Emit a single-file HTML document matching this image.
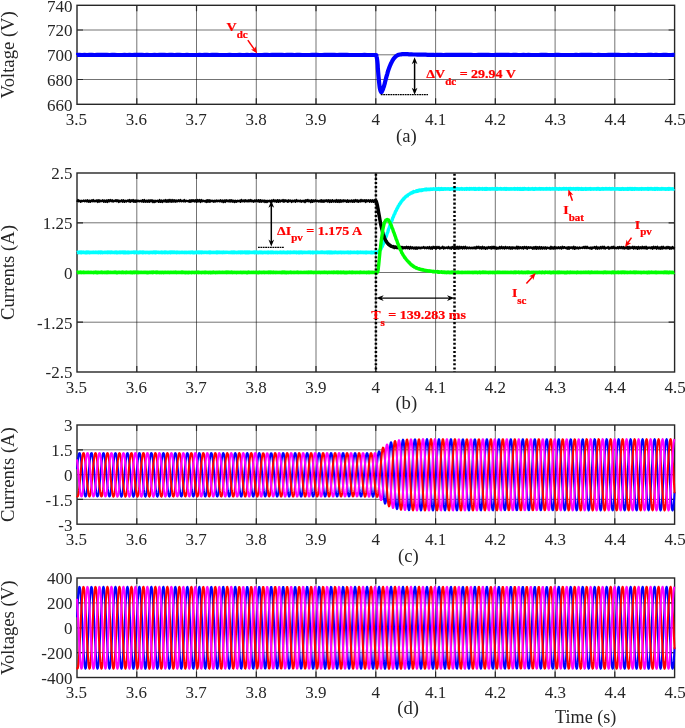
<!DOCTYPE html>
<html><head><meta charset="utf-8"><title>Simulation results</title>
<style>html,body{margin:0;padding:0;background:#fff}svg{display:block}text{font-family:'Liberation Serif', 'DejaVu Serif', serif;fill:#262626}text.r{fill:#ff0000;font-weight:bold;stroke:#ff0000;stroke-width:0.25px}</style>
</head><body>
<svg width="685" height="728" viewBox="0 0 685 728">
<rect width="685" height="728" fill="#fff"/>
<path d="M136.8,5.3 V104.3 M196.5,5.3 V104.3 M256.3,5.3 V104.3 M316,5.3 V104.3 M375.8,5.3 V104.3 M435.6,5.3 V104.3 M495.3,5.3 V104.3 M555.1,5.3 V104.3 M614.8,5.3 V104.3" stroke="#000" stroke-opacity="0.55" stroke-width="1" fill="none"/>
<path d="M77,79.5 H674.6 M77,54.8 H674.6 M77,30 H674.6" stroke="#000" stroke-opacity="0.55" stroke-width="1" fill="none"/>
<path d="M136.8,104.3 v-6 M136.8,5.3 v6 M196.5,104.3 v-6 M196.5,5.3 v6 M256.3,104.3 v-6 M256.3,5.3 v6 M316,104.3 v-6 M316,5.3 v6 M375.8,104.3 v-6 M375.8,5.3 v6 M435.6,104.3 v-6 M435.6,5.3 v6 M495.3,104.3 v-6 M495.3,5.3 v6 M555.1,104.3 v-6 M555.1,5.3 v6 M614.8,104.3 v-6 M614.8,5.3 v6 M77,79.5 h6 M674.6,79.5 h-6 M77,54.8 h6 M674.6,54.8 h-6 M77,30 h6 M674.6,30 h-6" stroke="#262626" stroke-width="1.2" fill="none"/>
<rect x="77" y="5.3" width="597.6" height="99" fill="none" stroke="#262626" stroke-width="1.4"/>
<text x="72.4" y="110.7" text-anchor="end" font-size="17">660</text>
<text x="72.4" y="86" text-anchor="end" font-size="17">680</text>
<text x="72.4" y="61.2" text-anchor="end" font-size="17">700</text>
<text x="72.4" y="36.4" text-anchor="end" font-size="17">720</text>
<text x="72.4" y="11.7" text-anchor="end" font-size="17">740</text>
<text x="76.4" y="124.8" text-anchor="middle" font-size="17">3.5</text>
<text x="136.3" y="124.8" text-anchor="middle" font-size="17">3.6</text>
<text x="196.1" y="124.8" text-anchor="middle" font-size="17">3.7</text>
<text x="256" y="124.8" text-anchor="middle" font-size="17">3.8</text>
<text x="315.8" y="124.8" text-anchor="middle" font-size="17">3.9</text>
<text x="375.7" y="124.8" text-anchor="middle" font-size="17">4</text>
<text x="435.6" y="124.8" text-anchor="middle" font-size="17">4.1</text>
<text x="495.4" y="124.8" text-anchor="middle" font-size="17">4.2</text>
<text x="555.3" y="124.8" text-anchor="middle" font-size="17">4.3</text>
<text x="615.1" y="124.8" text-anchor="middle" font-size="17">4.4</text>
<text x="675" y="124.8" text-anchor="middle" font-size="17">4.5</text>
<text transform="translate(13.5,54.8) rotate(-90)" text-anchor="middle" font-size="18.67">Voltage (V)</text>
<text x="406.3" y="142.1" text-anchor="middle" font-size="18.67">(a)</text>
<svg x="76" y="5.3" width="599.8" height="99" viewBox="76 5.3 599.8 99" overflow="hidden">
<path d="M77,55 77,54.9 79.5,54.9 82,55 84.5,54.9 87,55 89.5,54.9 92,54.9 94.5,55 97,54.9 99.5,54.9 102,54.9 104.5,54.9 107,54.9 109.5,55 112,54.9 114.5,54.9 117,55 119.5,55 122,55 124.5,54.9 127,55 129.5,54.9 132,55 134.5,54.9 137,54.9 139.5,54.9 142,54.9 144.5,55 147,54.9 149.5,55 152,55 154.5,54.9 157,55 159.5,54.9 162,54.9 164.5,54.9 167,55 169.5,54.9 172,54.9 174.5,55 177,54.9 179.5,54.9 182,55 184.5,55 187,54.9 189.5,55 192,55 194.5,55 197,55 199.5,54.9 202,55 204.5,54.9 207,54.9 209.5,55 212,54.9 214.5,54.9 217,54.9 219.5,55 222,55 224.5,55 227,55 229.5,54.9 232,55 234.5,55 237,55 239.5,54.9 242,55 244.5,55 247,54.9 249.5,55 252,54.9 254.5,55 257,55 259.5,55 262,55 264.5,54.9 267,54.9 269.5,55 272,54.9 274.5,54.9 277,54.9 279.5,54.9 282,54.9 284.5,55 287,54.9 289.5,54.9 292,54.9 294.5,55 297,54.9 299.5,54.9 302,55 304.5,55 307,55 309.5,55 312,54.9 314.5,54.9 317,54.9 319.5,55 322,55 324.5,54.9 327,54.9 329.5,54.9 332,54.9 334.5,54.9 337,55 339.5,54.9 342,54.9 344.5,54.9 347,54.9 349.5,55 352,55 354.5,55 357,55 359.5,55 362,55 364.5,54.9 367,55 369.5,55 372,55 374.5,55 376.3,55 376.4,55.5 376.6,56.2 376.7,57.1 376.9,58.2 377.1,59.5 377.3,61 377.5,62.9 377.7,65.2 377.8,67.6 378,70.2 378.2,72.7 378.4,75 378.6,77.2 378.8,79.3 379,81.4 379.2,83.4 379.4,85.1 379.6,86.7 379.8,88 380.1,89.2 380.3,90.2 380.6,91 380.9,91.6 381.1,92 381.3,92.2 381.6,92.1 381.8,91.8 382,91.3 382.2,90.8 382.5,90.2 382.8,89.6 383.1,88.9 383.3,88 383.6,87.1 384,86.1 384.3,85 384.7,83.7 385,82.3 385.4,80.8 385.8,79.2 386.2,77.6 386.6,76.2 387,74.8 387.4,73.5 387.7,72.2 388.1,71 388.5,69.7 388.9,68.6 389.3,67.5 389.7,66.5 390.1,65.5 390.5,64.6 390.9,63.7 391.3,62.8 391.8,61.9 392.2,61.1 392.7,60.2 393.2,59.5 393.7,58.7 394.2,58.1 394.7,57.5 395.2,57 395.6,56.6 396.1,56.2 396.6,55.8 397.1,55.5 397.6,55.2 398,55 398.4,54.9 398.9,54.7 399.4,54.6 400,54.5 400.7,54.4 401.3,54.3 402.1,54.2 402.9,54.2 403.8,54.1 404.7,54.1 405.7,54.1 406.7,54.1 407.8,54.2 408.9,54.3 410.2,54.3 411.7,54.4 413.4,54.5 415.3,54.5 417.3,54.6 419.3,54.6 421.4,54.7 423.4,54.7 425.5,54.7 427.7,54.8 429.9,54.8 432,54.9 433.7,54.9 435,55 436,54.9 438.5,54.9 441,54.9 443.5,55 446,54.9 448.5,54.9 451,54.9 453.5,54.9 456,54.9 458.5,54.9 461,54.9 463.5,54.9 466,54.9 468.5,54.9 471,54.9 473.5,55 476,55 478.5,54.9 481,54.9 483.5,54.9 486,54.9 488.5,54.9 491,55 493.5,55 496,54.9 498.5,54.9 501,54.9 503.5,54.9 506,54.9 508.5,54.9 511,55 513.5,54.9 516,54.9 518.5,55 521,55 523.5,54.9 526,55 528.5,54.9 531,55 533.5,55 536,55 538.5,55 541,54.9 543.5,54.9 546,54.9 548.5,55 551,55 553.5,55 556,54.9 558.5,54.9 561,55 563.5,55 566,55 568.5,55 571,55 573.5,55 576,54.9 578.5,55 581,54.9 583.5,54.9 586,54.9 588.5,54.9 591,54.9 593.5,55 596,55 598.5,54.9 601,55 603.5,55 606,55 608.5,54.9 611,54.9 613.5,54.9 616,54.9 618.5,54.9 621,55 623.5,55 626,55 628.5,54.9 631,55 633.5,55 636,54.9 638.5,55 641,55 643.5,55 646,55 648.5,54.9 651,54.9 653.5,55 656,54.9 658.5,55 661,55 663.5,54.9 666,54.9 668.5,55 671,55 673.5,54.9 674.6,55" stroke="#0000ff" stroke-width="4.2" fill="none" stroke-linejoin="round"/>
</svg>
<path d="M380.8,94.7 H428" stroke="#000" stroke-width="1.3" stroke-dasharray="1.8 0.6" fill="none"/>
<path d="M414.60,61.40 L414.60,90.50" stroke="#000" stroke-width="1.5" fill="none"/>
<path d="M414.6,94.7 L411.75,87.70 L414.60,89.80 L417.45,87.70 Z" fill="#000"/>
<path d="M414.6,57.2 L417.45,64.20 L414.60,62.10 L411.75,64.20 Z" fill="#000"/>
<text transform="translate(226.6,30.9) scale(1,0.95)" font-size="14" class="r">V<tspan dy="6.95" font-size="11">dc</tspan></text>
<path d="M247.80,40.10 L254.85,50.07" stroke="#ff0000" stroke-width="1.5" fill="none"/>
<path d="M257.2,53.4 L251.03,49.43 L254.26,49.24 L255.52,46.26 Z" fill="#ff0000"/>
<text transform="translate(426.3,78.4) scale(1,0.95)" font-size="14" class="r">&#916;V<tspan dy="6.95" font-size="11">dc</tspan><tspan dy="-6.95" font-size="14"> = 29.94 V</tspan></text>
<path d="M136.8,173 V372 M196.5,173 V372 M256.3,173 V372 M316,173 V372 M375.8,173 V372 M435.6,173 V372 M495.3,173 V372 M555.1,173 V372 M614.8,173 V372" stroke="#000" stroke-opacity="0.55" stroke-width="1" fill="none"/>
<path d="M77,322.2 H674.6 M77,272.5 H674.6 M77,222.8 H674.6" stroke="#000" stroke-opacity="0.55" stroke-width="1" fill="none"/>
<path d="M136.8,372 v-6 M136.8,173 v6 M196.5,372 v-6 M196.5,173 v6 M256.3,372 v-6 M256.3,173 v6 M316,372 v-6 M316,173 v6 M375.8,372 v-6 M375.8,173 v6 M435.6,372 v-6 M435.6,173 v6 M495.3,372 v-6 M495.3,173 v6 M555.1,372 v-6 M555.1,173 v6 M614.8,372 v-6 M614.8,173 v6 M77,322.2 h6 M674.6,322.2 h-6 M77,272.5 h6 M674.6,272.5 h-6 M77,222.8 h6 M674.6,222.8 h-6" stroke="#262626" stroke-width="1.2" fill="none"/>
<rect x="77" y="173" width="597.6" height="199" fill="none" stroke="#262626" stroke-width="1.4"/>
<text x="72.4" y="378.4" text-anchor="end" font-size="17">-2.5</text>
<text x="72.4" y="328.6" text-anchor="end" font-size="17">-1.25</text>
<text x="72.4" y="278.9" text-anchor="end" font-size="17">0</text>
<text x="72.4" y="229.2" text-anchor="end" font-size="17">1.25</text>
<text x="72.4" y="179.4" text-anchor="end" font-size="17">2.5</text>
<text x="76.4" y="392.5" text-anchor="middle" font-size="17">3.5</text>
<text x="136.3" y="392.5" text-anchor="middle" font-size="17">3.6</text>
<text x="196.1" y="392.5" text-anchor="middle" font-size="17">3.7</text>
<text x="256" y="392.5" text-anchor="middle" font-size="17">3.8</text>
<text x="315.8" y="392.5" text-anchor="middle" font-size="17">3.9</text>
<text x="375.7" y="392.5" text-anchor="middle" font-size="17">4</text>
<text x="435.6" y="392.5" text-anchor="middle" font-size="17">4.1</text>
<text x="495.4" y="392.5" text-anchor="middle" font-size="17">4.2</text>
<text x="555.3" y="392.5" text-anchor="middle" font-size="17">4.3</text>
<text x="615.1" y="392.5" text-anchor="middle" font-size="17">4.4</text>
<text x="675" y="392.5" text-anchor="middle" font-size="17">4.5</text>
<text transform="translate(13.5,272.5) rotate(-90)" text-anchor="middle" font-size="18.67">Currents (A)</text>
<text x="406.3" y="408.8" text-anchor="middle" font-size="18.67">(b)</text>
<svg x="76" y="173" width="599.8" height="199" viewBox="76 173 599.8 199" overflow="hidden">
<path d="M77,252.6 77.7,252.2 78.4,252.8 79.1,252.1 79.8,252.6 80.5,252 81.2,252.8 81.9,252.1 82.6,252.6 83.3,252.1 84,252.6 84.7,252.3 85.4,252.8 86.1,252.1 86.8,252.7 87.5,252 88.2,252.6 88.9,252 89.6,252.8 90.3,252.2 91,252.6 91.7,252.2 92.4,252.6 93.1,252.1 93.8,252.6 94.5,252.2 95.2,252.6 95.9,252 96.6,252.6 97.3,252.2 98,252.7 98.7,252 99.4,252.6 100.1,252 100.8,252.7 101.5,252.1 102.2,252.7 102.9,252.3 103.6,252.6 104.3,252.2 105,252.5 105.7,252.1 106.4,252.6 107.1,252.1 107.8,252.7 108.5,252.1 109.2,252.6 109.9,252.1 110.6,252.7 111.3,252.1 112,252.5 112.7,252.1 113.4,252.6 114.1,252.2 114.8,252.7 115.5,252.1 116.2,252.7 116.9,252.1 117.6,252.8 118.3,252.2 119,252.7 119.7,252.1 120.4,252.7 121.1,252.1 121.8,252.6 122.5,252.1 123.2,252.7 123.9,252 124.6,252.7 125.3,252 126,252.8 126.7,252.2 127.4,252.7 128.1,252 128.8,252.8 129.5,252.2 130.2,252.6 130.9,252.2 131.6,252.5 132.3,252.2 133,252.5 133.7,252.1 134.4,252.7 135.1,252 135.8,252.6 136.5,252.1 137.2,252.7 137.9,252.2 138.6,252.8 139.3,252 140,252.6 140.7,252 141.4,252.6 142.1,252.1 142.8,252.8 143.5,252 144.2,252.6 144.9,252.2 145.6,252.7 146.3,252.2 147,252.6 147.7,252.2 148.4,252.7 149.1,252.3 149.8,252.7 150.5,252.2 151.2,252.5 151.9,252.2 152.6,252.7 153.3,252.1 154,252.5 154.7,252 155.4,252.7 156.1,252 156.8,252.5 157.5,252.2 158.2,252.5 158.9,252.1 159.6,252.6 160.3,252.2 161,252.6 161.7,252 162.4,252.7 163.1,252.2 163.8,252.6 164.5,252 165.2,252.7 165.9,252.1 166.6,252.5 167.3,252.3 168,252.7 168.7,252.2 169.4,252.5 170.1,252 170.8,252.7 171.5,252.1 172.2,252.5 172.9,252 173.6,252.5 174.3,252 175,252.6 175.7,252.2 176.4,252.7 177.1,252 177.8,252.6 178.5,252.2 179.2,252.7 179.9,252.2 180.6,252.6 181.3,252.2 182,252.5 182.7,252.2 183.4,252.6 184.1,252.2 184.8,252.7 185.5,252.2 186.2,252.7 186.9,252.2 187.6,252.6 188.3,252.3 189,252.6 189.7,252.3 190.4,252.7 191.1,252.1 191.8,252.6 192.5,252.1 193.2,252.8 193.9,252.3 194.6,252.7 195.3,252.2 196,252.7 196.7,252 197.4,252.6 198.1,252.1 198.8,252.7 199.5,252 200.2,252.6 200.9,252 201.6,252.7 202.3,252.1 203,252.6 203.7,252.2 204.4,252.5 205.1,252.2 205.8,252.5 206.5,252.1 207.2,252.6 207.9,252.2 208.6,252.5 209.3,252 210,252.8 210.7,252.1 211.4,252.6 212.1,252.2 212.8,252.6 213.5,252.2 214.2,252.6 214.9,252.2 215.6,252.6 216.3,252 217,252.8 217.7,252.1 218.4,252.6 219.1,252 219.8,252.6 220.5,252.2 221.2,252.5 221.9,252.2 222.6,252.7 223.3,252.1 224,252.6 224.7,252.1 225.4,252.5 226.1,252.2 226.8,252.5 227.5,252.2 228.2,252.5 228.9,252.3 229.6,252.6 230.3,252.2 231,252.7 231.7,252.1 232.4,252.7 233.1,252.1 233.8,252.7 234.5,252 235.2,252.6 235.9,252.2 236.6,252.8 237.3,252.2 238,252.7 238.7,252.1 239.4,252.5 240.1,252 240.8,252.8 241.5,252.1 242.2,252.7 242.9,252.1 243.6,252.6 244.3,252.1 245,252.7 245.7,252 246.4,252.7 247.1,252 247.8,252.7 248.5,252 249.2,252.7 249.9,252.1 250.6,252.6 251.3,252.3 252,252.6 252.7,252.2 253.4,252.5 254.1,252 254.8,252.7 255.5,252.1 256.2,252.7 256.9,252.1 257.6,252.7 258.3,252.3 259,252.7 259.7,252.1 260.4,252.7 261.1,252.1 261.8,252.7 262.5,252.3 263.2,252.7 263.9,252.2 264.6,252.5 265.3,252.2 266,252.7 266.7,252.2 267.4,252.7 268.1,252 268.8,252.7 269.5,252.2 270.2,252.7 270.9,252.1 271.6,252.7 272.3,252.1 273,252.7 273.7,252.3 274.4,252.6 275.1,252.2 275.8,252.7 276.5,252.2 277.2,252.7 277.9,252.3 278.6,252.5 279.3,252.2 280,252.7 280.7,252.1 281.4,252.7 282.1,252.2 282.8,252.7 283.5,252.1 284.2,252.7 284.9,252.2 285.6,252.8 286.3,252.2 287,252.8 287.7,252 288.4,252.5 289.1,252.2 289.8,252.7 290.5,252 291.2,252.6 291.9,252.2 292.6,252.6 293.3,252 294,252.6 294.7,252.1 295.4,252.6 296.1,252.1 296.8,252.8 297.5,252.2 298.2,252.7 298.9,252.1 299.6,252.8 300.3,252.1 301,252.6 301.7,252 302.4,252.7 303.1,252.3 303.8,252.5 304.5,252.1 305.2,252.6 305.9,252.2 306.6,252.6 307.3,252.2 308,252.6 308.7,252 309.4,252.5 310.1,252.1 310.8,252.8 311.5,252.2 312.2,252.8 312.9,252.1 313.6,252.8 314.3,252.2 315,252.6 315.7,252.2 316.4,252.8 317.1,252.1 317.8,252.6 318.5,252.2 319.2,252.6 319.9,252.3 320.6,252.5 321.3,252 322,252.6 322.7,252 323.4,252.6 324.1,252.2 324.8,252.7 325.5,252.2 326.2,252.6 326.9,252 327.6,252.8 328.3,252.1 329,252.7 329.7,252 330.4,252.8 331.1,252.1 331.8,252.7 332.5,252.3 333.2,252.7 333.9,252.2 334.6,252.7 335.3,252.1 336,252.6 336.7,252.3 337.4,252.8 338.1,252.2 338.8,252.7 339.5,252.2 340.2,252.6 340.9,252.1 341.6,252.8 342.3,252.2 343,252.7 343.7,252.2 344.4,252.7 345.1,252.2 345.8,252.6 346.5,252.2 347.2,252.6 347.9,252 348.6,252.7 349.3,252.2 350,252.8 350.7,252 351.4,252.6 352.1,252.2 352.8,252.6 353.5,252.3 354.2,252.6 354.9,252.3 355.6,252.6 356.3,252.2 357,252.7 357.7,252 358.4,252.7 359.1,252.2 359.8,252.6 360.5,252.1 361.2,252.6 361.9,252.2 362.6,252.5 363.3,252.2 364,252.8 364.7,252.2 365.4,252.7 366.1,252.1 366.8,252.8 367.5,252.2 368.2,252.6 368.9,252.2 369.6,252.6 370.3,252.2 371,252.8 371.7,252 372.4,252.8 373.1,252.3 373.8,252.5 374.5,252.1 375.2,252.8 375.9,252.1 376.6,252.7 377.3,252.1 378,252.2 378.7,251.2 379.4,251.3 380.1,249.7 380.8,249.4 381.5,247.6 382.2,246.6 382.9,244.7 383.6,243.5 384.3,241.2 385,240 385.7,237.4 386.4,236 387.1,233.4 387.8,232 388.5,229.4 389.2,227.9 389.9,225.4 390.6,224 391.3,221.5 392,220.4 392.7,218.1 393.4,216.7 394.1,214.7 394.8,213.6 395.5,211.5 396.2,210.5 396.9,208.8 397.6,207.9 398.3,206.1 399,205.4 399.7,203.8 400.4,203.3 401.1,201.8 401.8,201.2 402.5,199.9 403.2,199.7 403.9,198.3 404.6,198.2 405.3,196.9 406,196.7 406.7,195.8 407.4,195.8 408.1,194.6 408.8,194.6 409.5,193.9 410.2,193.8 410.9,192.9 411.6,193.1 412.3,192.3 413,192.6 413.7,191.6 414.4,191.9 415.1,191.4 415.8,191.5 416.5,190.8 417.2,191.2 417.9,190.5 418.6,190.9 419.3,190.1 420,190.6 420.7,190 421.4,190.5 422.1,189.8 422.8,190.2 423.5,189.6 424.2,189.9 424.9,189.3 425.6,189.8 426.3,189.1 427,189.7 427.7,189.2 428.4,189.5 429.1,189.1 429.8,189.6 430.5,188.9 431.2,189.4 431.9,189 432.6,189.3 433.3,188.7 434,189.3 434.7,189 435.4,189.2 436.1,188.8 436.8,189.4 437.5,188.7 438.2,189.3 438.9,188.6 439.6,189.4 440.3,188.8 441,189.2 441.7,188.6 442.4,189.3 443.1,188.8 443.8,189.3 444.5,188.7 445.2,189.2 445.9,188.7 446.6,189.1 447.3,188.8 448,189.1 448.7,188.7 449.4,189.3 450.1,188.8 450.8,189.3 451.5,188.7 452.2,189.1 452.9,188.6 453.6,189.3 454.3,188.7 455,189 455.7,188.7 456.4,189.1 457.1,188.5 457.8,189.1 458.5,188.7 459.2,189.3 459.9,188.8 460.6,189.1 461.3,188.6 462,189.2 462.7,188.8 463.4,189 464.1,188.8 464.8,189.3 465.5,188.7 466.2,189.2 466.9,188.5 467.6,189.1 468.3,188.7 469,189.3 469.7,188.6 470.4,189.1 471.1,188.6 471.8,189.1 472.5,188.7 473.2,189 473.9,188.6 474.6,189.3 475.3,188.6 476,189.3 476.7,188.8 477.4,189.1 478.1,188.6 478.8,189.3 479.5,188.5 480.2,189.1 480.9,188.7 481.6,189.1 482.3,188.6 483,189.3 483.7,188.7 484.4,189.2 485.1,188.6 485.8,189.3 486.5,188.6 487.2,189.2 487.9,188.7 488.6,189.1 489.3,188.7 490,189.2 490.7,188.8 491.4,189.1 492.1,188.6 492.8,189.1 493.5,188.8 494.2,189 494.9,188.6 495.6,189.1 496.3,188.5 497,189.3 497.7,188.5 498.4,189.1 499.1,188.8 499.8,189 500.5,188.6 501.2,189.2 501.9,188.7 502.6,189.1 503.3,188.7 504,189.2 504.7,188.6 505.4,189.2 506.1,188.5 506.8,189.2 507.5,188.7 508.2,189.3 508.9,188.7 509.6,189.2 510.3,188.7 511,189.2 511.7,188.7 512.4,189.1 513.1,188.7 513.8,189.1 514.5,188.5 515.2,189.2 515.9,188.7 516.6,189.1 517.3,188.5 518,189.2 518.7,188.7 519.4,189.2 520.1,188.6 520.8,189.3 521.5,188.8 522.2,189.2 522.9,188.6 523.6,189.3 524.3,188.5 525,189 525.7,188.7 526.4,189.1 527.1,188.7 527.8,189.3 528.5,188.6 529.2,189.3 529.9,188.7 530.6,189.3 531.3,188.7 532,189.1 532.7,188.6 533.4,189.3 534.1,188.8 534.8,189.2 535.5,188.6 536.2,189.1 536.9,188.7 537.6,189.1 538.3,188.7 539,189.1 539.7,188.6 540.4,189.2 541.1,188.7 541.8,189 542.5,188.7 543.2,189.2 543.9,188.7 544.6,189.1 545.3,188.7 546,189.2 546.7,188.6 547.4,189 548.1,188.8 548.8,189.1 549.5,188.6 550.2,189.2 550.9,188.8 551.6,189.1 552.3,188.6 553,189.1 553.7,188.7 554.4,189.1 555.1,188.5 555.8,189.1 556.5,188.6 557.2,189.1 557.9,188.7 558.6,189.3 559.3,188.5 560,189.1 560.7,188.7 561.4,189.2 562.1,188.7 562.8,189 563.5,188.5 564.2,189.1 564.9,188.6 565.6,189.1 566.3,188.5 567,189.1 567.7,188.7 568.4,189 569.1,188.6 569.8,189.2 570.5,188.5 571.2,189 571.9,188.6 572.6,189.1 573.3,188.6 574,189.1 574.7,188.7 575.4,189.2 576.1,188.5 576.8,189.1 577.5,188.6 578.2,189.2 578.9,188.5 579.6,189.1 580.3,188.7 581,189.3 581.7,188.5 582.4,189.2 583.1,188.8 583.8,189.3 584.5,188.7 585.2,189.3 585.9,188.6 586.6,189.3 587.3,188.7 588,189.2 588.7,188.7 589.4,189.1 590.1,188.5 590.8,189.3 591.5,188.7 592.2,189.1 592.9,188.7 593.6,189.2 594.3,188.7 595,189.1 595.7,188.7 596.4,189.2 597.1,188.5 597.8,189 598.5,188.6 599.2,189.2 599.9,188.8 600.6,189.3 601.3,188.7 602,189.2 602.7,188.6 603.4,189.2 604.1,188.7 604.8,189.1 605.5,188.6 606.2,189.1 606.9,188.6 607.6,189.1 608.3,188.7 609,189 609.7,188.6 610.4,189.2 611.1,188.7 611.8,189.2 612.5,188.6 613.2,189.1 613.9,188.7 614.6,189.2 615.3,188.8 616,189.1 616.7,188.7 617.4,189 618.1,188.7 618.8,189.2 619.5,188.8 620.2,189.2 620.9,188.8 621.6,189.2 622.3,188.6 623,189.2 623.7,188.8 624.4,189.2 625.1,188.7 625.8,189.3 626.5,188.7 627.2,189.3 627.9,188.5 628.6,189.2 629.3,188.6 630,189.1 630.7,188.5 631.4,189.2 632.1,188.5 632.8,189.3 633.5,188.7 634.2,189.2 634.9,188.5 635.6,189 636.3,188.7 637,189.2 637.7,188.7 638.4,189.3 639.1,188.7 639.8,189.2 640.5,188.7 641.2,189.2 641.9,188.5 642.6,189.1 643.3,188.7 644,189.2 644.7,188.7 645.4,189 646.1,188.7 646.8,189.1 647.5,188.5 648.2,189.2 648.9,188.5 649.6,189.1 650.3,188.6 651,189.1 651.7,188.6 652.4,189.2 653.1,188.7 653.8,189.3 654.5,188.6 655.2,189.2 655.9,188.5 656.6,189 657.3,188.5 658,189.2 658.7,188.7 659.4,189.2 660.1,188.7 660.8,189.3 661.5,188.6 662.2,189.1 662.9,188.6 663.6,189.1 664.3,188.7 665,189.2 665.7,188.8 666.4,189.2 667.1,188.7 667.8,189.2 668.5,188.5 669.2,189.2 669.9,188.6 670.6,189.1 671.3,188.8 672,189 672.7,188.7 673.4,189.2 674.1,188.7" stroke="#00ffff" stroke-width="3.4" fill="none" stroke-linejoin="round"/>
<path d="M77,201.9 78,199.8 78.9,201.5 79.9,200.4 80.8,202 81.8,200.6 82.7,201.4 83.7,200.3 84.6,201.5 85.6,200.3 86.5,201.6 87.5,200.1 88.4,201.9 89.4,200.4 90.3,202 91.3,200.2 92.2,201.5 93.2,199.8 94.1,201.6 95.1,200.5 96,201.5 97,200 97.9,202.2 98.9,199.9 99.8,201.8 100.8,200.4 101.7,201.4 102.7,200 103.6,201.9 104.6,200.3 105.5,202 106.5,200.2 107.4,202.2 108.4,199.9 109.3,201.6 110.3,199.8 111.2,201.4 112.2,200.1 113.1,201.8 114.1,200.4 115,201.4 116,199.9 116.9,201.4 117.9,200.1 118.8,202.2 119.8,200.5 120.7,201.6 121.7,200.1 122.6,201.9 123.6,200 124.5,202.1 125.5,200.5 126.4,201.7 127.4,200.3 128.3,201.4 129.3,199.8 130.2,202.1 131.2,200 132.1,201.4 133.1,199.8 134,202.1 135,200.2 135.9,202.1 136.9,200.2 137.8,201.6 138.8,200.5 139.7,201.6 140.7,200.6 141.6,201.7 142.5,199.9 143.5,202 144.4,199.8 145.4,202 146.3,200.4 147.3,201.9 148.2,200.2 149.2,202.1 150.1,200.1 151.1,201.6 152,200 153,202.3 153.9,200.4 154.9,202.2 155.8,200.6 156.8,201.6 157.7,200.4 158.7,202.1 159.6,199.8 160.6,202.1 161.5,200.3 162.5,202.2 163.4,200.3 164.4,201.6 165.3,199.8 166.3,202 167.2,200 168.2,202 169.1,199.7 170.1,201.8 171,199.8 172,202 172.9,199.8 173.9,201.8 174.8,200 175.8,201.9 176.7,200.3 177.7,201.6 178.6,200 179.6,201.5 180.5,199.8 181.5,201.5 182.4,200.6 183.4,201.5 184.3,199.8 185.3,201.7 186.2,200.5 187.2,201.4 188.1,200.6 189.1,202 190,200 191,202 191.9,199.9 192.9,201.4 193.8,200.1 194.8,201.7 195.7,199.9 196.7,202.1 197.6,199.8 198.6,201.5 199.5,199.8 200.5,202.2 201.4,199.8 202.4,201.5 203.3,200.4 204.3,201.5 205.2,200.6 206.2,202.2 207.1,199.9 208.1,202 209,199.9 210,202 210.9,200.3 211.9,201.5 212.8,200.5 213.8,202.1 214.7,200.4 215.7,201.7 216.6,200.2 217.6,201.4 218.5,200.4 219.5,201.6 220.4,200 221.4,201.7 222.3,200.3 223.3,202.3 224.2,200.2 225.2,202.2 226.1,200 227.1,201.4 228,200.2 229,201.8 229.9,199.9 230.9,201.7 231.8,200 232.8,201.9 233.7,200.4 234.7,202.2 235.6,200.5 236.6,202.1 237.5,200.5 238.5,201.4 239.4,200.4 240.4,202.1 241.3,199.7 242.3,201.4 243.2,200.2 244.2,201.8 245.1,199.9 246.1,201.6 247,200.2 248,201.7 248.9,199.9 249.9,201.6 250.8,199.8 251.8,201.6 252.7,200.4 253.7,202 254.6,200.2 255.6,201.5 256.5,200 257.5,201.5 258.4,199.9 259.4,202 260.3,199.9 261.3,202 262.2,200.3 263.2,201.8 264.1,200.3 265.1,202.2 266,200.5 267,202.2 267.9,200.6 268.9,201.6 269.8,200.4 270.8,202.2 271.7,200.2 272.7,201.7 273.6,199.8 274.6,201.6 275.5,200.2 276.5,201.9 277.4,199.9 278.4,202.1 279.3,200 280.3,201.7 281.2,200.3 282.2,201.5 283.1,199.8 284.1,202 285,199.9 286,201.5 286.9,200.2 287.9,202.1 288.8,200.1 289.8,201.5 290.7,200.2 291.7,202.2 292.6,200.4 293.6,201.6 294.5,200.3 295.5,202 296.4,199.8 297.4,201.5 298.3,200.5 299.3,201.6 300.2,200.3 301.2,201.9 302.1,200.5 303.1,201.7 304,200.4 305,202.3 305.9,199.9 306.9,201.5 307.8,199.7 308.8,201.5 309.7,200.3 310.7,202.3 311.6,199.9 312.6,202.1 313.5,200.2 314.5,201.6 315.4,200 316.4,201.5 317.3,200.4 318.3,201.7 319.2,200.6 320.2,201.8 321.1,199.9 322.1,202 323,200.2 324,202 324.9,200.2 325.9,201.5 326.8,200.1 327.8,201.8 328.7,199.9 329.7,202.2 330.6,200.2 331.6,201.9 332.5,199.9 333.5,201.8 334.4,200.4 335.4,202 336.3,199.8 337.3,202.1 338.2,200 339.2,202.2 340.1,200 341.1,202 342,200.2 343,201.7 343.9,200 344.9,201.5 345.8,200.2 346.8,202.1 347.7,200 348.7,202 349.6,200.4 350.6,201.8 351.5,200.2 352.5,202 353.4,200.2 354.4,202 355.3,199.8 356.3,201.6 357.2,200 358.2,202.1 359.1,200.3 360.1,201.8 361,199.7 362,201.4 362.9,200.1 363.9,201.5 364.8,199.9 365.8,202.2 366.7,200.1 367.7,201.5 368.6,200.1 369.6,201.9 370.5,200 371.5,201.9 372.4,200 373.4,202.1 374.3,200.1 375.3,201.8 376.2,200.2 377.2,205.4 378.1,208.7 379.1,215.9 380,219.4 381,225.8 381.9,228.2 382.9,233.8 383.8,235.7 384.8,239.2 385.7,239.8 386.7,242.5 387.6,242.6 388.6,245.2 389.5,244.1 390.5,246.5 391.4,245.6 392.4,247.2 393.3,245.8 394.3,248.4 395.2,246.4 396.2,248 397.1,246.4 398.1,248.3 399,247 400,248.2 400.9,246.6 401.9,248.9 402.8,246.8 403.8,248.6 404.7,246.9 405.7,248.4 406.6,246.5 407.6,248.5 408.5,246.8 409.5,248.9 410.4,246.7 411.4,248.6 412.3,247.1 413.3,248.7 414.2,247.3 415.2,248.9 416.1,247.1 417.1,249 418,247.2 419,248.5 419.9,247.2 420.9,248.6 421.8,247.2 422.8,248.2 423.7,246.8 424.7,248.4 425.6,247.2 426.6,248.5 427.5,247 428.5,248.6 429.4,246.8 430.4,248.8 431.3,247.1 432.3,249 433.2,246.6 434.2,248.2 435.1,246.7 436.1,249 437,246.7 438,248.3 438.9,246.7 439.9,248.8 440.8,247.4 441.8,248.2 442.7,246.5 443.7,248.8 444.6,247.2 445.6,248.3 446.5,247.3 447.5,248.4 448.4,246.7 449.4,248.5 450.3,247.3 451.3,249 452.2,246.7 453.2,248.3 454.1,246.6 455.1,248.7 456,246.7 457,248.8 457.9,246.6 458.9,248.9 459.8,246.6 460.8,248.4 461.7,246.8 462.7,248.7 463.6,246.7 464.6,248.6 465.5,246.6 466.5,248.7 467.4,247.2 468.4,248.4 469.3,247.3 470.3,248.6 471.2,247.4 472.2,248.6 473.1,247.3 474.1,248.6 475,247 476,248.7 476.9,246.6 477.9,248.2 478.8,246.6 479.8,248.6 480.7,246.9 481.7,248.8 482.6,246.6 483.6,248.5 484.5,247 485.5,249.1 486.4,247.3 487.4,248.8 488.3,246.8 489.3,248.2 490.2,246.9 491.2,248.8 492.1,246.6 493.1,248.5 494,246.5 495,248.7 495.9,247 496.9,249 497.8,247.4 498.8,248.8 499.7,246.8 500.7,248.5 501.6,246.6 502.6,248.5 503.5,247 504.5,248.7 505.4,246.7 506.4,248.4 507.3,247 508.3,248.6 509.2,246.9 510.2,248.9 511.1,247.1 512.1,248.9 513,247 514,248.6 514.9,247.2 515.9,248.7 516.8,246.5 517.8,248.8 518.7,246.7 519.7,248.5 520.6,247.1 521.6,248.5 522.5,246.9 523.5,248.8 524.4,246.7 525.4,248.2 526.3,246.8 527.3,249 528.2,246.9 529.2,248.2 530.1,247.1 531.1,248.2 532,247.2 533,249 533.9,246.9 534.9,248.8 535.8,246.7 536.8,249 537.7,246.9 538.7,248.8 539.6,246.8 540.6,248.8 541.5,246.9 542.5,248.8 543.4,247.2 544.4,248.8 545.3,247 546.3,248.9 547.2,247.3 548.2,248.4 549.1,247.4 550.1,248.9 551,246.6 552,248.8 552.9,247.1 553.9,248.9 554.8,246.7 555.8,248.7 556.7,247.2 557.7,248.5 558.6,247 559.6,248.5 560.5,247 561.5,248.8 562.4,246.6 563.4,248.2 564.3,246.9 565.3,248.2 566.2,247.3 567.2,248.9 568.1,246.9 569.1,249 570,247 571,248.2 571.9,247.1 572.9,248.7 573.8,246.6 574.8,249.1 575.7,247 576.7,248.6 577.6,247.3 578.6,248.8 579.5,247.2 580.5,248.3 581.4,247.4 582.4,248.2 583.3,246.8 584.3,248.3 585.2,246.5 586.2,248.3 587.1,246.6 588.1,248.3 589,247.4 590,248.8 590.9,247.2 591.9,248.9 592.8,247.2 593.8,248.2 594.7,246.7 595.7,248.8 596.6,246.6 597.6,248.9 598.5,247.3 599.5,248.8 600.4,246.8 601.4,248.6 602.3,246.6 603.3,248.4 604.2,246.5 605.2,248.8 606.2,247.4 607.1,248.2 608.1,246.8 609,248.9 610,247.3 610.9,248.5 611.9,246.7 612.8,248.3 613.8,246.6 614.7,248.6 615.7,247.4 616.6,248.5 617.6,246.9 618.5,248.6 619.5,246.8 620.4,248.3 621.4,246.7 622.3,248.5 623.3,246.8 624.2,248.8 625.2,247 626.1,248.5 627.1,246.7 628,249 629,246.7 629.9,248.7 630.9,247.1 631.8,248.2 632.8,246.5 633.7,248.8 634.7,246.7 635.6,248.5 636.6,246.9 637.5,249.1 638.5,246.7 639.4,248.7 640.4,247.1 641.3,248.6 642.3,246.6 643.2,248.5 644.2,246.8 645.1,248.7 646.1,246.6 647,248.9 648,247.2 648.9,248.2 649.9,247.2 650.8,248.6 651.8,246.9 652.7,248.9 653.7,246.6 654.6,248.2 655.6,246.7 656.5,248.9 657.5,246.6 658.4,248.7 659.4,247.2 660.3,249 661.3,246.7 662.2,248.8 663.2,246.6 664.1,248.5 665.1,247.3 666,248.7 667,246.7 667.9,248.4 668.9,246.7 669.8,249 670.8,247.2 671.7,248.7 672.7,246.8 673.6,248.6 674.6,247.2" stroke="#000" stroke-width="1.9" fill="none" stroke-linejoin="round"/>
<path d="M375,201 375.5,201 376,201.1 376.5,202.1 377,203.9 377.5,206.2 378,208.9 378.5,211.7 379,214.6 379.5,217.4 380,220.2 380.5,222.8 381,225.3 381.5,227.6 382,229.7 382.5,231.7 383,233.5 383.5,235.1 384,236.5 384.5,237.8 385,239 385.5,240.1 386,241 386.5,241.8 387,242.6 387.5,243.2 388,243.8 388.5,244.3 389,244.7 389.5,245.1 390,245.5 390.5,245.8 391,246 391.5,246.3 392,246.5 392.5,246.6 393,246.8 393.5,246.9 394,247 394.5,247.1 395,247.2 395.5,247.3 396,247.4 396.5,247.4 397,247.5 397.5,247.5 398,247.6 398.5,247.6 399,247.6 399.5,247.6 400,247.7 400.5,247.7 401,247.7 401.5,247.7 402,247.7" stroke="#000" stroke-width="3.5" fill="none" stroke-linejoin="round" stroke-linecap="round"/>
<path d="M77,272.6 77.7,272.1 78.4,272.7 79.1,272.2 79.8,272.5 80.5,272.1 81.2,272.7 81.9,272.2 82.6,272.6 83.3,272.1 84,272.7 84.7,272.2 85.4,272.6 86.1,272.2 86.8,272.6 87.5,272.2 88.2,272.5 88.9,272.1 89.6,272.6 90.3,272.2 91,272.6 91.7,272.2 92.4,272.5 93.1,272.3 93.8,272.7 94.5,272.2 95.2,272.5 95.9,272.1 96.6,272.7 97.3,272.3 98,272.7 98.7,272.2 99.4,272.6 100.1,272.3 100.8,272.5 101.5,272.1 102.2,272.7 102.9,272.2 103.6,272.6 104.3,272.2 105,272.7 105.7,272.2 106.4,272.7 107.1,272.1 107.8,272.7 108.5,272.1 109.2,272.6 109.9,272.3 110.6,272.6 111.3,272.3 112,272.5 112.7,272.3 113.4,272.6 114.1,272.1 114.8,272.6 115.5,272.1 116.2,272.7 116.9,272.3 117.6,272.7 118.3,272.2 119,272.5 119.7,272.1 120.4,272.6 121.1,272.2 121.8,272.7 122.5,272.1 123.2,272.7 123.9,272.2 124.6,272.6 125.3,272.3 126,272.7 126.7,272.1 127.4,272.6 128.1,272.3 128.8,272.6 129.5,272.2 130.2,272.7 130.9,272.1 131.6,272.7 132.3,272.3 133,272.7 133.7,272.1 134.4,272.7 135.1,272.1 135.8,272.5 136.5,272.3 137.2,272.7 137.9,272.1 138.6,272.7 139.3,272.2 140,272.6 140.7,272.1 141.4,272.5 142.1,272.2 142.8,272.6 143.5,272.3 144.2,272.6 144.9,272.3 145.6,272.6 146.3,272.3 147,272.7 147.7,272.3 148.4,272.7 149.1,272.2 149.8,272.5 150.5,272.1 151.2,272.6 151.9,272.1 152.6,272.7 153.3,272.1 154,272.5 154.7,272.2 155.4,272.5 156.1,272.1 156.8,272.7 157.5,272.1 158.2,272.6 158.9,272.2 159.6,272.7 160.3,272.2 161,272.7 161.7,272.3 162.4,272.6 163.1,272.3 163.8,272.7 164.5,272.2 165.2,272.5 165.9,272.1 166.6,272.6 167.3,272.2 168,272.5 168.7,272.2 169.4,272.7 170.1,272.2 170.8,272.5 171.5,272.2 172.2,272.6 172.9,272.1 173.6,272.5 174.3,272.1 175,272.5 175.7,272.1 176.4,272.7 177.1,272.2 177.8,272.6 178.5,272.2 179.2,272.6 179.9,272.2 180.6,272.6 181.3,272.1 182,272.7 182.7,272.1 183.4,272.5 184.1,272.2 184.8,272.7 185.5,272.3 186.2,272.7 186.9,272.2 187.6,272.7 188.3,272.3 189,272.7 189.7,272.2 190.4,272.5 191.1,272.3 191.8,272.7 192.5,272.2 193.2,272.6 193.9,272.2 194.6,272.7 195.3,272.2 196,272.6 196.7,272.3 197.4,272.5 198.1,272.1 198.8,272.7 199.5,272.2 200.2,272.5 200.9,272.3 201.6,272.7 202.3,272.2 203,272.6 203.7,272.2 204.4,272.7 205.1,272.1 205.8,272.7 206.5,272.2 207.2,272.6 207.9,272.3 208.6,272.7 209.3,272.2 210,272.7 210.7,272.3 211.4,272.7 212.1,272.2 212.8,272.7 213.5,272.1 214.2,272.6 214.9,272.3 215.6,272.7 216.3,272.2 217,272.7 217.7,272.2 218.4,272.6 219.1,272.1 219.8,272.6 220.5,272.3 221.2,272.6 221.9,272.1 222.6,272.5 223.3,272.2 224,272.6 224.7,272.2 225.4,272.5 226.1,272.1 226.8,272.7 227.5,272.1 228.2,272.6 228.9,272.1 229.6,272.6 230.3,272.1 231,272.5 231.7,272.1 232.4,272.7 233.1,272.2 233.8,272.6 234.5,272.2 235.2,272.6 235.9,272.3 236.6,272.7 237.3,272.2 238,272.5 238.7,272.3 239.4,272.6 240.1,272.1 240.8,272.5 241.5,272.3 242.2,272.7 242.9,272.2 243.6,272.5 244.3,272.1 245,272.6 245.7,272.2 246.4,272.7 247.1,272.3 247.8,272.7 248.5,272.1 249.2,272.5 249.9,272.3 250.6,272.6 251.3,272.2 252,272.6 252.7,272.3 253.4,272.6 254.1,272.3 254.8,272.6 255.5,272.1 256.2,272.5 256.9,272.2 257.6,272.7 258.3,272.3 259,272.7 259.7,272.1 260.4,272.6 261.1,272.2 261.8,272.7 262.5,272.2 263.2,272.6 263.9,272.1 264.6,272.7 265.3,272.2 266,272.6 266.7,272.2 267.4,272.6 268.1,272.1 268.8,272.7 269.5,272.1 270.2,272.7 270.9,272.1 271.6,272.5 272.3,272.2 273,272.7 273.7,272.1 274.4,272.6 275.1,272.2 275.8,272.7 276.5,272.2 277.2,272.6 277.9,272.3 278.6,272.6 279.3,272.2 280,272.5 280.7,272.3 281.4,272.7 282.1,272.1 282.8,272.7 283.5,272.1 284.2,272.7 284.9,272.1 285.6,272.7 286.3,272.3 287,272.7 287.7,272.2 288.4,272.7 289.1,272.2 289.8,272.6 290.5,272.1 291.2,272.7 291.9,272.2 292.6,272.6 293.3,272.2 294,272.7 294.7,272.2 295.4,272.6 296.1,272.1 296.8,272.5 297.5,272.1 298.2,272.7 298.9,272.2 299.6,272.6 300.3,272.2 301,272.6 301.7,272.3 302.4,272.5 303.1,272.3 303.8,272.6 304.5,272.2 305.2,272.6 305.9,272.2 306.6,272.5 307.3,272.2 308,272.7 308.7,272.1 309.4,272.6 310.1,272.1 310.8,272.6 311.5,272.1 312.2,272.6 312.9,272.2 313.6,272.7 314.3,272.2 315,272.6 315.7,272.2 316.4,272.6 317.1,272.2 317.8,272.6 318.5,272.2 319.2,272.5 319.9,272.2 320.6,272.7 321.3,272.2 322,272.6 322.7,272.2 323.4,272.6 324.1,272.1 324.8,272.6 325.5,272.1 326.2,272.5 326.9,272.3 327.6,272.7 328.3,272.2 329,272.5 329.7,272.2 330.4,272.6 331.1,272.1 331.8,272.5 332.5,272.2 333.2,272.7 333.9,272.1 334.6,272.5 335.3,272.2 336,272.6 336.7,272.1 337.4,272.7 338.1,272.1 338.8,272.7 339.5,272.2 340.2,272.7 340.9,272.1 341.6,272.7 342.3,272.2 343,272.7 343.7,272.1 344.4,272.7 345.1,272.3 345.8,272.7 346.5,272.3 347.2,272.7 347.9,272.2 348.6,272.6 349.3,272.1 350,272.6 350.7,272.2 351.4,272.7 352.1,272.1 352.8,272.7 353.5,272.2 354.2,272.6 354.9,272.2 355.6,272.7 356.3,272.2 357,272.6 357.7,272.2 358.4,272.6 359.1,272.2 359.8,272.7 360.5,272.1 361.2,272.6 361.9,272.2 362.6,272.6 363.3,272.2 364,272.5 364.7,272.2 365.4,272.6 366.1,272.3 366.8,272.7 367.5,272.2 368.2,272.7 368.9,272.1 369.6,272.7 370.3,272.2 371,272.6 371.7,272.1 372.4,272.5 373.1,272.3 373.8,272.6 374.5,272.2 375.2,272.7 375.9,272.1 376.6,273.1 377.3,272.4 378,270.9 378.7,264.8 379.4,257.7 380.1,250.2 380.8,244.9 381.5,238.9 382.2,234.2 382.9,229.1 383.6,226 384.3,222.9 385,221.6 385.7,220.2 386.4,220.1 387.1,219.4 387.8,219.9 388.5,220 389.2,221.6 389.9,222.4 390.6,224.2 391.3,225.3 392,227.7 392.7,229.1 393.4,231.5 394.1,233 394.8,235.3 395.5,236.9 396.2,239.3 396.9,240.6 397.6,243.1 398.3,244.5 399,246.7 399.7,247.8 400.4,249.9 401.1,250.8 401.8,252.9 402.5,253.7 403.2,255.2 403.9,256 404.6,257.5 405.3,258 406,259.2 406.7,259.8 407.4,261 408.1,261.3 408.8,262.5 409.5,262.7 410.2,264 410.9,264.2 411.6,265.1 412.3,265.2 413,266.2 413.7,266.3 414.4,267.1 415.1,267.2 415.8,268 416.5,267.7 417.2,268.5 417.9,268.4 418.6,269 419.3,268.7 420,269.4 420.7,269.1 421.4,269.8 422.1,269.4 422.8,270.1 423.5,269.8 424.2,270.3 424.9,270.1 425.6,270.7 426.3,270.4 427,270.8 427.7,270.6 428.4,271.1 429.1,270.7 429.8,271.3 430.5,270.9 431.2,271.4 431.9,271.2 432.6,271.7 433.3,271.3 434,271.8 434.7,271.4 435.4,271.8 436.1,271.6 436.8,271.9 437.5,271.5 438.2,272.2 438.9,271.8 439.6,272.2 440.3,271.9 441,272.2 441.7,271.8 442.4,272.4 443.1,271.9 443.8,272.5 444.5,272 445.2,272.5 445.9,272.2 446.6,272.7 447.3,272.1 448,272.6 448.7,272.1 449.4,272.7 450.1,272.2 450.8,272.7 451.5,272.1 452.2,272.7 452.9,272.1 453.6,272.6 454.3,272.2 455,272.7 455.7,272.3 456.4,272.6 457.1,272.1 457.8,272.6 458.5,272.1 459.2,272.6 459.9,272.3 460.6,272.6 461.3,272.2 462,272.7 462.7,272.2 463.4,272.6 464.1,272.3 464.8,272.6 465.5,272.2 466.2,272.6 466.9,272.3 467.6,272.5 468.3,272.1 469,272.6 469.7,272.2 470.4,272.6 471.1,272.2 471.8,272.6 472.5,272.3 473.2,272.7 473.9,272.2 474.6,272.5 475.3,272.1 476,272.5 476.7,272.2 477.4,272.7 478.1,272.3 478.8,272.6 479.5,272.1 480.2,272.7 480.9,272.3 481.6,272.6 482.3,272.1 483,272.6 483.7,272.1 484.4,272.6 485.1,272.1 485.8,272.6 486.5,272.2 487.2,272.6 487.9,272.3 488.6,272.7 489.3,272.2 490,272.7 490.7,272.2 491.4,272.6 492.1,272.2 492.8,272.7 493.5,272.2 494.2,272.7 494.9,272.3 495.6,272.6 496.3,272.2 497,272.6 497.7,272.1 498.4,272.6 499.1,272.1 499.8,272.6 500.5,272.2 501.2,272.6 501.9,272.3 502.6,272.5 503.3,272.1 504,272.6 504.7,272.1 505.4,272.5 506.1,272.2 506.8,272.6 507.5,272.2 508.2,272.6 508.9,272.3 509.6,272.6 510.3,272.2 511,272.5 511.7,272.1 512.4,272.6 513.1,272.2 513.8,272.7 514.5,272.1 515.2,272.7 515.9,272.1 516.6,272.5 517.3,272.2 518,272.5 518.7,272.1 519.4,272.7 520.1,272.2 520.8,272.6 521.5,272.1 522.2,272.7 522.9,272.2 523.6,272.7 524.3,272.2 525,272.7 525.7,272.3 526.4,272.5 527.1,272.1 527.8,272.7 528.5,272.1 529.2,272.5 529.9,272.3 530.6,272.5 531.3,272.2 532,272.6 532.7,272.2 533.4,272.5 534.1,272.2 534.8,272.7 535.5,272.3 536.2,272.7 536.9,272.2 537.6,272.7 538.3,272.2 539,272.6 539.7,272.1 540.4,272.6 541.1,272.3 541.8,272.7 542.5,272.1 543.2,272.6 543.9,272.3 544.6,272.7 545.3,272.1 546,272.5 546.7,272.2 547.4,272.5 548.1,272.1 548.8,272.6 549.5,272.1 550.2,272.7 550.9,272.3 551.6,272.7 552.3,272.2 553,272.7 553.7,272.1 554.4,272.6 555.1,272.3 555.8,272.7 556.5,272.2 557.2,272.7 557.9,272.1 558.6,272.7 559.3,272.1 560,272.7 560.7,272.2 561.4,272.5 562.1,272.1 562.8,272.6 563.5,272.2 564.2,272.7 564.9,272.3 565.6,272.7 566.3,272.3 567,272.7 567.7,272.1 568.4,272.6 569.1,272.2 569.8,272.7 570.5,272.1 571.2,272.6 571.9,272.2 572.6,272.5 573.3,272.2 574,272.6 574.7,272.2 575.4,272.6 576.1,272.3 576.8,272.7 577.5,272.1 578.2,272.6 578.9,272.2 579.6,272.6 580.3,272.2 581,272.7 581.7,272.2 582.4,272.6 583.1,272.1 583.8,272.5 584.5,272.2 585.2,272.6 585.9,272.1 586.6,272.6 587.3,272.1 588,272.5 588.7,272.1 589.4,272.7 590.1,272.2 590.8,272.7 591.5,272.1 592.2,272.5 592.9,272.2 593.6,272.6 594.3,272.2 595,272.5 595.7,272.2 596.4,272.6 597.1,272.1 597.8,272.6 598.5,272.3 599.2,272.6 599.9,272.2 600.6,272.6 601.3,272.3 602,272.5 602.7,272.3 603.4,272.7 604.1,272.1 604.8,272.5 605.5,272.1 606.2,272.7 606.9,272.2 607.6,272.5 608.3,272.2 609,272.6 609.7,272.2 610.4,272.6 611.1,272.3 611.8,272.7 612.5,272.1 613.2,272.7 613.9,272.1 614.6,272.7 615.3,272.2 616,272.6 616.7,272.3 617.4,272.5 618.1,272.1 618.8,272.7 619.5,272.2 620.2,272.6 620.9,272.1 621.6,272.7 622.3,272.1 623,272.5 623.7,272.1 624.4,272.7 625.1,272.1 625.8,272.6 626.5,272.2 627.2,272.7 627.9,272.2 628.6,272.6 629.3,272.2 630,272.6 630.7,272.1 631.4,272.6 632.1,272.3 632.8,272.6 633.5,272.1 634.2,272.7 634.9,272.1 635.6,272.7 636.3,272.1 637,272.6 637.7,272.2 638.4,272.5 639.1,272.2 639.8,272.6 640.5,272.3 641.2,272.7 641.9,272.3 642.6,272.6 643.3,272.1 644,272.5 644.7,272.3 645.4,272.6 646.1,272.2 646.8,272.7 647.5,272.3 648.2,272.7 648.9,272.1 649.6,272.7 650.3,272.2 651,272.6 651.7,272.1 652.4,272.6 653.1,272.2 653.8,272.6 654.5,272.2 655.2,272.7 655.9,272.1 656.6,272.7 657.3,272.3 658,272.6 658.7,272.2 659.4,272.6 660.1,272.2 660.8,272.6 661.5,272.3 662.2,272.6 662.9,272.2 663.6,272.7 664.3,272.1 665,272.7 665.7,272.1 666.4,272.7 667.1,272.1 667.8,272.7 668.5,272.3 669.2,272.7 669.9,272.1 670.6,272.6 671.3,272.2 672,272.7 672.7,272.2 673.4,272.7 674.1,272.2" stroke="#00ff00" stroke-width="3.4" fill="none" stroke-linejoin="round"/>
</svg>
<path d="M375.9,173.75 V372 M454.5,173.75 V372" stroke="#000" stroke-width="2.5" stroke-dasharray="2.1 2.02" fill="none"/>
<path d="M258,247.4 H284.3" stroke="#000" stroke-width="1.3" stroke-dasharray="1.8 0.6" fill="none"/>
<path d="M271.30,205.00 L271.30,242.40" stroke="#000" stroke-width="1.5" fill="none"/>
<path d="M271.3,246.6 L268.45,239.60 L271.30,241.70 L274.15,239.60 Z" fill="#000"/>
<path d="M271.3,200.8 L274.15,207.80 L271.30,205.70 L268.45,207.80 Z" fill="#000"/>
<path d="M380.70,298.10 L450.00,298.10" stroke="#000" stroke-width="1.2" fill="none"/>
<path d="M454.5,298.1 L447.00,300.95 L449.25,298.10 L447.00,295.25 Z" fill="#000"/>
<path d="M376.2,298.1 L383.70,295.25 L381.45,298.10 L383.70,300.95 Z" fill="#000"/>
<text transform="translate(277,234.5) scale(1,0.95)" font-size="14" class="r">&#916;I<tspan dy="6.95" font-size="11">pv</tspan><tspan dy="-6.95" font-size="14"> = 1.175 A</tspan></text>
<text transform="translate(371.2,319) scale(1,0.95)" font-size="14" class="r">T<tspan dy="6.95" font-size="11">s</tspan><tspan dy="-6.95" font-size="14"> = 139.283 ms</tspan></text>
<text transform="translate(563.3,214.2) scale(1,0.95)" font-size="14" class="r">I<tspan dy="6.95" font-size="11">bat</tspan></text>
<path d="M572.40,200.70 L569.77,193.34" stroke="#ff0000" stroke-width="1.5" fill="none"/>
<path d="M568.4,189.5 L573.28,194.98 L570.12,194.30 L568.10,196.83 Z" fill="#ff0000"/>
<text transform="translate(634.8,228.7) scale(1,0.95)" font-size="14" class="r">I<tspan dy="6.95" font-size="11">pv</tspan></text>
<path d="M631.50,237.60 L627.34,243.56" stroke="#ff0000" stroke-width="1.5" fill="none"/>
<path d="M625,246.9 L626.64,239.75 L627.92,242.72 L631.15,242.90 Z" fill="#ff0000"/>
<text transform="translate(511.9,296.9) scale(1,0.95)" font-size="14" class="r">I<tspan dy="6.95" font-size="11">sc</tspan></text>
<path d="M526.40,283.60 L532.99,276.15" stroke="#ff0000" stroke-width="1.5" fill="none"/>
<path d="M535.7,273.1 L533.25,280.01 L532.32,276.92 L529.13,276.37 Z" fill="#ff0000"/>
<path d="M136.8,425 V524.2 M196.5,425 V524.2 M256.3,425 V524.2 M316,425 V524.2 M375.8,425 V524.2 M435.6,425 V524.2 M495.3,425 V524.2 M555.1,425 V524.2 M614.8,425 V524.2" stroke="#000" stroke-opacity="0.55" stroke-width="1" fill="none"/>
<path d="M77,499.4 H674.6 M77,474.6 H674.6 M77,449.8 H674.6" stroke="#000" stroke-opacity="0.55" stroke-width="1" fill="none"/>
<path d="M136.8,524.2 v-6 M136.8,425 v6 M196.5,524.2 v-6 M196.5,425 v6 M256.3,524.2 v-6 M256.3,425 v6 M316,524.2 v-6 M316,425 v6 M375.8,524.2 v-6 M375.8,425 v6 M435.6,524.2 v-6 M435.6,425 v6 M495.3,524.2 v-6 M495.3,425 v6 M555.1,524.2 v-6 M555.1,425 v6 M614.8,524.2 v-6 M614.8,425 v6 M77,499.4 h6 M674.6,499.4 h-6 M77,474.6 h6 M674.6,474.6 h-6 M77,449.8 h6 M674.6,449.8 h-6" stroke="#262626" stroke-width="1.2" fill="none"/>
<rect x="77" y="425" width="597.6" height="99.2" fill="none" stroke="#262626" stroke-width="1.4"/>
<text x="72.4" y="530.6" text-anchor="end" font-size="17">-3</text>
<text x="72.4" y="505.8" text-anchor="end" font-size="17">-1.5</text>
<text x="72.4" y="481" text-anchor="end" font-size="17">0</text>
<text x="72.4" y="456.2" text-anchor="end" font-size="17">1.5</text>
<text x="72.4" y="431.4" text-anchor="end" font-size="17">3</text>
<text x="76.4" y="544.7" text-anchor="middle" font-size="17">3.5</text>
<text x="136.3" y="544.7" text-anchor="middle" font-size="17">3.6</text>
<text x="196.1" y="544.7" text-anchor="middle" font-size="17">3.7</text>
<text x="256" y="544.7" text-anchor="middle" font-size="17">3.8</text>
<text x="315.8" y="544.7" text-anchor="middle" font-size="17">3.9</text>
<text x="375.7" y="544.7" text-anchor="middle" font-size="17">4</text>
<text x="435.6" y="544.7" text-anchor="middle" font-size="17">4.1</text>
<text x="495.4" y="544.7" text-anchor="middle" font-size="17">4.2</text>
<text x="555.3" y="544.7" text-anchor="middle" font-size="17">4.3</text>
<text x="615.1" y="544.7" text-anchor="middle" font-size="17">4.4</text>
<text x="675" y="544.7" text-anchor="middle" font-size="17">4.5</text>
<text transform="translate(13.5,474.6) rotate(-90)" text-anchor="middle" font-size="18.67">Currents (A)</text>
<text x="408.4" y="562" text-anchor="middle" font-size="18.67">(c)</text>
<svg x="76" y="425" width="599.8" height="99.2" viewBox="76 425 599.8 99.2" overflow="hidden">
<path d="M77,469.2 77.4,465 77.8,461.1 78.2,457.9 78.6,455.4 79,453.8 79.4,453.1 79.8,453.3 80.2,454.5 80.6,456.6 81,459.4 81.4,463 81.8,467 82.2,471.4 82.6,476 83,480.5 83.4,484.7 83.8,488.6 84.2,491.8 84.6,494.2 85,495.8 85.4,496.5 85.8,496.3 86.2,495.1 86.6,493 87,490.1 87.4,486.5 87.8,482.5 88.2,478 88.6,473.5 89,469 89.4,464.8 89.8,461 90.2,457.8 90.6,455.3 91,453.7 91.4,453.1 91.8,453.3 92.2,454.6 92.6,456.7 93,459.6 93.4,463.2 93.8,467.2 94.2,471.7 94.6,476.2 95,480.7 95.4,484.9 95.8,488.7 96.2,491.9 96.6,494.3 97,495.9 97.4,496.5 97.8,496.2 98.2,495 98.6,492.9 99,489.9 99.4,486.3 99.8,482.3 100.2,477.8 100.6,473.3 101,468.8 101.4,464.6 101.8,460.8 102.2,457.6 102.6,455.2 103,453.7 103.4,453.1 103.8,453.4 104.2,454.7 104.6,456.8 105,459.7 105.4,463.3 105.8,467.4 106.2,471.9 106.6,476.4 107,480.9 107.4,485.1 107.8,488.9 108.2,492 108.6,494.4 109,495.9 109.4,496.5 109.8,496.2 110.2,494.9 110.6,492.7 111,489.8 111.4,486.2 111.8,482 112.2,477.6 112.6,473.1 113,468.6 113.4,464.4 113.8,460.6 114.2,457.5 114.6,455.1 115,453.6 115.4,453 115.8,453.4 116.2,454.7 116.6,456.9 117,459.9 117.4,463.5 117.8,467.7 118.2,472.1 118.6,476.6 119,481.1 119.4,485.3 119.8,489.1 120.2,492.2 120.6,494.5 121,496 121.4,496.6 121.8,496.2 122.2,494.8 122.6,492.6 123,489.6 123.4,486 123.8,481.8 124.2,477.4 124.6,472.8 125,468.4 125.4,464.2 125.8,460.5 126.2,457.4 126.6,455 127,453.6 127.4,453 127.8,453.5 128.2,454.8 128.6,457.1 129,460.1 129.4,463.7 129.8,467.9 130.2,472.3 130.6,476.9 131,481.3 131.4,485.5 131.8,489.2 132.2,492.3 132.6,494.6 133,496 133.4,496.6 133.8,496.1 134.2,494.7 134.6,492.5 135,489.5 135.4,485.8 135.8,481.6 136.2,477.2 136.6,472.6 137,468.2 137.4,464 137.8,460.3 138.2,457.2 138.6,455 139,453.5 139.4,453 139.8,453.5 140.2,454.9 140.6,457.2 141,460.2 141.4,463.9 141.8,468.1 142.2,472.5 142.6,477.1 143,481.5 143.4,485.7 143.8,489.4 144.2,492.4 144.6,494.7 145,496.1 145.4,496.6 145.8,496.1 146.2,494.6 146.6,492.4 147,489.3 147.4,485.6 147.8,481.4 148.2,477 148.6,472.4 149,468 149.4,463.8 149.8,460.1 150.2,457.1 150.6,454.9 151,453.5 151.4,453 151.8,453.6 152.2,455 152.6,457.3 153,460.4 153.4,464.1 153.8,468.3 154.2,472.7 154.6,477.3 155,481.7 155.4,485.9 155.8,489.5 156.2,492.5 156.6,494.8 157,496.1 157.4,496.6 157.8,496 158.2,494.6 158.6,492.2 159,489.1 159.4,485.4 159.8,481.2 160.2,476.8 160.6,472.2 161,467.8 161.4,463.6 161.8,460 162.2,457 162.6,454.8 163,453.4 163.4,453 163.8,453.6 164.2,455.1 164.6,457.4 165,460.5 165.4,464.3 165.8,468.5 166.2,473 166.6,477.5 167,481.9 167.4,486.1 167.8,489.7 168.2,492.7 168.6,494.9 169,496.2 169.4,496.6 169.8,496 170.2,494.5 170.6,492.1 171,489 171.4,485.2 171.8,481 172.2,476.5 172.6,472 173,467.6 173.4,463.4 173.8,459.8 174.2,456.9 174.6,454.7 175,453.4 175.4,453.1 175.8,453.7 176.2,455.2 176.6,457.6 177,460.7 177.4,464.5 177.8,468.7 178.2,473.2 178.6,477.7 179,482.1 179.4,486.3 179.8,489.9 180.2,492.8 180.6,494.9 181,496.2 181.4,496.5 181.8,495.9 182.2,494.4 182.6,492 183,488.8 183.4,485 183.8,480.8 184.2,476.3 184.6,471.8 185,467.4 185.4,463.3 185.8,459.7 186.2,456.7 186.6,454.6 187,453.4 187.4,453.1 187.8,453.7 188.2,455.3 188.6,457.7 189,460.9 189.4,464.7 189.8,468.9 190.2,473.4 190.6,477.9 191,482.4 191.4,486.4 191.8,490 192.2,492.9 192.6,495 193,496.3 193.4,496.5 193.8,495.9 194.2,494.3 194.6,491.8 195,488.6 195.4,484.8 195.8,480.6 196.2,476.1 196.6,471.6 197,467.1 197.4,463.1 197.8,459.5 198.2,456.6 198.6,454.5 199,453.3 199.4,453.1 199.8,453.8 200.2,455.4 200.6,457.8 201,461 201.4,464.9 201.8,469.1 202.2,473.6 202.6,478.1 203,482.6 203.4,486.6 203.8,490.2 204.2,493 204.6,495.1 205,496.3 205.4,496.5 205.8,495.8 206.2,494.2 206.6,491.7 207,488.5 207.4,484.6 207.8,480.4 208.2,475.9 208.6,471.3 209,466.9 209.4,462.9 209.8,459.4 210.2,456.5 210.6,454.5 211,453.3 211.4,453.1 211.8,453.8 212.2,455.5 212.6,458 213,461.2 213.4,465 213.8,469.3 214.2,473.8 214.6,478.4 215,482.8 215.4,486.8 215.8,490.3 216.2,493.2 216.6,495.2 217,496.3 217.4,496.5 217.8,495.8 218.2,494.1 218.6,491.6 219,488.3 219.4,484.5 219.8,480.2 220.2,475.7 220.6,471.1 221,466.7 221.4,462.7 221.8,459.2 222.2,456.4 222.6,454.4 223,453.3 223.4,453.1 223.8,453.9 224.2,455.6 224.6,458.1 225,461.4 225.4,465.2 225.8,469.5 226.2,474 226.6,478.6 227,483 227.4,487 227.8,490.5 228.2,493.3 228.6,495.3 229,496.4 229.4,496.5 229.8,495.7 230.2,494 230.6,491.4 231,488.1 231.4,484.3 231.8,480 232.2,475.5 232.6,470.9 233,466.5 233.4,462.5 233.8,459.1 234.2,456.3 234.6,454.3 235,453.2 235.4,453.1 235.8,453.9 236.2,455.7 236.6,458.2 237,461.6 237.4,465.4 237.8,469.7 238.2,474.2 238.6,478.8 239,483.2 239.4,487.2 239.8,490.6 240.2,493.4 240.6,495.3 241,496.4 241.4,496.5 241.8,495.6 242.2,493.9 242.6,491.3 243,488 243.4,484.1 243.8,479.8 244.2,475.2 244.6,470.7 245,466.3 245.4,462.4 245.8,458.9 246.2,456.2 246.6,454.2 247,453.2 247.4,453.1 247.8,454 248.2,455.8 248.6,458.4 249,461.7 249.4,465.6 249.8,469.9 250.2,474.5 250.6,479 251,483.4 251.4,487.3 251.8,490.8 252.2,493.5 252.6,495.4 253,496.4 253.4,496.5 253.8,495.6 254.2,493.8 254.6,491.1 255,487.8 255.4,483.9 255.8,479.6 256.2,475 256.6,470.5 257,466.1 257.4,462.2 257.8,458.8 258.2,456.1 258.6,454.2 259,453.2 259.4,453.1 259.8,454.1 260.2,455.9 260.6,458.5 261,461.9 261.4,465.8 261.8,470.2 262.2,474.7 262.6,479.2 263,483.6 263.4,487.5 263.8,490.9 264.2,493.6 264.6,495.5 265,496.4 265.4,496.4 265.8,495.5 266.2,493.7 266.6,491 267,487.6 267.4,483.7 267.8,479.3 268.2,474.8 268.6,470.3 269,465.9 269.4,462 269.8,458.6 270.2,455.9 270.6,454.1 271,453.2 271.4,453.2 271.8,454.1 272.2,456 272.6,458.7 273,462.1 273.4,466 273.8,470.4 274.2,474.9 274.6,479.4 275,483.8 275.4,487.7 275.8,491.1 276.2,493.7 276.6,495.5 277,496.5 277.4,496.4 277.8,495.4 278.2,493.6 278.6,490.8 279,487.4 279.4,483.5 279.8,479.1 280.2,474.6 280.6,470.1 281,465.7 281.4,461.8 281.8,458.5 282.2,455.8 282.6,454 283,453.1 283.4,453.2 283.8,454.2 284.2,456.1 284.6,458.8 285,462.3 285.4,466.2 285.8,470.6 286.2,475.1 286.6,479.6 287,484 287.4,487.9 287.8,491.2 288.2,493.8 288.6,495.6 289,496.5 289.4,496.4 289.8,495.4 290.2,493.4 290.6,490.7 291,487.3 291.4,483.3 291.8,478.9 292.2,474.4 292.6,469.9 293,465.6 293.4,461.7 293.8,458.3 294.2,455.7 294.6,454 295,453.1 295.4,453.2 295.8,454.3 296.2,456.2 296.6,459 297,462.4 297.4,466.4 297.8,470.8 298.2,475.3 298.6,479.9 299,484.1 299.4,488 299.8,491.3 300.2,493.9 300.6,495.7 301,496.5 301.4,496.4 301.8,495.3 302.2,493.3 302.6,490.6 303,487.1 303.4,483.1 303.8,478.7 304.2,474.2 304.6,469.6 305,465.4 305.4,461.5 305.8,458.2 306.2,455.6 306.6,453.9 307,453.1 307.4,453.2 307.8,454.3 308.2,456.3 308.6,459.1 309,462.6 309.4,466.6 309.8,471 310.2,475.6 310.6,480.1 311,484.3 311.4,488.2 311.8,491.5 312.2,494 312.6,495.7 313,496.5 313.4,496.3 313.8,495.2 314.2,493.2 314.6,490.4 315,486.9 315.4,482.9 315.8,478.5 316.2,473.9 316.6,469.4 317,465.2 317.4,461.3 317.8,458.1 318.2,455.5 318.6,453.8 319,453.1 319.4,453.3 319.8,454.4 320.2,456.4 320.6,459.3 321,462.8 321.4,466.8 321.8,471.2 322.2,475.8 322.6,480.3 323,484.5 323.4,488.4 323.8,491.6 324.2,494.1 324.6,495.8 325,496.5 325.4,496.3 325.8,495.2 326.2,493.1 326.6,490.3 327,486.7 327.4,482.7 327.8,478.3 328.2,473.7 328.6,469.2 329,465 329.4,461.1 329.8,457.9 330.2,455.4 330.6,453.8 331,453.1 331.4,453.3 331.8,454.5 332.2,456.6 332.6,459.4 333,463 333.4,467 333.8,471.4 334.2,476 334.6,480.5 335,484.7 335.4,488.5 335.8,491.8 336.2,494.2 336.6,495.8 337,496.5 337.4,496.3 337.8,495.1 338.2,493 338.6,490.1 339,486.5 339.4,482.5 339.8,478.1 340.2,473.5 340.6,469 341,464.8 341.4,461 341.8,457.8 342.2,455.3 342.6,453.7 343,453.1 343.4,453.3 343.8,454.6 344.2,456.7 344.6,459.6 345,463.2 345.4,467.2 345.8,471.6 346.2,476.2 346.6,480.7 347,484.9 347.4,488.7 347.8,491.9 348.2,494.3 348.6,495.9 349,496.5 349.4,496.2 349.8,495 350.2,492.9 350.6,489.9 351,486.4 351.4,482.3 351.8,477.8 352.2,473.3 352.6,468.8 353,464.6 353.4,460.8 353.8,457.6 354.2,455.2 354.6,453.7 355,453.1 355.4,453.4 355.8,454.6 356.2,456.8 356.6,459.7 357,463.3 357.4,467.4 357.8,471.9 358.2,476.4 358.6,480.9 359,485.1 359.4,488.9 359.8,492 360.2,494.4 360.6,495.9 361,496.5 361.4,496.2 361.8,494.9 362.2,492.7 362.6,489.8 363,486.2 363.4,482.1 363.8,477.6 364.2,473.1 364.6,468.6 365,464.4 365.4,460.6 365.8,457.5 366.2,455.1 366.6,453.6 367,453 367.4,453.4 367.8,454.7 368.2,456.9 368.6,459.9 369,463.5 369.4,467.6 369.8,472.1 370.2,476.6 370.6,481.1 371,485.3 371.4,489 371.8,492.2 372.2,494.5 372.6,496 373,496.6 373.4,496.2 373.8,494.8 374.2,492.6 374.6,489.6 375,486 375.4,481.9 375.8,477.4 376.2,472.9 376.6,468.3 377,464.1 377.4,460.1 377.8,456.8 378.2,454.1 378.6,452.3 379,451.4 379.4,451.5 379.8,452.6 380.2,454.8 380.6,457.9 381,461.9 381.4,466.6 381.8,471.8 382.2,477.3 382.6,482.8 383,488.1 383.4,493 383.8,497.2 384.2,500.4 384.6,502.6 385,503.6 385.4,503.3 385.8,501.8 386.2,499 386.6,495 387,490.1 387.4,484.4 387.8,478.2 388.2,471.7 388.6,465.3 389,459.2 389.4,453.7 389.8,449.1 390.2,445.5 390.6,443.2 391,442.3 391.4,442.9 391.8,444.8 392.2,448.1 392.6,452.6 393,458.1 393.4,464.5 393.8,471.3 394.2,478.3 394.6,485.2 395,491.7 395.4,497.5 395.8,502.3 396.2,506 396.6,508.3 397,509.1 397.4,508.4 397.8,506.2 398.2,502.6 398.6,497.8 399,492 399.4,485.4 399.8,478.3 400.2,471 400.6,463.9 401,457.2 401.4,451.3 401.8,446.4 402.2,442.7 402.6,440.5 403,439.7 403.4,440.5 403.8,442.8 404.2,446.5 404.6,451.5 405,457.5 405.4,464.2 405.8,471.4 406.2,478.8 406.6,486 407,492.8 407.4,498.7 407.8,503.6 408.2,507.3 408.6,509.5 409,510.2 409.4,509.3 409.8,507 410.2,503.2 410.6,498.2 411,492.1 411.4,485.3 411.8,478 412.2,470.6 412.6,463.3 413,456.6 413.4,450.6 413.8,445.8 414.2,442.1 414.6,439.9 415,439.3 415.4,440.2 415.8,442.6 416.2,446.4 416.6,451.5 417,457.6 417.4,464.5 417.8,471.8 418.2,479.2 418.6,486.5 419,493.2 419.4,499.1 419.8,504 420.2,507.6 420.6,509.7 421,510.4 421.4,509.4 421.8,507 422.2,503.1 422.6,498 423,491.9 423.4,485 423.8,477.7 424.2,470.2 424.6,463 425,456.2 425.4,450.3 425.8,445.5 426.2,441.9 426.6,439.8 427,439.2 427.4,440.2 427.8,442.7 428.2,446.6 428.6,451.7 429,457.9 429.4,464.8 429.8,472.1 430.2,479.6 430.6,486.8 431,493.5 431.4,499.4 431.8,504.2 432.2,507.7 432.6,509.8 433,510.4 433.4,509.4 433.8,506.8 434.2,502.9 434.6,497.7 435,491.6 435.4,484.7 435.8,477.3 436.2,469.9 436.6,462.6 437,455.9 437.4,450.1 437.8,445.3 438.2,441.8 438.6,439.7 439,439.2 439.4,440.3 439.8,442.8 440.2,446.8 440.6,452 441,458.2 441.4,465.1 441.8,472.5 442.2,479.9 442.6,487.1 443,493.8 443.4,499.7 443.8,504.4 444.2,507.9 444.6,509.9 445,510.4 445.4,509.3 445.8,506.7 446.2,502.7 446.6,497.5 447,491.2 447.4,484.3 447.8,477 448.2,469.5 448.6,462.3 449,455.6 449.4,449.8 449.8,445.1 450.2,441.6 450.6,439.7 451,439.2 451.4,440.4 451.8,443 452.2,447 452.6,452.3 453,458.5 453.4,465.5 453.8,472.8 454.2,480.3 454.6,487.5 455,494.1 455.4,499.9 455.8,504.6 456.2,508 456.6,510 457,510.3 457.4,509.2 457.8,506.5 458.2,502.5 458.6,497.2 459,490.9 459.4,484 459.8,476.6 460.2,469.2 460.6,462 461,455.3 461.4,449.6 461.8,444.9 462.2,441.5 462.6,439.6 463,439.3 463.4,440.5 463.8,443.2 464.2,447.3 464.6,452.6 465,458.8 465.4,465.8 465.8,473.2 466.2,480.6 466.6,487.8 467,494.4 467.4,500.2 467.8,504.8 468.2,508.1 468.6,510 469,510.3 469.4,509.1 469.8,506.4 470.2,502.2 470.6,496.9 471,490.6 471.4,483.6 471.8,476.3 472.2,468.8 472.6,461.6 473,455 473.4,449.3 473.8,444.7 474.2,441.4 474.6,439.6 475,439.3 475.4,440.6 475.8,443.3 476.2,447.5 476.6,452.8 477,459.1 477.4,466.1 477.8,473.5 478.2,481 478.6,488.1 479,494.7 479.4,500.4 479.8,505 480.2,508.3 480.6,510.1 481,510.3 481.4,509 481.8,506.2 482.2,502 482.6,496.6 483,490.3 483.4,483.3 483.8,475.9 484.2,468.5 484.6,461.3 485,454.7 485.4,449.1 485.8,444.5 486.2,441.3 486.6,439.5 487,439.3 487.4,440.7 487.8,443.5 488.2,447.7 488.6,453.1 489,459.5 489.4,466.5 489.8,473.9 490.2,481.3 490.6,488.5 491,495 491.4,500.7 491.8,505.2 492.2,508.4 492.6,510.1 493,510.3 493.4,508.9 493.8,506 494.2,501.8 494.6,496.3 495,490 495.4,482.9 495.8,475.5 496.2,468.1 496.6,461 497,454.5 497.4,448.8 497.8,444.3 498.2,441.2 498.6,439.5 499,439.3 499.4,440.8 499.8,443.7 500.2,447.9 500.6,453.4 501,459.8 501.4,466.8 501.8,474.2 502.2,481.7 502.6,488.8 503,495.3 503.4,500.9 503.8,505.4 504.2,508.5 504.6,510.1 505,510.2 505.4,508.8 505.8,505.8 506.2,501.5 506.6,496.1 507,489.7 507.4,482.6 507.8,475.2 508.2,467.8 508.6,460.7 509,454.2 509.4,448.6 509.8,444.1 510.2,441 510.6,439.4 511,439.4 511.4,440.9 511.8,443.8 512.2,448.2 512.6,453.7 513,460.1 513.4,467.2 513.8,474.6 514.2,482 514.6,489.1 515,495.6 515.4,501.1 515.8,505.6 516.2,508.6 516.6,510.2 517,510.2 517.4,508.7 517.8,505.7 518.2,501.3 518.6,495.8 519,489.3 519.4,482.2 519.8,474.8 520.2,467.4 520.6,460.3 521,453.9 521.4,448.3 521.8,444 522.2,440.9 522.6,439.4 523,439.4 523.4,441 523.8,444 524.2,448.4 524.6,454 525,460.4 525.4,467.5 525.8,474.9 526.2,482.4 526.6,489.4 527,495.9 527.4,501.4 527.8,505.7 528.2,508.7 528.6,510.2 529,510.2 529.4,508.6 529.8,505.5 530.2,501.1 530.6,495.5 531,489 531.4,481.9 531.8,474.5 532.2,467.1 532.6,460 533,453.6 533.4,448.1 533.8,443.8 534.2,440.8 534.6,439.4 535,439.4 535.4,441.1 535.8,444.2 536.2,448.7 536.6,454.3 537,460.8 537.4,467.9 537.8,475.3 538.2,482.7 538.6,489.8 539,496.2 539.4,501.6 539.8,505.9 540.2,508.8 540.6,510.3 541,510.1 541.4,508.5 541.8,505.3 542.2,500.8 542.6,495.2 543,488.7 543.4,481.5 543.8,474.1 544.2,466.7 544.6,459.7 545,453.3 545.4,447.9 545.8,443.6 546.2,440.7 546.6,439.3 547,439.5 547.4,441.2 547.8,444.4 548.2,448.9 548.6,454.5 549,461.1 549.4,468.2 549.8,475.7 550.2,483 550.6,490.1 551,496.4 551.4,501.8 551.8,506.1 552.2,508.9 552.6,510.3 553,510.1 553.4,508.3 553.8,505.1 554.2,500.6 554.6,494.9 555,488.4 555.4,481.2 555.8,473.8 556.2,466.4 556.6,459.4 557,453 557.4,447.6 557.8,443.4 558.2,440.6 558.6,439.3 559,439.5 559.4,441.3 559.8,444.6 560.2,449.1 560.6,454.8 561,461.4 561.4,468.6 561.8,476 562.2,483.4 562.6,490.4 563,496.7 563.4,502.1 563.8,506.2 564.2,509 564.6,510.3 565,510 565.4,508.2 565.8,504.9 566.2,500.3 566.6,494.6 567,488 567.4,480.9 567.8,473.4 568.2,466 568.6,459 569,452.7 569.4,447.4 569.8,443.3 570.2,440.5 570.6,439.3 571,439.6 571.4,441.4 571.8,444.8 572.2,449.4 572.6,455.1 573,461.7 573.4,468.9 573.8,476.4 574.2,483.7 574.6,490.7 575,497 575.4,502.3 575.8,506.4 576.2,509.1 576.6,510.3 577,510 577.4,508.1 577.8,504.8 578.2,500.1 578.6,494.3 579,487.7 579.4,480.5 579.8,473.1 580.2,465.7 580.6,458.7 581,452.5 581.4,447.2 581.8,443.1 582.2,440.4 582.6,439.3 583,439.6 583.4,441.6 583.8,444.9 584.2,449.6 584.6,455.4 585,462.1 585.4,469.3 585.8,476.7 586.2,484.1 586.6,491 587,497.3 587.4,502.5 587.8,506.6 588.2,509.2 588.6,510.4 589,509.9 589.4,508 589.8,504.6 590.2,499.8 590.6,494 591,487.4 591.4,480.2 591.8,472.7 592.2,465.4 592.6,458.4 593,452.2 593.4,447 593.8,443 594.2,440.3 594.6,439.2 595,439.7 595.4,441.7 595.8,445.1 596.2,449.9 596.6,455.7 597,462.4 597.4,469.6 597.8,477.1 598.2,484.4 598.6,491.3 599,497.5 599.4,502.7 599.8,506.7 600.2,509.3 600.6,510.4 601,509.9 601.4,507.8 601.8,504.4 602.2,499.6 602.6,493.7 603,487 603.4,479.8 603.8,472.4 604.2,465 604.6,458.1 605,451.9 605.4,446.7 605.8,442.8 606.2,440.3 606.6,439.2 607,439.8 607.4,441.8 607.8,445.3 608.2,450.1 608.6,456 609,462.7 609.4,470 609.8,477.4 610.2,484.8 610.6,491.7 611,497.8 611.4,503 611.8,506.9 612.2,509.4 612.6,510.4 613,509.8 613.4,507.7 613.8,504.2 614.2,499.3 614.6,493.4 615,486.7 615.4,479.4 615.8,472 616.2,464.7 616.6,457.8 617,451.6 617.4,446.5 617.8,442.6 618.2,440.2 618.6,439.2 619,439.8 619.4,442 619.8,445.5 620.2,450.4 620.6,456.3 621,463.1 621.4,470.3 621.8,477.8 622.2,485.1 622.6,492 623,498.1 623.4,503.2 623.8,507 624.2,509.5 624.6,510.4 625,509.7 625.4,507.6 625.8,504 626.2,499.1 626.6,493.1 627,486.4 627.4,479.1 627.8,471.6 628.2,464.3 628.6,457.5 629,451.4 629.4,446.3 629.8,442.5 630.2,440.1 630.6,439.2 631,439.9 631.4,442.1 631.8,445.7 632.2,450.7 632.6,456.6 633,463.4 633.4,470.7 633.8,478.1 634.2,485.4 634.6,492.3 635,498.4 635.4,503.4 635.8,507.2 636.2,509.6 636.6,510.4 637,509.7 637.4,507.4 637.8,503.8 638.2,498.8 638.6,492.8 639,486 639.4,478.7 639.8,471.3 640.2,464 640.6,457.2 641,451.1 641.4,446.1 641.8,442.3 642.2,440 642.6,439.2 643,440 643.4,442.2 643.8,445.9 644.2,450.9 644.6,456.9 645,463.7 645.4,471 645.8,478.5 646.2,485.8 646.6,492.6 647,498.6 647.4,503.6 647.8,507.3 648.2,509.6 648.6,510.4 649,509.6 649.4,507.3 649.8,503.5 650.2,498.5 650.6,492.5 651,485.7 651.4,478.4 651.8,470.9 652.2,463.7 652.6,456.9 653,450.9 653.4,445.9 653.8,442.2 654.2,439.9 654.6,439.2 655,440 655.4,442.4 655.8,446.2 656.2,451.2 656.6,457.2 657,464.1 657.4,471.4 657.8,478.8 658.2,486.1 658.6,492.9 659,498.9 659.4,503.8 659.8,507.5 660.2,509.7 660.6,510.4 661,509.5 661.4,507.1 661.8,503.3 662.2,498.3 662.6,492.2 663,485.3 663.4,478 663.8,470.6 664.2,463.3 664.6,456.6 665,450.6 665.4,445.7 665.8,442.1 666.2,439.9 666.6,439.2 667,440.1 667.4,442.5 667.8,446.4 668.2,451.5 668.6,457.6 669,464.4 669.4,471.7 669.8,479.2 670.2,486.4 670.6,493.2 671,499.1 671.4,504 671.8,507.6 672.2,509.8 672.6,510.4 673,509.5 673.4,507 673.8,503.1 674.2,498 674.6,491.9" stroke="#0000ff" stroke-width="2.1" fill="none" stroke-linejoin="round"/>
<path d="M77,495.8 77.4,496.5 77.8,496.3 78.2,495.1 78.6,493.1 79,490.2 79.4,486.7 79.8,482.6 80.2,478.2 80.6,473.6 81,469.1 81.4,464.9 81.8,461.1 82.2,457.9 82.6,455.4 83,453.8 83.4,453.1 83.8,453.3 84.2,454.5 84.6,456.6 85,459.5 85.4,463 85.8,467.1 86.2,471.5 86.6,476.1 87,480.6 87.4,484.8 87.8,488.6 88.2,491.8 88.6,494.3 89,495.9 89.4,496.5 89.8,496.3 90.2,495 90.6,492.9 91,490 91.4,486.5 91.8,482.4 92.2,478 92.6,473.4 93,468.9 93.4,464.7 93.8,460.9 94.2,457.7 94.6,455.3 95,453.7 95.4,453.1 95.8,453.4 96.2,454.6 96.6,456.7 97,459.6 97.4,463.2 97.8,467.3 98.2,471.7 98.6,476.3 99,480.8 99.4,485 99.8,488.8 100.2,491.9 100.6,494.4 101,495.9 101.4,496.5 101.8,496.2 102.2,495 102.6,492.8 103,489.9 103.4,486.3 103.8,482.2 104.2,477.8 104.6,473.2 105,468.7 105.4,464.5 105.8,460.7 106.2,457.6 106.6,455.2 107,453.7 107.4,453.1 107.8,453.4 108.2,454.7 108.6,456.8 109,459.8 109.4,463.4 109.8,467.5 110.2,471.9 110.6,476.5 111,481 111.4,485.2 111.8,488.9 112.2,492.1 112.6,494.5 113,496 113.4,496.6 113.8,496.2 114.2,494.9 114.6,492.7 115,489.7 115.4,486.1 115.8,482 116.2,477.5 116.6,473 117,468.5 117.4,464.3 117.8,460.6 118.2,457.5 118.6,455.1 119,453.6 119.4,453 119.8,453.4 120.2,454.8 120.6,457 121,460 121.4,463.6 121.8,467.7 122.2,472.2 122.6,476.7 123,481.2 123.4,485.4 123.8,489.1 124.2,492.2 124.6,494.5 125,496 125.4,496.6 125.8,496.1 126.2,494.8 126.6,492.6 127,489.6 127.4,485.9 127.8,481.8 128.2,477.3 128.6,472.8 129,468.3 129.4,464.1 129.8,460.4 130.2,457.3 130.6,455 131,453.6 131.4,453 131.8,453.5 132.2,454.8 132.6,457.1 133,460.1 133.4,463.8 133.8,467.9 134.2,472.4 134.6,476.9 135,481.4 135.4,485.6 135.8,489.3 136.2,492.3 136.6,494.6 137,496.1 137.4,496.6 137.8,496.1 138.2,494.7 138.6,492.4 139,489.4 139.4,485.7 139.8,481.6 140.2,477.1 140.6,472.6 141,468.1 141.4,463.9 141.8,460.3 142.2,457.2 142.6,454.9 143,453.5 143.4,453 143.8,453.5 144.2,454.9 144.6,457.2 145,460.3 145.4,464 145.8,468.1 146.2,472.6 146.6,477.1 147,481.6 147.4,485.8 147.8,489.4 148.2,492.5 148.6,494.7 149,496.1 149.4,496.6 149.8,496.1 150.2,494.6 150.6,492.3 151,489.2 151.4,485.5 151.8,481.4 152.2,476.9 152.6,472.3 153,467.9 153.4,463.8 153.8,460.1 154.2,457.1 154.6,454.8 155,453.5 155.4,453 155.8,453.6 156.2,455 156.6,457.3 157,460.4 157.4,464.2 157.8,468.3 158.2,472.8 158.6,477.4 159,481.8 159.4,485.9 159.8,489.6 160.2,492.6 160.6,494.8 161,496.1 161.4,496.6 161.8,496 162.2,494.5 162.6,492.2 163,489.1 163.4,485.4 163.8,481.2 164.2,476.7 164.6,472.1 165,467.7 165.4,463.6 165.8,459.9 166.2,456.9 166.6,454.8 167,453.4 167.4,453 167.8,453.6 168.2,455.1 168.6,457.5 169,460.6 169.4,464.3 169.8,468.5 170.2,473 170.6,477.6 171,482 171.4,486.1 171.8,489.7 172.2,492.7 172.6,494.9 173,496.2 173.4,496.6 173.8,496 174.2,494.4 174.6,492.1 175,488.9 175.4,485.2 175.8,480.9 176.2,476.5 176.6,471.9 177,467.5 177.4,463.4 177.8,459.8 178.2,456.8 178.6,454.7 179,453.4 179.4,453.1 179.8,453.7 180.2,455.2 180.6,457.6 181,460.8 181.4,464.5 181.8,468.8 182.2,473.2 182.6,477.8 183,482.2 183.4,486.3 183.8,489.9 184.2,492.8 184.6,495 185,496.2 185.4,496.5 185.8,495.9 186.2,494.3 186.6,491.9 187,488.8 187.4,485 187.8,480.7 188.2,476.3 188.6,471.7 189,467.3 189.4,463.2 189.8,459.6 190.2,456.7 190.6,454.6 191,453.4 191.4,453.1 191.8,453.7 192.2,455.3 192.6,457.7 193,460.9 193.4,464.7 193.8,469 194.2,473.5 194.6,478 195,482.4 195.4,486.5 195.8,490.1 196.2,493 196.6,495.1 197,496.3 197.4,496.5 197.8,495.9 198.2,494.2 198.6,491.8 199,488.6 199.4,484.8 199.8,480.5 200.2,476 200.6,471.5 201,467.1 201.4,463 201.8,459.5 202.2,456.6 202.6,454.5 203,453.3 203.4,453.1 203.8,453.8 204.2,455.4 204.6,457.9 205,461.1 205.4,464.9 205.8,469.2 206.2,473.7 206.6,478.2 207,482.6 207.4,486.7 207.8,490.2 208.2,493.1 208.6,495.1 209,496.3 209.4,496.5 209.8,495.8 210.2,494.1 210.6,491.7 211,488.4 211.4,484.6 211.8,480.3 212.2,475.8 212.6,471.3 213,466.9 213.4,462.8 213.8,459.3 214.2,456.5 214.6,454.4 215,453.3 215.4,453.1 215.8,453.8 216.2,455.5 216.6,458 217,461.3 217.4,465.1 217.8,469.4 218.2,473.9 218.6,478.4 219,482.8 219.4,486.9 219.8,490.4 220.2,493.2 220.6,495.2 221,496.3 221.4,496.5 221.8,495.7 222.2,494 222.6,491.5 223,488.2 223.4,484.4 223.8,480.1 224.2,475.6 224.6,471.1 225,466.7 225.4,462.7 225.8,459.2 226.2,456.4 226.6,454.4 227,453.3 227.4,453.1 227.8,453.9 228.2,455.6 228.6,458.2 229,461.4 229.4,465.3 229.8,469.6 230.2,474.1 230.6,478.6 231,483 231.4,487 231.8,490.5 232.2,493.3 232.6,495.3 233,496.4 233.4,496.5 233.8,495.7 234.2,493.9 234.6,491.4 235,488.1 235.4,484.2 235.8,479.9 236.2,475.4 236.6,470.8 237,466.5 237.4,462.5 237.8,459 238.2,456.2 238.6,454.3 239,453.2 239.4,453.1 239.8,454 240.2,455.7 240.6,458.3 241,461.6 241.4,465.5 241.8,469.8 242.2,474.3 242.6,478.9 243,483.2 243.4,487.2 243.8,490.7 244.2,493.4 244.6,495.4 245,496.4 245.4,496.5 245.8,495.6 246.2,493.8 246.6,491.2 247,487.9 247.4,484 247.8,479.7 248.2,475.2 248.6,470.6 249,466.3 249.4,462.3 249.8,458.9 250.2,456.1 250.6,454.2 251,453.2 251.4,453.1 251.8,454 252.2,455.8 252.6,458.4 253,461.8 253.4,465.7 253.8,470 254.2,474.5 254.6,479.1 255,483.4 255.4,487.4 255.8,490.8 256.2,493.5 256.6,495.4 257,496.4 257.4,496.5 257.8,495.6 258.2,493.7 258.6,491.1 259,487.7 259.4,483.8 259.8,479.5 260.2,475 260.6,470.4 261,466.1 261.4,462.1 261.8,458.7 262.2,456 262.6,454.1 263,453.2 263.4,453.2 263.8,454.1 264.2,455.9 264.6,458.6 265,462 265.4,465.9 265.8,470.2 266.2,474.8 266.6,479.3 267,483.6 267.4,487.6 267.8,491 268.2,493.6 268.6,495.5 269,496.4 269.4,496.4 269.8,495.5 270.2,493.6 270.6,490.9 271,487.6 271.4,483.6 271.8,479.3 272.2,474.7 272.6,470.2 273,465.9 273.4,461.9 273.8,458.6 274.2,455.9 274.6,454.1 275,453.1 275.4,453.2 275.8,454.1 276.2,456 276.6,458.7 277,462.1 277.4,466.1 277.8,470.4 278.2,475 278.6,479.5 279,483.8 279.4,487.7 279.8,491.1 280.2,493.7 280.6,495.6 281,496.5 281.4,496.4 281.8,495.4 282.2,493.5 282.6,490.8 283,487.4 283.4,483.4 283.8,479.1 284.2,474.5 284.6,470 285,465.7 285.4,461.8 285.8,458.4 286.2,455.8 286.6,454 287,453.1 287.4,453.2 287.8,454.2 288.2,456.1 288.6,458.9 289,462.3 289.4,466.3 289.8,470.7 290.2,475.2 290.6,479.7 291,484 291.4,487.9 291.8,491.2 292.2,493.9 292.6,495.6 293,496.5 293.4,496.4 293.8,495.3 294.2,493.4 294.6,490.7 295,487.2 295.4,483.2 295.8,478.8 296.2,474.3 296.6,469.8 297,465.5 297.4,461.6 297.8,458.3 298.2,455.7 298.6,453.9 299,453.1 299.4,453.2 299.8,454.3 300.2,456.2 300.6,459 301,462.5 301.4,466.5 301.8,470.9 302.2,475.4 302.6,479.9 303,484.2 303.4,488.1 303.8,491.4 304.2,494 304.6,495.7 305,496.5 305.4,496.4 305.8,495.3 306.2,493.3 306.6,490.5 307,487 307.4,483 307.8,478.6 308.2,474.1 308.6,469.6 309,465.3 309.4,461.4 309.8,458.1 310.2,455.6 310.6,453.9 311,453.1 311.4,453.3 311.8,454.4 312.2,456.4 312.6,459.2 313,462.7 313.4,466.7 313.8,471.1 314.2,475.6 314.6,480.1 315,484.4 315.4,488.3 315.8,491.5 316.2,494.1 316.6,495.7 317,496.5 317.4,496.3 317.8,495.2 318.2,493.2 318.6,490.4 319,486.8 319.4,482.8 319.8,478.4 320.2,473.9 320.6,469.4 321,465.1 321.4,461.3 321.8,458 322.2,455.5 322.6,453.8 323,453.1 323.4,453.3 323.8,454.4 324.2,456.5 324.6,459.3 325,462.8 325.4,466.9 325.8,471.3 326.2,475.8 326.6,480.3 327,484.6 327.4,488.4 327.8,491.7 328.2,494.2 328.6,495.8 329,496.5 329.4,496.3 329.8,495.1 330.2,493.1 330.6,490.2 331,486.7 331.4,482.6 331.8,478.2 332.2,473.7 332.6,469.2 333,464.9 333.4,461.1 333.8,457.9 334.2,455.4 334.6,453.8 335,453.1 335.4,453.3 335.8,454.5 336.2,456.6 336.6,459.5 337,463 337.4,467.1 337.8,471.5 338.2,476.1 338.6,480.6 339,484.8 339.4,488.6 339.8,491.8 340.2,494.3 340.6,495.9 341,496.5 341.4,496.3 341.8,495 342.2,492.9 342.6,490 343,486.5 343.4,482.4 343.8,478 344.2,473.4 344.6,468.9 345,464.7 345.4,460.9 345.8,457.7 346.2,455.3 346.6,453.7 347,453.1 347.4,453.4 347.8,454.6 348.2,456.7 348.6,459.6 349,463.2 349.4,467.3 349.8,471.7 350.2,476.3 350.6,480.8 351,485 351.4,488.8 351.8,491.9 352.2,494.4 352.6,495.9 353,496.5 353.4,496.2 353.8,495 354.2,492.8 354.6,489.9 355,486.3 355.4,482.2 355.8,477.8 356.2,473.2 356.6,468.7 357,464.5 357.4,460.8 357.8,457.6 358.2,455.2 358.6,453.7 359,453.1 359.4,453.4 359.8,454.7 360.2,456.8 360.6,459.8 361,463.4 361.4,467.5 361.8,471.9 362.2,476.5 362.6,481 363,485.2 363.4,488.9 363.8,492.1 364.2,494.4 364.6,496 365,496.6 365.4,496.2 365.8,494.9 366.2,492.7 366.6,489.7 367,486.1 367.4,482 367.8,477.6 368.2,473 368.6,468.5 369,464.3 369.4,460.6 369.8,457.5 370.2,455.1 370.6,453.6 371,453 371.4,453.4 371.8,454.8 372.2,457 372.6,459.9 373,463.6 373.4,467.7 373.8,472.1 374.2,476.7 374.6,481.2 375,485.4 375.4,489.1 375.8,492.2 376.2,494.6 376.6,496.1 377,496.9 377.4,496.6 377.8,495.5 378.2,493.4 378.6,490.5 379,486.8 379.4,482.4 379.8,477.6 380.2,472.5 380.6,467.4 381,462.4 381.4,457.9 381.8,453.9 382.2,450.8 382.6,448.7 383,447.7 383.4,447.9 383.8,449.3 384.2,451.9 384.6,455.6 385,460.2 385.4,465.6 385.8,471.5 386.2,477.7 386.6,483.9 387,489.8 387.4,495.1 387.8,499.6 388.2,503.1 388.6,505.3 389,506.3 389.4,505.8 389.8,504 390.2,500.8 390.6,496.5 391,491.1 391.4,485 391.8,478.3 392.2,471.4 392.6,464.6 393,458.2 393.4,452.5 393.8,447.7 394.2,444.1 394.6,441.8 395,441 395.4,441.6 395.8,443.7 396.2,447.2 396.6,452 397,457.7 397.4,464.3 397.8,471.3 398.2,478.5 398.6,485.6 399,492.2 399.4,498.1 399.8,503 400.2,506.6 400.6,508.9 401,509.7 401.4,508.9 401.8,506.6 402.2,503 402.6,498.1 403,492.1 403.4,485.4 403.8,478.2 404.2,470.9 404.6,463.7 405,456.9 405.4,451 405.8,446.1 406.2,442.4 406.6,440.2 407,439.5 407.4,440.3 407.8,442.7 408.2,446.4 408.6,451.4 409,457.5 409.4,464.3 409.8,471.5 410.2,479 410.6,486.2 411,492.9 411.4,498.9 411.8,503.8 412.2,507.4 412.6,509.6 413,510.3 413.4,509.4 413.8,507 414.2,503.2 414.6,498.1 415,492 415.4,485.2 415.8,477.9 416.2,470.5 416.6,463.2 417,456.5 417.4,450.5 417.8,445.6 418.2,442 418.6,439.9 419,439.3 419.4,440.2 419.8,442.6 420.2,446.5 420.6,451.6 421,457.7 421.4,464.6 421.8,471.9 422.2,479.3 422.6,486.6 423,493.3 423.4,499.2 423.8,504.1 424.2,507.6 424.6,509.8 425,510.4 425.4,509.4 425.8,506.9 426.2,503 426.6,497.9 427,491.8 427.4,484.9 427.8,477.5 428.2,470.1 428.6,462.9 429,456.1 429.4,450.2 429.8,445.4 430.2,441.9 430.6,439.8 431,439.2 431.4,440.2 431.8,442.7 432.2,446.7 432.6,451.8 433,458 433.4,464.9 433.8,472.2 434.2,479.7 434.6,486.9 435,493.6 435.4,499.5 435.8,504.3 436.2,507.8 436.6,509.9 437,510.4 437.4,509.3 437.8,506.8 438.2,502.8 438.6,497.6 439,491.5 439.4,484.5 439.8,477.2 440.2,469.7 440.6,462.5 441,455.8 441.4,450 441.8,445.2 442.2,441.7 442.6,439.7 443,439.2 443.4,440.3 443.8,442.9 444.2,446.9 444.6,452.1 445,458.3 445.4,465.2 445.8,472.6 446.2,480 446.6,487.2 447,493.9 447.4,499.8 447.8,504.5 448.2,507.9 448.6,509.9 449,510.4 449.4,509.2 449.8,506.6 450.2,502.6 450.6,497.4 451,491.1 451.4,484.2 451.8,476.8 452.2,469.4 452.6,462.2 453,455.5 453.4,449.7 453.8,445 454.2,441.6 454.6,439.7 455,439.2 455.4,440.4 455.8,443.1 456.2,447.1 456.6,452.4 457,458.6 457.4,465.6 457.8,472.9 458.2,480.4 458.6,487.6 459,494.2 459.4,500 459.8,504.7 460.2,508.1 460.6,510 461,510.3 461.4,509.2 461.8,506.5 462.2,502.4 462.6,497.1 463,490.8 463.4,483.9 463.8,476.5 464.2,469 464.6,461.9 465,455.2 465.4,449.5 465.8,444.8 466.2,441.5 466.6,439.6 467,439.3 467.4,440.5 467.8,443.2 468.2,447.3 468.6,452.6 469,458.9 469.4,465.9 469.8,473.3 470.2,480.7 470.6,487.9 471,494.5 471.4,500.3 471.8,504.9 472.2,508.2 472.6,510 473,510.3 473.4,509.1 473.8,506.3 474.2,502.2 474.6,496.8 475,490.5 475.4,483.5 475.8,476.1 476.2,468.7 476.6,461.5 477,454.9 477.4,449.2 477.8,444.6 478.2,441.4 478.6,439.6 479,439.3 479.4,440.6 479.8,443.4 480.2,447.6 480.6,452.9 481,459.3 481.4,466.3 481.8,473.6 482.2,481.1 482.6,488.2 483,494.8 483.4,500.5 483.8,505.1 484.2,508.3 484.6,510.1 485,510.3 485.4,509 485.8,506.1 486.2,501.9 486.6,496.5 487,490.2 487.4,483.2 487.8,475.8 488.2,468.3 488.6,461.2 489,454.6 489.4,449 489.8,444.4 490.2,441.2 490.6,439.5 491,439.3 491.4,440.7 491.8,443.6 492.2,447.8 492.6,453.2 493,459.6 493.4,466.6 493.8,474 494.2,481.4 494.6,488.6 495,495.1 495.4,500.7 495.8,505.2 496.2,508.4 496.6,510.1 497,510.3 497.4,508.9 497.8,506 498.2,501.7 498.6,496.3 499,489.9 499.4,482.8 499.8,475.4 500.2,468 500.6,460.9 501,454.4 501.4,448.7 501.8,444.3 502.2,441.1 502.6,439.5 503,439.3 503.4,440.8 503.8,443.7 504.2,448 504.6,453.5 505,459.9 505.4,467 505.8,474.4 506.2,481.8 506.6,488.9 507,495.4 507.4,501 507.8,505.4 508.2,508.5 508.6,510.2 509,510.2 509.4,508.8 509.8,505.8 510.2,501.5 510.6,496 511,489.5 511.4,482.5 511.8,475.1 512.2,467.7 512.6,460.5 513,454.1 513.4,448.5 513.8,444.1 514.2,441 514.6,439.4 515,439.4 515.4,440.9 515.8,443.9 516.2,448.3 516.6,453.8 517,460.2 517.4,467.3 517.8,474.7 518.2,482.1 518.6,489.2 519,495.7 519.4,501.2 519.8,505.6 520.2,508.6 520.6,510.2 521,510.2 521.4,508.6 521.8,505.6 522.2,501.2 522.6,495.7 523,489.2 523.4,482.1 523.8,474.7 524.2,467.3 524.6,460.2 525,453.8 525.4,448.3 525.8,443.9 526.2,440.9 526.6,439.4 527,439.4 527.4,441 527.8,444.1 528.2,448.5 528.6,454.1 529,460.5 529.4,467.6 529.8,475.1 530.2,482.5 530.6,489.5 531,496 531.4,501.5 531.8,505.8 532.2,508.8 532.6,510.2 533,510.2 533.4,508.5 533.8,505.4 534.2,501 534.6,495.4 535,488.9 535.4,481.8 535.8,474.4 536.2,467 536.6,459.9 537,453.5 537.4,448 537.8,443.7 538.2,440.8 538.6,439.3 539,439.5 539.4,441.1 539.8,444.3 540.2,448.7 540.6,454.4 541,460.9 541.4,468 541.8,475.4 542.2,482.8 542.6,489.9 543,496.2 543.4,501.7 543.8,506 544.2,508.9 544.6,510.3 545,510.1 545.4,508.4 545.8,505.3 546.2,500.7 546.6,495.1 547,488.6 547.4,481.4 547.8,474 548.2,466.6 548.6,459.6 549,453.2 549.4,447.8 549.8,443.6 550.2,440.7 550.6,439.3 551,439.5 551.4,441.2 551.8,444.4 552.2,449 552.6,454.6 553,461.2 553.4,468.3 553.8,475.8 554.2,483.2 554.6,490.2 555,496.5 555.4,501.9 555.8,506.1 556.2,509 556.6,510.3 557,510.1 557.4,508.3 557.8,505.1 558.2,500.5 558.6,494.8 559,488.2 559.4,481.1 559.8,473.7 560.2,466.3 560.6,459.3 561,452.9 561.4,447.6 561.8,443.4 562.2,440.6 562.6,439.3 563,439.6 563.4,441.4 563.8,444.6 564.2,449.2 564.6,454.9 565,461.5 565.4,468.7 565.8,476.1 566.2,483.5 566.6,490.5 567,496.8 567.4,502.2 567.8,506.3 568.2,509.1 568.6,510.3 569,510 569.4,508.2 569.8,504.9 570.2,500.3 570.6,494.5 571,487.9 571.4,480.7 571.8,473.3 572.2,465.9 572.6,458.9 573,452.7 573.4,447.3 573.8,443.2 574.2,440.5 574.6,439.3 575,439.6 575.4,441.5 575.8,444.8 576.2,449.5 576.6,455.2 577,461.9 577.4,469 577.8,476.5 578.2,483.8 578.6,490.8 579,497.1 579.4,502.4 579.8,506.5 580.2,509.2 580.6,510.3 581,510 581.4,508.1 581.8,504.7 582.2,500 582.6,494.2 583,487.6 583.4,480.4 583.8,472.9 584.2,465.6 584.6,458.6 585,452.4 585.4,447.1 585.8,443.1 586.2,440.4 586.6,439.2 587,439.7 587.4,441.6 587.8,445 588.2,449.7 588.6,455.5 589,462.2 589.4,469.4 589.8,476.8 590.2,484.2 590.6,491.1 591,497.4 591.4,502.6 591.8,506.6 592.2,509.2 592.6,510.4 593,509.9 593.4,507.9 593.8,504.5 594.2,499.8 594.6,493.9 595,487.3 595.4,480 595.8,472.6 596.2,465.2 596.6,458.3 597,452.1 597.4,446.9 597.8,442.9 598.2,440.3 598.6,439.2 599,439.7 599.4,441.7 599.8,445.2 600.2,450 600.6,455.8 601,462.5 601.4,469.7 601.8,477.2 602.2,484.5 602.6,491.4 603,497.6 603.4,502.8 603.8,506.8 604.2,509.3 604.6,510.4 605,509.9 605.4,507.8 605.8,504.3 606.2,499.5 606.6,493.6 607,486.9 607.4,479.7 607.8,472.2 608.2,464.9 608.6,458 609,451.8 609.4,446.7 609.8,442.7 610.2,440.2 610.6,439.2 611,439.8 611.4,441.9 611.8,445.4 612.2,450.2 612.6,456.1 613,462.8 613.4,470.1 613.8,477.5 614.2,484.9 614.6,491.8 615,497.9 615.4,503 615.8,506.9 616.2,509.4 616.6,510.4 617,509.8 617.4,507.7 617.8,504.1 618.2,499.2 618.6,493.3 619,486.6 619.4,479.3 619.8,471.9 620.2,464.6 620.6,457.7 621,451.6 621.4,446.5 621.8,442.6 622.2,440.1 622.6,439.2 623,439.8 623.4,442 623.8,445.6 624.2,450.5 624.6,456.4 625,463.2 625.4,470.4 625.8,477.9 626.2,485.2 626.6,492.1 627,498.2 627.4,503.3 627.8,507.1 628.2,509.5 628.6,510.4 629,509.7 629.4,507.5 629.8,503.9 630.2,499 630.6,493 631,486.2 631.4,479 631.8,471.5 632.2,464.2 632.6,457.4 633,451.3 633.4,446.2 633.8,442.4 634.2,440.1 634.6,439.2 635,439.9 635.4,442.1 635.8,445.8 636.2,450.7 636.6,456.7 637,463.5 637.4,470.8 637.8,478.2 638.2,485.6 638.6,492.4 639,498.4 639.4,503.5 639.8,507.2 640.2,509.6 640.6,510.4 641,509.7 641.4,507.4 641.8,503.7 642.2,498.7 642.6,492.7 643,485.9 643.4,478.6 643.8,471.2 644.2,463.9 644.6,457.1 645,451 645.4,446 645.8,442.3 646.2,440 646.6,439.2 647,440 647.4,442.3 647.8,446 648.2,451 648.6,457 649,463.9 649.4,471.1 649.8,478.6 650.2,485.9 650.6,492.7 651,498.7 651.4,503.7 651.8,507.4 652.2,509.6 652.6,510.4 653,509.6 653.4,507.2 653.8,503.5 654.2,498.5 654.6,492.4 655,485.6 655.4,478.3 655.8,470.8 656.2,463.5 656.6,456.8 657,450.8 657.4,445.8 657.8,442.2 658.2,439.9 658.6,439.2 659,440.1 659.4,442.4 659.8,446.2 660.2,451.3 660.6,457.4 661,464.2 661.4,471.5 661.8,479 662.2,486.2 662.6,493 663,499 663.4,503.9 663.8,507.5 664.2,509.7 664.6,510.4 665,509.5 665.4,507.1 665.8,503.3 666.2,498.2 666.6,492.1 667,485.2 667.4,477.9 667.8,470.5 668.2,463.2 668.6,456.5 669,450.5 669.4,445.6 669.8,442 670.2,439.8 670.6,439.2 671,440.1 671.4,442.6 671.8,446.4 672.2,451.5 672.6,457.7 673,464.5 673.4,471.9 673.8,479.3 674.2,486.6 674.6,493.3" stroke="#ff0000" stroke-width="2.1" fill="none" stroke-linejoin="round"/>
<path d="M77,459.4 77.4,462.9 77.8,467 78.2,471.4 78.6,475.9 79,480.4 79.4,484.7 79.8,488.5 80.2,491.7 80.6,494.2 81,495.8 81.4,496.5 81.8,496.3 82.2,495.1 82.6,493 83,490.1 83.4,486.6 83.8,482.5 84.2,478.1 84.6,473.6 85,469.1 85.4,464.8 85.8,461 86.2,457.8 86.6,455.4 87,453.7 87.4,453.1 87.8,453.3 88.2,454.5 88.6,456.6 89,459.5 89.4,463.1 89.8,467.2 90.2,471.6 90.6,476.1 91,480.6 91.4,484.9 91.8,488.7 92.2,491.9 92.6,494.3 93,495.9 93.4,496.5 93.8,496.2 94.2,495 94.6,492.9 95,490 95.4,486.4 95.8,482.3 96.2,477.9 96.6,473.4 97,468.9 97.4,464.6 97.8,460.9 98.2,457.7 98.6,455.3 99,453.7 99.4,453.1 99.8,453.4 100.2,454.6 100.6,456.8 101,459.7 101.4,463.3 101.8,467.4 102.2,471.8 102.6,476.4 103,480.8 103.4,485.1 103.8,488.8 104.2,492 104.6,494.4 105,495.9 105.4,496.5 105.8,496.2 106.2,494.9 106.6,492.8 107,489.8 107.4,486.2 107.8,482.1 108.2,477.7 108.6,473.1 109,468.7 109.4,464.4 109.8,460.7 110.2,457.5 110.6,455.2 111,453.6 111.4,453 111.8,453.4 112.2,454.7 112.6,456.9 113,459.8 113.4,463.5 113.8,467.6 114.2,472 114.6,476.6 115,481 115.4,485.3 115.8,489 116.2,492.1 116.6,494.5 117,496 117.4,496.6 117.8,496.2 118.2,494.9 118.6,492.7 119,489.7 119.4,486 119.8,481.9 120.2,477.5 120.6,472.9 121,468.4 121.4,464.3 121.8,460.5 122.2,457.4 122.6,455.1 123,453.6 123.4,453 123.8,453.4 124.2,454.8 124.6,457 125,460 125.4,463.7 125.8,467.8 126.2,472.2 126.6,476.8 127,481.3 127.4,485.4 127.8,489.2 128.2,492.2 128.6,494.6 129,496 129.4,496.6 129.8,496.1 130.2,494.8 130.6,492.5 131,489.5 131.4,485.9 131.8,481.7 132.2,477.3 132.6,472.7 133,468.2 133.4,464.1 133.8,460.4 134.2,457.3 134.6,455 135,453.5 135.4,453 135.8,453.5 136.2,454.9 136.6,457.1 137,460.2 137.4,463.8 137.8,468 138.2,472.4 138.6,477 139,481.5 139.4,485.6 139.8,489.3 140.2,492.4 140.6,494.7 141,496.1 141.4,496.6 141.8,496.1 142.2,494.7 142.6,492.4 143,489.4 143.4,485.7 143.8,481.5 144.2,477 144.6,472.5 145,468 145.4,463.9 145.8,460.2 146.2,457.2 146.6,454.9 147,453.5 147.4,453 147.8,453.5 148.2,455 148.6,457.3 149,460.3 149.4,464 149.8,468.2 150.2,472.7 150.6,477.2 151,481.7 151.4,485.8 151.8,489.5 152.2,492.5 152.6,494.7 153,496.1 153.4,496.6 153.8,496 154.2,494.6 154.6,492.3 155,489.2 155.4,485.5 155.8,481.3 156.2,476.8 156.6,472.3 157,467.8 157.4,463.7 157.8,460 158.2,457 158.6,454.8 159,453.5 159.4,453 159.8,453.6 160.2,455.1 160.6,457.4 161,460.5 161.4,464.2 161.8,468.4 162.2,472.9 162.6,477.4 163,481.9 163.4,486 163.8,489.6 164.2,492.6 164.6,494.8 165,496.2 165.4,496.6 165.8,496 166.2,494.5 166.6,492.1 167,489 167.4,485.3 167.8,481.1 168.2,476.6 168.6,472.1 169,467.6 169.4,463.5 169.8,459.9 170.2,456.9 170.6,454.7 171,453.4 171.4,453 171.8,453.6 172.2,455.1 172.6,457.5 173,460.7 173.4,464.4 173.8,468.6 174.2,473.1 174.6,477.6 175,482.1 175.4,486.2 175.8,489.8 176.2,492.8 176.6,494.9 177,496.2 177.4,496.5 177.8,495.9 178.2,494.4 178.6,492 179,488.9 179.4,485.1 179.8,480.9 180.2,476.4 180.6,471.8 181,467.4 181.4,463.3 181.8,459.7 182.2,456.8 182.6,454.6 183,453.4 183.4,453.1 183.8,453.7 184.2,455.2 184.6,457.7 185,460.8 185.4,464.6 185.8,468.8 186.2,473.3 186.6,477.9 187,482.3 187.4,486.4 187.8,490 188.2,492.9 188.6,495 189,496.2 189.4,496.5 189.8,495.9 190.2,494.3 190.6,491.9 191,488.7 191.4,484.9 191.8,480.7 192.2,476.2 192.6,471.6 193,467.2 193.4,463.1 193.8,459.6 194.2,456.7 194.6,454.6 195,453.3 195.4,453.1 195.8,453.7 196.2,455.3 196.6,457.8 197,461 197.4,464.8 197.8,469 198.2,473.5 198.6,478.1 199,482.5 199.4,486.6 199.8,490.1 200.2,493 200.6,495.1 201,496.3 201.4,496.5 201.8,495.8 202.2,494.2 202.6,491.7 203,488.5 203.4,484.7 203.8,480.5 204.2,476 204.6,471.4 205,467 205.4,463 205.8,459.4 206.2,456.5 206.6,454.5 207,453.3 207.4,453.1 207.8,453.8 208.2,455.4 208.6,457.9 209,461.2 209.4,465 209.8,469.2 210.2,473.7 210.6,478.3 211,482.7 211.4,486.7 211.8,490.3 212.2,493.1 212.6,495.2 213,496.3 213.4,496.5 213.8,495.8 214.2,494.1 214.6,491.6 215,488.4 215.4,484.5 215.8,480.3 216.2,475.7 216.6,471.2 217,466.8 217.4,462.8 217.8,459.3 218.2,456.4 218.6,454.4 219,453.3 219.4,453.1 219.8,453.9 220.2,455.5 220.6,458.1 221,461.3 221.4,465.2 221.8,469.5 222.2,474 222.6,478.5 223,482.9 223.4,486.9 223.8,490.4 224.2,493.2 224.6,495.2 225,496.3 225.4,496.5 225.8,495.7 226.2,494 226.6,491.5 227,488.2 227.4,484.3 227.8,480 228.2,475.5 228.6,471 229,466.6 229.4,462.6 229.8,459.1 230.2,456.3 230.6,454.3 231,453.2 231.4,453.1 231.8,453.9 232.2,455.6 232.6,458.2 233,461.5 233.4,465.4 233.8,469.7 234.2,474.2 234.6,478.7 235,483.1 235.4,487.1 235.8,490.6 236.2,493.3 236.6,495.3 237,496.4 237.4,496.5 237.8,495.7 238.2,493.9 238.6,491.3 239,488 239.4,484.1 239.8,479.8 240.2,475.3 240.6,470.8 241,466.4 241.4,462.4 241.8,459 242.2,456.2 242.6,454.3 243,453.2 243.4,453.1 243.8,454 244.2,455.7 244.6,458.3 245,461.7 245.4,465.6 245.8,469.9 246.2,474.4 246.6,478.9 247,483.3 247.4,487.3 247.8,490.7 248.2,493.5 248.6,495.4 249,496.4 249.4,496.5 249.8,495.6 250.2,493.8 250.6,491.2 251,487.8 251.4,483.9 251.8,479.6 252.2,475.1 252.6,470.6 253,466.2 253.4,462.2 253.8,458.8 254.2,456.1 254.6,454.2 255,453.2 255.4,453.1 255.8,454 256.2,455.8 256.6,458.5 257,461.8 257.4,465.8 257.8,470.1 258.2,474.6 258.6,479.1 259,483.5 259.4,487.5 259.8,490.9 260.2,493.6 260.6,495.4 261,496.4 261.4,496.5 261.8,495.5 262.2,493.7 262.6,491 263,487.7 263.4,483.7 263.8,479.4 264.2,474.9 264.6,470.3 265,466 265.4,462.1 265.8,458.7 266.2,456 266.6,454.1 267,453.2 267.4,453.2 267.8,454.1 268.2,456 268.6,458.6 269,462 269.4,466 269.8,470.3 270.2,474.8 270.6,479.4 271,483.7 271.4,487.6 271.8,491 272.2,493.7 272.6,495.5 273,496.4 273.4,496.4 273.8,495.5 274.2,493.6 274.6,490.9 275,487.5 275.4,483.5 275.8,479.2 276.2,474.7 276.6,470.1 277,465.8 277.4,461.9 277.8,458.5 278.2,455.9 278.6,454.1 279,453.1 279.4,453.2 279.8,454.2 280.2,456.1 280.6,458.8 281,462.2 281.4,466.2 281.8,470.5 282.2,475 282.6,479.6 283,483.9 283.4,487.8 283.8,491.2 284.2,493.8 284.6,495.6 285,496.5 285.4,496.4 285.8,495.4 286.2,493.5 286.6,490.8 287,487.3 287.4,483.3 287.8,479 288.2,474.4 288.6,469.9 289,465.6 289.4,461.7 289.8,458.4 290.2,455.8 290.6,454 291,453.1 291.4,453.2 291.8,454.2 292.2,456.2 292.6,458.9 293,462.4 293.4,466.4 293.8,470.7 294.2,475.3 294.6,479.8 295,484.1 295.4,488 295.8,491.3 296.2,493.9 296.6,495.6 297,496.5 297.4,496.4 297.8,495.3 298.2,493.4 298.6,490.6 299,487.1 299.4,483.1 299.8,478.8 300.2,474.2 300.6,469.7 301,465.4 301.4,461.5 301.8,458.2 302.2,455.7 302.6,453.9 303,453.1 303.4,453.2 303.8,454.3 304.2,456.3 304.6,459.1 305,462.5 305.4,466.6 305.8,470.9 306.2,475.5 306.6,480 307,484.3 307.4,488.1 307.8,491.4 308.2,494 308.6,495.7 309,496.5 309.4,496.3 309.8,495.3 310.2,493.3 310.6,490.5 311,487 311.4,482.9 311.8,478.6 312.2,474 312.6,469.5 313,465.2 313.4,461.4 313.8,458.1 314.2,455.6 314.6,453.9 315,453.1 315.4,453.3 315.8,454.4 316.2,456.4 316.6,459.2 317,462.7 317.4,466.8 317.8,471.1 318.2,475.7 318.6,480.2 319,484.5 319.4,488.3 319.8,491.6 320.2,494.1 320.6,495.8 321,496.5 321.4,496.3 321.8,495.2 322.2,493.1 322.6,490.3 323,486.8 323.4,482.7 323.8,478.3 324.2,473.8 324.6,469.3 325,465 325.4,461.2 325.8,458 326.2,455.5 326.6,453.8 327,453.1 327.4,453.3 327.8,454.5 328.2,456.5 328.6,459.4 329,462.9 329.4,467 329.8,471.4 330.2,475.9 330.6,480.4 331,484.7 331.4,488.5 331.8,491.7 332.2,494.2 332.6,495.8 333,496.5 333.4,496.3 333.8,495.1 334.2,493 334.6,490.1 335,486.6 335.4,482.5 335.8,478.1 336.2,473.6 336.6,469.1 337,464.8 337.4,461 337.8,457.8 338.2,455.4 338.6,453.8 339,453.1 339.4,453.3 339.8,454.5 340.2,456.6 340.6,459.5 341,463.1 341.4,467.2 341.8,471.6 342.2,476.1 342.6,480.6 343,484.9 343.4,488.7 343.8,491.8 344.2,494.3 344.6,495.9 345,496.5 345.4,496.2 345.8,495 346.2,492.9 346.6,490 347,486.4 347.4,482.3 347.8,477.9 348.2,473.4 348.6,468.9 349,464.6 349.4,460.9 349.8,457.7 350.2,455.3 350.6,453.7 351,453.1 351.4,453.4 351.8,454.6 352.2,456.8 352.6,459.7 353,463.3 353.4,467.4 353.8,471.8 354.2,476.3 354.6,480.8 355,485.1 355.4,488.8 355.8,492 356.2,494.4 356.6,495.9 357,496.5 357.4,496.2 357.8,494.9 358.2,492.8 358.6,489.8 359,486.2 359.4,482.1 359.8,477.7 360.2,473.1 360.6,468.7 361,464.5 361.4,460.7 361.8,457.6 362.2,455.2 362.6,453.6 363,453 363.4,453.4 363.8,454.7 364.2,456.9 364.6,459.8 365,463.5 365.4,467.6 365.8,472 366.2,476.6 366.6,481 367,485.2 367.4,489 367.8,492.1 368.2,494.5 368.6,496 369,496.6 369.4,496.2 369.8,494.9 370.2,492.7 370.6,489.7 371,486 371.4,481.9 371.8,477.5 372.2,472.9 372.6,468.5 373,464.3 373.4,460.5 373.8,457.4 374.2,455.1 374.6,453.6 375,453 375.4,453.4 375.8,454.8 376.2,457 376.6,459.9 377,463.5 377.4,467.6 377.8,472.1 378.2,476.9 378.6,481.6 379,486.2 379.4,490.5 379.8,494.1 380.2,497.1 380.6,499.1 381,500 381.4,499.9 381.8,498.7 382.2,496.3 382.6,492.9 383,488.6 383.4,483.5 383.8,478 384.2,472.1 384.6,466.2 385,460.6 385.4,455.5 385.8,451.1 386.2,447.7 386.6,445.5 387,444.5 387.4,444.9 387.8,446.6 388.2,449.6 388.6,453.8 389,458.9 389.4,464.9 389.8,471.3 390.2,478 390.6,484.7 391,490.9 391.4,496.6 391.8,501.3 392.2,504.9 392.6,507.1 393,508 393.4,507.4 393.8,505.4 394.2,502 394.6,497.4 395,491.7 395.4,485.3 395.8,478.3 396.2,471.2 396.6,464.2 397,457.6 397.4,451.8 397.8,446.9 398.2,443.3 398.6,441 399,440.2 399.4,440.9 399.8,443.1 400.2,446.8 400.6,451.6 401,457.5 401.4,464.2 401.8,471.3 402.2,478.7 402.6,485.8 403,492.5 403.4,498.5 403.8,503.4 404.2,507 404.6,509.3 405,510 405.4,509.2 405.8,506.9 406.2,503.1 406.6,498.2 407,492.1 407.4,485.4 407.8,478.1 408.2,470.7 408.6,463.5 409,456.7 409.4,450.8 409.8,445.9 410.2,442.3 410.6,440 411,439.4 411.4,440.2 411.8,442.6 412.2,446.4 412.6,451.5 413,457.5 413.4,464.4 413.8,471.6 414.2,479.1 414.6,486.3 415,493.1 415.4,499 415.8,503.9 416.2,507.5 416.6,509.7 417,510.3 417.4,509.4 417.8,507 418.2,503.1 418.6,498.1 419,492 419.4,485.1 419.8,477.8 420.2,470.3 420.6,463.1 421,456.4 421.4,450.4 421.8,445.6 422.2,442 422.6,439.8 423,439.2 423.4,440.2 423.8,442.7 424.2,446.5 424.6,451.7 425,457.8 425.4,464.7 425.8,472 426.2,479.4 426.6,486.7 427,493.4 427.4,499.3 427.8,504.2 428.2,507.7 428.6,509.8 429,510.4 429.4,509.4 429.8,506.9 430.2,503 430.6,497.8 431,491.7 431.4,484.8 431.8,477.4 432.2,470 432.6,462.7 433,456 433.4,450.1 433.8,445.3 434.2,441.8 434.6,439.8 435,439.2 435.4,440.3 435.8,442.8 436.2,446.7 436.6,451.9 437,458.1 437.4,465 437.8,472.3 438.2,479.8 438.6,487 439,493.7 439.4,499.6 439.8,504.4 440.2,507.8 440.6,509.9 441,510.4 441.4,509.3 441.8,506.7 442.2,502.8 442.6,497.5 443,491.3 443.4,484.4 443.8,477.1 444.2,469.6 444.6,462.4 445,455.7 445.4,449.9 445.8,445.1 446.2,441.7 446.6,439.7 447,439.2 447.4,440.3 447.8,443 448.2,447 448.6,452.2 449,458.4 449.4,465.3 449.8,472.7 450.2,480.1 450.6,487.4 451,494 451.4,499.8 451.8,504.6 452.2,508 452.6,509.9 453,510.4 453.4,509.2 453.8,506.6 454.2,502.5 454.6,497.3 455,491 455.4,484.1 455.8,476.7 456.2,469.3 456.6,462.1 457,455.4 457.4,449.6 457.8,444.9 458.2,441.6 458.6,439.6 459,439.3 459.4,440.4 459.8,443.1 460.2,447.2 460.6,452.5 461,458.7 461.4,465.7 461.8,473.1 462.2,480.5 462.6,487.7 463,494.3 463.4,500.1 463.8,504.7 464.2,508.1 464.6,510 465,510.3 465.4,509.1 465.8,506.4 466.2,502.3 466.6,497 467,490.7 467.4,483.7 467.8,476.4 468.2,468.9 468.6,461.7 469,455.1 469.4,449.4 469.8,444.8 470.2,441.4 470.6,439.6 471,439.3 471.4,440.5 471.8,443.3 472.2,447.4 472.6,452.7 473,459 473.4,466 473.8,473.4 474.2,480.8 474.6,488 475,494.6 475.4,500.3 475.8,504.9 476.2,508.2 476.6,510 477,510.3 477.4,509 477.8,506.2 478.2,502.1 478.6,496.7 479,490.4 479.4,483.4 479.8,476 480.2,468.6 480.6,461.4 481,454.8 481.4,449.1 481.8,444.6 482.2,441.3 482.6,439.5 483,439.3 483.4,440.6 483.8,443.4 484.2,447.6 484.6,453 485,459.4 485.4,466.4 485.8,473.8 486.2,481.2 486.6,488.3 487,494.9 487.4,500.6 487.8,505.1 488.2,508.3 488.6,510.1 489,510.3 489.4,508.9 489.8,506.1 490.2,501.9 490.6,496.4 491,490.1 491.4,483.1 491.8,475.7 492.2,468.2 492.6,461.1 493,454.5 493.4,448.9 493.8,444.4 494.2,441.2 494.6,439.5 495,439.3 495.4,440.7 495.8,443.6 496.2,447.9 496.6,453.3 497,459.7 497.4,466.7 497.8,474.1 498.2,481.5 498.6,488.7 499,495.2 499.4,500.8 499.8,505.3 500.2,508.5 500.6,510.1 501,510.3 501.4,508.8 501.8,505.9 502.2,501.6 502.6,496.2 503,489.8 503.4,482.7 503.8,475.3 504.2,467.9 504.6,460.8 505,454.3 505.4,448.7 505.8,444.2 506.2,441.1 506.6,439.4 507,439.4 507.4,440.8 507.8,443.8 508.2,448.1 508.6,453.6 509,460 509.4,467.1 509.8,474.5 510.2,481.9 510.6,489 511,495.5 511.4,501.1 511.8,505.5 512.2,508.6 512.6,510.2 513,510.2 513.4,508.7 513.8,505.7 514.2,501.4 514.6,495.9 515,489.4 515.4,482.4 515.8,475 516.2,467.5 516.6,460.4 517,454 517.4,448.4 517.8,444 518.2,441 518.6,439.4 519,439.4 519.4,440.9 519.8,444 520.2,448.3 520.6,453.9 521,460.3 521.4,467.4 521.8,474.8 522.2,482.2 522.6,489.3 523,495.8 523.4,501.3 523.8,505.7 524.2,508.7 524.6,510.2 525,510.2 525.4,508.6 525.8,505.6 526.2,501.1 526.6,495.6 527,489.1 527.4,482 527.8,474.6 528.2,467.2 528.6,460.1 529,453.7 529.4,448.2 529.8,443.8 530.2,440.9 530.6,439.4 531,439.4 531.4,441 531.8,444.1 532.2,448.6 532.6,454.2 533,460.6 533.4,467.8 533.8,475.2 534.2,482.6 534.6,489.6 535,496.1 535.4,501.5 535.8,505.8 536.2,508.8 536.6,510.2 537,510.1 537.4,508.5 537.8,505.4 538.2,500.9 538.6,495.3 539,488.8 539.4,481.7 539.8,474.2 540.2,466.8 540.6,459.8 541,453.4 541.4,447.9 541.8,443.7 542.2,440.8 542.6,439.3 543,439.5 543.4,441.2 543.8,444.3 544.2,448.8 544.6,454.4 545,461 545.4,468.1 545.8,475.5 546.2,482.9 546.6,490 547,496.3 547.4,501.8 547.8,506 548.2,508.9 548.6,510.3 549,510.1 549.4,508.4 549.8,505.2 550.2,500.7 550.6,495 551,488.5 551.4,481.3 551.8,473.9 552.2,466.5 552.6,459.5 553,453.1 553.4,447.7 553.8,443.5 554.2,440.7 554.6,439.3 555,439.5 555.4,441.3 555.8,444.5 556.2,449.1 556.6,454.7 557,461.3 557.4,468.5 557.8,475.9 558.2,483.3 558.6,490.3 559,496.6 559.4,502 559.8,506.2 560.2,509 560.6,510.3 561,510.1 561.4,508.3 561.8,505 562.2,500.4 562.6,494.7 563,488.1 563.4,481 563.8,473.5 564.2,466.2 564.6,459.2 565,452.8 565.4,447.5 565.8,443.3 566.2,440.6 566.6,439.3 567,439.6 567.4,441.4 567.8,444.7 568.2,449.3 568.6,455 569,461.6 569.4,468.8 569.8,476.2 570.2,483.6 570.6,490.6 571,496.9 571.4,502.2 571.8,506.4 572.2,509.1 572.6,510.3 573,510 573.4,508.1 573.8,504.8 574.2,500.2 574.6,494.4 575,487.8 575.4,480.6 575.8,473.2 576.2,465.8 576.6,458.8 577,452.6 577.4,447.3 577.8,443.2 578.2,440.5 578.6,439.3 579,439.6 579.4,441.5 579.8,444.9 580.2,449.6 580.6,455.3 581,462 581.4,469.2 581.8,476.6 582.2,484 582.6,490.9 583,497.2 583.4,502.5 583.8,506.5 584.2,509.2 584.6,510.3 585,510 585.4,508 585.8,504.6 586.2,499.9 586.6,494.1 587,487.5 587.4,480.3 587.8,472.8 588.2,465.5 588.6,458.5 589,452.3 589.4,447 589.8,443 590.2,440.4 590.6,439.2 591,439.7 591.4,441.6 591.8,445.1 592.2,449.8 592.6,455.6 593,462.3 593.4,469.5 593.8,477 594.2,484.3 594.6,491.2 595,497.5 595.4,502.7 595.8,506.7 596.2,509.3 596.6,510.4 597,509.9 597.4,507.9 597.8,504.4 598.2,499.7 598.6,493.8 599,487.1 599.4,479.9 599.8,472.5 600.2,465.1 600.6,458.2 601,452 601.4,446.8 601.8,442.8 602.2,440.3 602.6,439.2 603,439.7 603.4,441.8 603.8,445.3 604.2,450.1 604.6,455.9 605,462.6 605.4,469.9 605.8,477.3 606.2,484.6 606.6,491.6 607,497.7 607.4,502.9 607.8,506.8 608.2,509.4 608.6,510.4 609,509.8 609.4,507.8 609.8,504.2 610.2,499.4 610.6,493.5 611,486.8 611.4,479.6 611.8,472.1 612.2,464.8 612.6,457.9 613,451.7 613.4,446.6 613.8,442.7 614.2,440.2 614.6,439.2 615,439.8 615.4,441.9 615.8,445.5 616.2,450.3 616.6,456.2 617,463 617.4,470.2 617.8,477.7 618.2,485 618.6,491.9 619,498 619.4,503.1 619.8,507 620.2,509.4 620.6,510.4 621,509.8 621.4,507.6 621.8,504 622.2,499.2 622.6,493.2 623,486.5 623.4,479.2 623.8,471.8 624.2,464.4 624.6,457.6 625,451.5 625.4,446.4 625.8,442.5 626.2,440.1 626.6,439.2 627,439.9 627.4,442 627.8,445.7 628.2,450.6 628.6,456.5 629,463.3 629.4,470.6 629.8,478 630.2,485.3 630.6,492.2 631,498.3 631.4,503.3 631.8,507.1 632.2,509.5 632.6,510.4 633,509.7 633.4,507.5 633.8,503.8 634.2,498.9 634.6,492.9 635,486.1 635.4,478.9 635.8,471.4 636.2,464.1 636.6,457.3 637,451.2 637.4,446.2 637.8,442.4 638.2,440 638.6,439.2 639,439.9 639.4,442.2 639.8,445.9 640.2,450.8 640.6,456.8 641,463.6 641.4,470.9 641.8,478.4 642.2,485.7 642.6,492.5 643,498.5 643.4,503.5 643.8,507.3 644.2,509.6 644.6,510.4 645,509.6 645.4,507.3 645.8,503.6 646.2,498.6 646.6,492.6 647,485.8 647.4,478.5 647.8,471.1 648.2,463.8 648.6,457 649,450.9 649.4,446 649.8,442.2 650.2,440 650.6,439.2 651,440 651.4,442.3 651.8,446.1 652.2,451.1 652.6,457.1 653,464 653.4,471.3 653.8,478.7 654.2,486 654.6,492.8 655,498.8 655.4,503.7 655.8,507.4 656.2,509.7 656.6,510.4 657,509.6 657.4,507.2 657.8,503.4 658.2,498.4 658.6,492.3 659,485.5 659.4,478.2 659.8,470.7 660.2,463.4 660.6,456.7 661,450.7 661.4,445.8 661.8,442.1 662.2,439.9 662.6,439.2 663,440.1 663.4,442.5 663.8,446.3 664.2,451.4 664.6,457.5 665,464.3 665.4,471.6 665.8,479.1 666.2,486.3 666.6,493.1 667,499.1 667.4,503.9 667.8,507.6 668.2,509.7 668.6,510.4 669,509.5 669.4,507 669.8,503.2 670.2,498.1 670.6,492 671,485.1 671.4,477.8 671.8,470.4 672.2,463.1 672.6,456.4 673,450.4 673.4,445.6 673.8,442 674.2,439.8 674.6,439.2" stroke="#ff00ff" stroke-width="2.1" fill="none" stroke-linejoin="round"/>
</svg>
<path d="M136.8,578 V677.5 M196.5,578 V677.5 M256.3,578 V677.5 M316,578 V677.5 M375.8,578 V677.5 M435.6,578 V677.5 M495.3,578 V677.5 M555.1,578 V677.5 M614.8,578 V677.5" stroke="#000" stroke-opacity="0.55" stroke-width="1" fill="none"/>
<path d="M77,652.6 H674.6 M77,627.8 H674.6 M77,602.9 H674.6" stroke="#000" stroke-opacity="0.55" stroke-width="1" fill="none"/>
<path d="M136.8,677.5 v-6 M136.8,578 v6 M196.5,677.5 v-6 M196.5,578 v6 M256.3,677.5 v-6 M256.3,578 v6 M316,677.5 v-6 M316,578 v6 M375.8,677.5 v-6 M375.8,578 v6 M435.6,677.5 v-6 M435.6,578 v6 M495.3,677.5 v-6 M495.3,578 v6 M555.1,677.5 v-6 M555.1,578 v6 M614.8,677.5 v-6 M614.8,578 v6 M77,652.6 h6 M674.6,652.6 h-6 M77,627.8 h6 M674.6,627.8 h-6 M77,602.9 h6 M674.6,602.9 h-6" stroke="#262626" stroke-width="1.2" fill="none"/>
<rect x="77" y="578" width="597.6" height="99.5" fill="none" stroke="#262626" stroke-width="1.4"/>
<text x="72.4" y="683.9" text-anchor="end" font-size="17">-400</text>
<text x="72.4" y="659" text-anchor="end" font-size="17">-200</text>
<text x="72.4" y="634.2" text-anchor="end" font-size="17">0</text>
<text x="72.4" y="609.3" text-anchor="end" font-size="17">200</text>
<text x="72.4" y="584.4" text-anchor="end" font-size="17">400</text>
<text x="76.4" y="698" text-anchor="middle" font-size="17">3.5</text>
<text x="136.3" y="698" text-anchor="middle" font-size="17">3.6</text>
<text x="196.1" y="698" text-anchor="middle" font-size="17">3.7</text>
<text x="256" y="698" text-anchor="middle" font-size="17">3.8</text>
<text x="315.8" y="698" text-anchor="middle" font-size="17">3.9</text>
<text x="375.7" y="698" text-anchor="middle" font-size="17">4</text>
<text x="435.6" y="698" text-anchor="middle" font-size="17">4.1</text>
<text x="495.4" y="698" text-anchor="middle" font-size="17">4.2</text>
<text x="555.3" y="698" text-anchor="middle" font-size="17">4.3</text>
<text x="615.1" y="698" text-anchor="middle" font-size="17">4.4</text>
<text x="675" y="698" text-anchor="middle" font-size="17">4.5</text>
<text transform="translate(13.5,627.8) rotate(-90)" text-anchor="middle" font-size="18.67">Voltages (V)</text>
<text x="408.2" y="714.2" text-anchor="middle" font-size="18.67">(d)</text>
<text x="585.7" y="723.2" text-anchor="middle" font-size="18.1">Time (s)</text>
<svg x="76" y="578" width="599.8" height="99.5" viewBox="76 578 599.8 99.5" overflow="hidden">
<path d="M77,617.3 77.4,609.2 77.8,602.1 78.2,596 78.6,591.3 79,588.2 79.4,586.9 79.8,587.3 80.2,589.6 80.6,593.5 81,598.9 81.4,605.5 81.8,613.2 82.2,621.5 82.6,630 83,638.5 83.4,646.5 83.8,653.7 84.2,659.7 84.6,664.3 85,667.4 85.4,668.7 85.8,668.2 86.2,665.9 86.6,662 87,656.5 87.4,649.9 87.8,642.2 88.2,633.9 88.6,625.3 89,616.9 89.4,608.9 89.8,601.7 90.2,595.7 90.6,591.1 91,588.1 91.4,586.9 91.8,587.4 92.2,589.7 92.6,593.7 93,599.1 93.4,605.9 93.8,613.6 94.2,621.9 94.6,630.4 95,638.9 95.4,646.8 95.8,654 96.2,660 96.6,664.5 97,667.5 97.4,668.7 97.8,668.1 98.2,665.8 98.6,661.8 99,656.3 99.4,649.5 99.8,641.8 100.2,633.5 100.6,624.9 101,616.5 101.4,608.5 101.8,601.4 102.2,595.5 102.6,590.9 103,588 103.4,586.8 103.8,587.5 104.2,589.9 104.6,593.9 105,599.4 105.4,606.2 105.8,613.9 106.2,622.3 106.6,630.8 107,639.3 107.4,647.2 107.8,654.3 108.2,660.2 108.6,664.7 109,667.6 109.4,668.7 109.8,668 110.2,665.6 110.6,661.5 111,656 111.4,649.2 111.8,641.4 112.2,633.1 112.6,624.5 113,616.1 113.4,608.2 113.8,601.1 114.2,595.2 114.6,590.8 115,587.9 115.4,586.8 115.8,587.5 116.2,590 116.6,594.1 117,599.7 117.4,606.6 117.8,614.3 118.2,622.7 118.6,631.2 119,639.7 119.4,647.6 119.8,654.6 120.2,660.5 120.6,664.9 121,667.7 121.4,668.7 121.8,668 122.2,665.5 122.6,661.3 123,655.7 123.4,648.8 123.8,641 124.2,632.7 124.6,624.1 125,615.7 125.4,607.8 125.8,600.8 126.2,595 126.6,590.6 127,587.8 127.4,586.8 127.8,587.6 128.2,590.2 128.6,594.4 129,600 129.4,606.9 129.8,614.7 130.2,623.1 130.6,631.7 131,640.1 131.4,647.9 131.8,654.9 132.2,660.7 132.6,665 133,667.8 133.4,668.7 133.8,667.9 134.2,665.3 134.6,661.1 135,655.4 135.4,648.5 135.8,640.6 136.2,632.3 136.6,623.7 137,615.3 137.4,607.5 137.8,600.5 138.2,594.7 138.6,590.4 139,587.7 139.4,586.8 139.8,587.7 140.2,590.3 140.6,594.6 141,600.3 141.4,607.3 141.8,615.1 142.2,623.5 142.6,632.1 143,640.4 143.4,648.3 143.8,655.2 144.2,660.9 144.6,665.2 145,667.8 145.4,668.7 145.8,667.8 146.2,665.1 146.6,660.8 147,655.1 147.4,648.1 147.8,640.3 148.2,631.9 148.6,623.3 149,614.9 149.4,607.1 149.8,600.2 150.2,594.5 150.6,590.3 151,587.7 151.4,586.8 151.8,587.8 152.2,590.5 152.6,594.8 153,600.6 153.4,607.6 153.8,615.5 154.2,623.9 154.6,632.5 155,640.8 155.4,648.6 155.8,655.5 156.2,661.2 156.6,665.4 157,667.9 157.4,668.7 157.8,667.7 158.2,665 158.6,660.6 159,654.8 159.4,647.8 159.8,639.9 160.2,631.5 160.6,622.9 161,614.5 161.4,606.7 161.8,599.9 162.2,594.3 162.6,590.1 163,587.6 163.4,586.8 163.8,587.9 164.2,590.7 164.6,595.1 165,600.9 165.4,608 165.8,615.9 166.2,624.3 166.6,632.9 167,641.2 167.4,649 167.8,655.8 168.2,661.4 168.6,665.5 169,668 169.4,668.7 169.8,667.6 170.2,664.8 170.6,660.3 171,654.4 171.4,647.4 171.8,639.5 172.2,631.1 172.6,622.5 173,614.1 173.4,606.4 173.8,599.6 174.2,594 174.6,589.9 175,587.5 175.4,586.8 175.8,588 176.2,590.8 176.6,595.3 177,601.3 177.4,608.3 177.8,616.3 178.2,624.7 178.6,633.3 179,641.6 179.4,649.3 179.8,656.1 180.2,661.6 180.6,665.7 181,668.1 181.4,668.7 181.8,667.5 182.2,664.6 182.6,660.1 183,654.1 183.4,647 183.8,639.1 184.2,630.6 184.6,622.1 185,613.8 185.4,606.1 185.8,599.3 186.2,593.8 186.6,589.8 187,587.4 187.4,586.9 187.8,588.1 188.2,591 188.6,595.6 189,601.6 189.4,608.7 189.8,616.7 190.2,625.1 190.6,633.7 191,642 191.4,649.7 191.8,656.4 192.2,661.9 192.6,665.8 193,668.2 193.4,668.7 193.8,667.4 194.2,664.4 194.6,659.8 195,653.8 195.4,646.7 195.8,638.7 196.2,630.2 196.6,621.7 197,613.4 197.4,605.7 197.8,599 198.2,593.6 198.6,589.6 199,587.4 199.4,586.9 199.8,588.2 200.2,591.2 200.6,595.8 201,601.9 201.4,609.1 201.8,617.1 202.2,625.5 202.6,634.1 203,642.4 203.4,650 203.8,656.7 204.2,662.1 204.6,666 205,668.2 205.4,668.7 205.8,667.3 206.2,664.3 206.6,659.6 207,653.5 207.4,646.3 207.8,638.3 208.2,629.8 208.6,621.3 209,613 209.4,605.4 209.8,598.7 210.2,593.3 210.6,589.5 211,587.3 211.4,586.9 211.8,588.3 212.2,591.4 212.6,596.1 213,602.2 213.4,609.4 213.8,617.4 214.2,625.9 214.6,634.5 215,642.7 215.4,650.4 215.8,657 216.2,662.3 216.6,666.1 217,668.3 217.4,668.6 217.8,667.2 218.2,664.1 218.6,659.3 219,653.2 219.4,645.9 219.8,637.9 220.2,629.4 220.6,620.9 221,612.6 221.4,605 221.8,598.4 222.2,593.1 222.6,589.3 223,587.2 223.4,586.9 223.8,588.4 224.2,591.6 224.6,596.4 225,602.5 225.4,609.8 225.8,617.8 226.2,626.3 226.6,634.9 227,643.1 227.4,650.7 227.8,657.3 228.2,662.5 228.6,666.3 229,668.3 229.4,668.6 229.8,667.1 230.2,663.9 230.6,659.1 231,652.9 231.4,645.6 231.8,637.5 232.2,629 232.6,620.5 233,612.2 233.4,604.7 233.8,598.2 234.2,592.9 234.6,589.2 235,587.2 235.4,586.9 235.8,588.5 236.2,591.8 236.6,596.6 237,602.8 237.4,610.2 237.8,618.2 238.2,626.7 238.6,635.3 239,643.5 239.4,651 239.8,657.5 240.2,662.7 240.6,666.4 241,668.4 241.4,668.6 241.8,667 242.2,663.7 242.6,658.8 243,652.5 243.4,645.2 243.8,637.1 244.2,628.6 244.6,620.1 245,611.9 245.4,604.4 245.8,597.9 246.2,592.7 246.6,589.1 247,587.1 247.4,587 247.8,588.6 248.2,592 248.6,596.9 249,603.2 249.4,610.5 249.8,618.6 250.2,627.1 250.6,635.7 251,643.9 251.4,651.4 251.8,657.8 252.2,663 252.6,666.5 253,668.4 253.4,668.6 253.8,666.9 254.2,663.5 254.6,658.5 255,652.2 255.4,644.8 255.8,636.7 256.2,628.2 256.6,619.7 257,611.5 257.4,604 257.8,597.6 258.2,592.5 258.6,588.9 259,587.1 259.4,587 259.8,588.7 260.2,592.2 260.6,597.2 261,603.5 261.4,610.9 261.8,619 262.2,627.6 262.6,636.1 263,644.3 263.4,651.7 263.8,658.1 264.2,663.2 264.6,666.7 265,668.5 265.4,668.5 265.8,666.7 266.2,663.3 266.6,658.3 267,651.9 267.4,644.5 267.8,636.3 268.2,627.8 268.6,619.3 269,611.1 269.4,603.7 269.8,597.3 270.2,592.3 270.6,588.8 271,587 271.4,587.1 271.8,588.9 272.2,592.4 272.6,597.4 273,603.8 273.4,611.3 273.8,619.4 274.2,628 274.6,636.5 275,644.6 275.4,652 275.8,658.4 276.2,663.4 276.6,666.8 277,668.5 277.4,668.5 277.8,666.6 278.2,663.1 278.6,658 279,651.6 279.4,644.1 279.8,635.9 280.2,627.4 280.6,618.9 281,610.7 281.4,603.4 281.8,597 282.2,592.1 282.6,588.7 283,587 283.4,587.1 283.8,589 284.2,592.6 284.6,597.7 285,604.2 285.4,611.6 285.8,619.8 286.2,628.4 286.6,636.9 287,645 287.4,652.4 287.8,658.6 288.2,663.6 288.6,666.9 289,668.6 289.4,668.4 289.8,666.5 290.2,662.9 290.6,657.7 291,651.2 291.4,643.7 291.8,635.5 292.2,627 292.6,618.5 293,610.4 293.4,603 293.8,596.8 294.2,591.9 294.6,588.6 295,587 295.4,587.2 295.8,589.1 296.2,592.8 296.6,598 297,604.5 297.4,612 297.8,620.2 298.2,628.8 298.6,637.3 299,645.4 299.4,652.7 299.8,658.9 300.2,663.8 300.6,667 301,668.6 301.4,668.4 301.8,666.4 302.2,662.7 302.6,657.4 303,650.9 303.4,643.3 303.8,635.1 304.2,626.6 304.6,618.1 305,610 305.4,602.7 305.8,596.5 306.2,591.7 306.6,588.5 307,586.9 307.4,587.2 307.8,589.3 308.2,593 308.6,598.3 309,604.8 309.4,612.4 309.8,620.6 310.2,629.2 310.6,637.7 311,645.7 311.4,653 311.8,659.2 312.2,664 312.6,667.2 313,668.6 313.4,668.3 313.8,666.2 314.2,662.4 314.6,657.1 315,650.6 315.4,643 315.8,634.7 316.2,626.2 316.6,617.7 317,609.6 317.4,602.4 317.8,596.3 318.2,591.5 318.6,588.3 319,586.9 319.4,587.3 319.8,589.4 320.2,593.2 320.6,598.6 321,605.2 321.4,612.8 321.8,621 322.2,629.6 322.6,638.1 323,646.1 323.4,653.3 323.8,659.4 324.2,664.1 324.6,667.3 325,668.7 325.4,668.3 325.8,666.1 326.2,662.2 326.6,656.9 327,650.2 327.4,642.6 327.8,634.3 328.2,625.8 328.6,617.3 329,609.3 329.4,602.1 329.8,596 330.2,591.3 330.6,588.2 331,586.9 331.4,587.3 331.8,589.5 332.2,593.4 332.6,598.8 333,605.5 333.4,613.2 333.8,621.4 334.2,630 334.6,638.5 335,646.5 335.4,653.6 335.8,659.7 336.2,664.3 336.6,667.4 337,668.7 337.4,668.2 337.8,665.9 338.2,662 338.6,656.6 339,649.9 339.4,642.2 339.8,633.9 340.2,625.3 340.6,616.9 341,608.9 341.4,601.8 341.8,595.7 342.2,591.1 342.6,588.1 343,586.9 343.4,587.4 343.8,589.7 344.2,593.7 344.6,599.1 345,605.9 345.4,613.5 345.8,621.8 346.2,630.4 346.6,638.9 347,646.8 347.4,654 347.8,659.9 348.2,664.5 348.6,667.5 349,668.7 349.4,668.1 349.8,665.8 350.2,661.8 350.6,656.3 351,649.5 351.4,641.8 351.8,633.5 352.2,624.9 352.6,616.5 353,608.5 353.4,601.4 353.8,595.5 354.2,590.9 354.6,588 355,586.8 355.4,587.5 355.8,589.8 356.2,593.9 356.6,599.4 357,606.2 357.4,613.9 357.8,622.2 358.2,630.8 358.6,639.3 359,647.2 359.4,654.3 359.8,660.2 360.2,664.7 360.6,667.6 361,668.7 361.4,668 361.8,665.6 362.2,661.5 362.6,656 363,649.2 363.4,641.4 363.8,633.1 364.2,624.5 364.6,616.1 365,608.2 365.4,601.1 365.8,595.2 366.2,590.8 366.6,587.9 367,586.8 367.4,587.5 367.8,590 368.2,594.1 368.6,599.7 369,606.5 369.4,614.3 369.8,622.7 370.2,631.2 370.6,639.6 371,647.5 371.4,654.6 371.8,660.4 372.2,664.9 372.6,667.7 373,668.7 373.4,668 373.8,665.5 374.2,661.3 374.6,655.7 375,648.8 375.4,641.1 375.8,632.7 376.2,624.1 376.6,615.7 377,607.8 377.4,600.8 377.8,595 378.2,590.6 378.6,587.8 379,586.8 379.4,587.6 379.8,590.2 380.2,594.4 380.6,600 381,606.9 381.4,614.7 381.8,623.1 382.2,631.6 382.6,640 383,647.9 383.4,654.9 383.8,660.7 384.2,665 384.6,667.8 385,668.7 385.4,667.9 385.8,665.3 386.2,661.1 386.6,655.4 387,648.5 387.4,640.7 387.8,632.3 388.2,623.7 388.6,615.3 389,607.5 389.4,600.5 389.8,594.7 390.2,590.4 390.6,587.8 391,586.8 391.4,587.7 391.8,590.3 392.2,594.6 392.6,600.3 393,607.2 393.4,615.1 393.8,623.5 394.2,632 394.6,640.4 395,648.3 395.4,655.2 395.8,660.9 396.2,665.2 396.6,667.8 397,668.7 397.4,667.8 397.8,665.1 398.2,660.8 398.6,655.1 399,648.1 399.4,640.3 399.8,631.9 400.2,623.3 400.6,614.9 401,607.1 401.4,600.2 401.8,594.5 402.2,590.3 402.6,587.7 403,586.8 403.4,587.8 403.8,590.5 404.2,594.8 404.6,600.6 405,607.6 405.4,615.5 405.8,623.9 406.2,632.4 406.6,640.8 407,648.6 407.4,655.5 407.8,661.2 408.2,665.4 408.6,667.9 409,668.7 409.4,667.7 409.8,665 410.2,660.6 410.6,654.8 411,647.8 411.4,639.9 411.8,631.5 412.2,622.9 412.6,614.5 413,606.8 413.4,599.9 413.8,594.3 414.2,590.1 414.6,587.6 415,586.8 415.4,587.9 415.8,590.7 416.2,595.1 416.6,600.9 417,608 417.4,615.9 417.8,624.3 418.2,632.8 418.6,641.2 419,649 419.4,655.8 419.8,661.4 420.2,665.5 420.6,668 421,668.7 421.4,667.6 421.8,664.8 422.2,660.3 422.6,654.5 423,647.4 423.4,639.5 423.8,631.1 424.2,622.5 424.6,614.2 425,606.4 425.4,599.6 425.8,594 426.2,589.9 426.6,587.5 427,586.8 427.4,588 427.8,590.8 428.2,595.3 428.6,601.2 429,608.3 429.4,616.2 429.8,624.7 430.2,633.3 430.6,641.6 431,649.3 431.4,656.1 431.8,661.6 432.2,665.7 432.6,668.1 433,668.7 433.4,667.5 433.8,664.6 434.2,660.1 434.6,654.2 435,647.1 435.4,639.1 435.8,630.7 436.2,622.1 436.6,613.8 437,606.1 437.4,599.3 437.8,593.8 438.2,589.8 438.6,587.4 439,586.9 439.4,588.1 439.8,591 440.2,595.6 440.6,601.6 441,608.7 441.4,616.6 441.8,625.1 442.2,633.7 442.6,642 443,649.7 443.4,656.4 443.8,661.9 444.2,665.8 444.6,668.1 445,668.7 445.4,667.4 445.8,664.4 446.2,659.8 446.6,653.8 447,646.7 447.4,638.7 447.8,630.3 448.2,621.7 448.6,613.4 449,605.7 449.4,599 449.8,593.6 450.2,589.6 450.6,587.4 451,586.9 451.4,588.2 451.8,591.2 452.2,595.8 452.6,601.9 453,609 453.4,617 453.8,625.5 454.2,634.1 454.6,642.3 455,650 455.4,656.7 455.8,662.1 456.2,666 456.6,668.2 457,668.7 457.4,667.3 457.8,664.3 458.2,659.6 458.6,653.5 459,646.3 459.4,638.3 459.8,629.9 460.2,621.3 460.6,613 461,605.4 461.4,598.7 461.8,593.4 462.2,589.5 462.6,587.3 463,586.9 463.4,588.3 463.8,591.4 464.2,596.1 464.6,602.2 465,609.4 465.4,617.4 465.8,625.9 466.2,634.5 466.6,642.7 467,650.3 467.4,657 467.8,662.3 468.2,666.1 468.6,668.3 469,668.6 469.4,667.2 469.8,664.1 470.2,659.3 470.6,653.2 471,646 471.4,637.9 471.8,629.4 472.2,620.9 472.6,612.6 473,605 473.4,598.4 473.8,593.1 474.2,589.4 474.6,587.2 475,586.9 475.4,588.4 475.8,591.6 476.2,596.3 476.6,602.5 477,609.8 477.4,617.8 477.8,626.3 478.2,634.9 478.6,643.1 479,650.7 479.4,657.2 479.8,662.5 480.2,666.3 480.6,668.3 481,668.6 481.4,667.1 481.8,663.9 482.2,659.1 482.6,652.9 483,645.6 483.4,637.5 483.8,629 484.2,620.5 484.6,612.3 485,604.7 485.4,598.2 485.8,592.9 486.2,589.2 486.6,587.2 487,586.9 487.4,588.5 487.8,591.8 488.2,596.6 488.6,602.8 489,610.1 489.4,618.2 489.8,626.7 490.2,635.3 490.6,643.5 491,651 491.4,657.5 491.8,662.7 492.2,666.4 492.6,668.4 493,668.6 493.4,667 493.8,663.7 494.2,658.8 494.6,652.6 495,645.2 495.4,637.1 495.8,628.6 496.2,620.1 496.6,611.9 497,604.4 497.4,597.9 497.8,592.7 498.2,589.1 498.6,587.1 499,587 499.4,588.6 499.8,592 500.2,596.9 500.6,603.2 501,610.5 501.4,618.6 501.8,627.1 502.2,635.7 502.6,643.9 503,651.3 503.4,657.8 503.8,662.9 504.2,666.5 504.6,668.4 505,668.6 505.4,666.9 505.8,663.5 506.2,658.5 506.6,652.2 507,644.9 507.4,636.7 507.8,628.2 508.2,619.7 508.6,611.5 509,604 509.4,597.6 509.8,592.5 510.2,588.9 510.6,587.1 511,587 511.4,588.7 511.8,592.2 512.2,597.1 512.6,603.5 513,610.9 513.4,619 513.8,627.5 514.2,636.1 514.6,644.2 515,651.7 515.4,658.1 515.8,663.2 516.2,666.7 516.6,668.5 517,668.5 517.4,666.8 517.8,663.3 518.2,658.3 518.6,651.9 519,644.5 519.4,636.3 519.8,627.8 520.2,619.3 520.6,611.1 521,603.7 521.4,597.3 521.8,592.3 522.2,588.8 522.6,587 523,587.1 523.4,588.9 523.8,592.4 524.2,597.4 524.6,603.8 525,611.2 525.4,619.4 525.8,627.9 526.2,636.5 526.6,644.6 527,652 527.4,658.4 527.8,663.4 528.2,666.8 528.6,668.5 529,668.5 529.4,666.6 529.8,663.1 530.2,658 530.6,651.6 531,644.1 531.4,635.9 531.8,627.4 532.2,618.9 532.6,610.8 533,603.4 533.4,597.1 533.8,592.1 534.2,588.7 534.6,587 535,587.1 535.4,589 535.8,592.6 536.2,597.7 536.6,604.1 537,611.6 537.4,619.8 537.8,628.3 538.2,636.9 538.6,645 539,652.3 539.4,658.6 539.8,663.6 540.2,666.9 540.6,668.6 541,668.4 541.4,666.5 541.8,662.9 542.2,657.7 542.6,651.2 543,643.7 543.4,635.5 543.8,627 544.2,618.5 544.6,610.4 545,603 545.4,596.8 545.8,591.9 546.2,588.6 546.6,587 547,587.2 547.4,589.1 547.8,592.8 548.2,598 548.6,604.5 549,612 549.4,620.2 549.8,628.8 550.2,637.3 550.6,645.3 551,652.7 551.4,658.9 551.8,663.8 552.2,667 552.6,668.6 553,668.4 553.4,666.4 553.8,662.7 554.2,657.4 554.6,650.9 555,643.4 555.4,635.1 555.8,626.6 556.2,618.1 556.6,610 557,602.7 557.4,596.5 557.8,591.7 558.2,588.5 558.6,586.9 559,587.2 559.4,589.3 559.8,593 560.2,598.3 560.6,604.8 561,612.4 561.4,620.6 561.8,629.2 562.2,637.7 562.6,645.7 563,653 563.4,659.2 563.8,663.9 564.2,667.1 564.6,668.6 565,668.3 565.4,666.2 565.8,662.4 566.2,657.2 566.6,650.6 567,643 567.4,634.7 567.8,626.2 568.2,617.7 568.6,609.7 569,602.4 569.4,596.3 569.8,591.5 570.2,588.3 570.6,586.9 571,587.3 571.4,589.4 571.8,593.2 572.2,598.5 572.6,605.1 573,612.8 573.4,621 573.8,629.6 574.2,638.1 574.6,646.1 575,653.3 575.4,659.4 575.8,664.1 576.2,667.3 576.6,668.7 577,668.3 577.4,666.1 577.8,662.2 578.2,656.9 578.6,650.2 579,642.6 579.4,634.3 579.8,625.8 580.2,617.3 580.6,609.3 581,602.1 581.4,596 581.8,591.3 582.2,588.2 582.6,586.9 583,587.3 583.4,589.5 583.8,593.4 584.2,598.8 584.6,605.5 585,613.1 585.4,621.4 585.8,630 586.2,638.4 586.6,646.4 587,653.6 587.4,659.7 587.8,664.3 588.2,667.4 588.6,668.7 589,668.2 589.4,665.9 589.8,662 590.2,656.6 590.6,649.9 591,642.2 591.4,633.9 591.8,625.4 592.2,616.9 592.6,608.9 593,601.8 593.4,595.8 593.8,591.1 594.2,588.1 594.6,586.9 595,587.4 595.4,589.7 595.8,593.7 596.2,599.1 596.6,605.8 597,613.5 597.4,621.8 597.8,630.4 598.2,638.8 598.6,646.8 599,653.9 599.4,659.9 599.8,664.5 600.2,667.5 600.6,668.7 601,668.1 601.4,665.8 601.8,661.8 602.2,656.3 602.6,649.5 603,641.8 603.4,633.5 603.8,625 604.2,616.5 604.6,608.6 605,601.5 605.4,595.5 605.8,591 606.2,588 606.6,586.8 607,587.5 607.4,589.8 607.8,593.9 608.2,599.4 608.6,606.2 609,613.9 609.4,622.2 609.8,630.8 610.2,639.2 610.6,647.2 611,654.3 611.4,660.2 611.8,664.7 612.2,667.6 612.6,668.7 613,668.1 613.4,665.6 613.8,661.6 614.2,656 614.6,649.2 615,641.5 615.4,633.1 615.8,624.6 616.2,616.1 616.6,608.2 617,601.1 617.4,595.2 617.8,590.8 618.2,587.9 618.6,586.8 619,587.5 619.4,590 619.8,594.1 620.2,599.7 620.6,606.5 621,614.3 621.4,622.6 621.8,631.2 622.2,639.6 622.6,647.5 623,654.6 623.4,660.4 623.8,664.9 624.2,667.7 624.6,668.7 625,668 625.4,665.5 625.8,661.3 626.2,655.7 626.6,648.8 627,641.1 627.4,632.7 627.8,624.1 628.2,615.7 628.6,607.8 629,600.8 629.4,595 629.8,590.6 630.2,587.8 630.6,586.8 631,587.6 631.4,590.2 631.8,594.3 632.2,600 632.6,606.9 633,614.7 633.4,623 633.8,631.6 634.2,640 634.6,647.9 635,654.9 635.4,660.7 635.8,665 636.2,667.8 636.6,668.7 637,667.9 637.4,665.3 637.8,661.1 638.2,655.4 638.6,648.5 639,640.7 639.4,632.3 639.8,623.7 640.2,615.3 640.6,607.5 641,600.5 641.4,594.8 641.8,590.4 642.2,587.8 642.6,586.8 643,587.7 643.4,590.3 643.8,594.6 644.2,600.3 644.6,607.2 645,615.1 645.4,623.4 645.8,632 646.2,640.4 646.6,648.2 647,655.2 647.4,660.9 647.8,665.2 648.2,667.8 648.6,668.7 649,667.8 649.4,665.2 649.8,660.8 650.2,655.1 650.6,648.1 651,640.3 651.4,631.9 651.8,623.3 652.2,615 652.6,607.1 653,600.2 653.4,594.5 653.8,590.3 654.2,587.7 654.6,586.8 655,587.8 655.4,590.5 655.8,594.8 656.2,600.6 656.6,607.6 657,615.4 657.4,623.8 657.8,632.4 658.2,640.8 658.6,648.6 659,655.5 659.4,661.1 659.8,665.4 660.2,667.9 660.6,668.7 661,667.7 661.4,665 661.8,660.6 662.2,654.8 662.6,647.8 663,639.9 663.4,631.5 663.8,622.9 664.2,614.6 664.6,606.8 665,599.9 665.4,594.3 665.8,590.1 666.2,587.6 666.6,586.8 667,587.9 667.4,590.7 667.8,595.1 668.2,600.9 668.6,607.9 669,615.8 669.4,624.3 669.8,632.8 670.2,641.2 670.6,648.9 671,655.8 671.4,661.4 671.8,665.5 672.2,668 672.6,668.7 673,667.6 673.4,664.8 673.8,660.4 674.2,654.5 674.6,647.4" stroke="#0000ff" stroke-width="2.1" fill="none" stroke-linejoin="round"/>
<path d="M77,667.3 77.4,668.7 77.8,668.2 78.2,666 78.6,662.1 79,656.7 79.4,650.1 79.8,642.4 80.2,634.2 80.6,625.6 81,617.1 81.4,609.1 81.8,601.9 82.2,595.9 82.6,591.2 83,588.2 83.4,586.9 83.8,587.4 84.2,589.6 84.6,593.5 85,599 85.4,605.6 85.8,613.3 86.2,621.6 86.6,630.2 87,638.6 87.4,646.6 87.8,653.8 88.2,659.8 88.6,664.4 89,667.4 89.4,668.7 89.8,668.2 90.2,665.9 90.6,661.9 91,656.5 91.4,649.7 91.8,642.1 92.2,633.8 92.6,625.2 93,616.7 93.4,608.8 93.8,601.6 94.2,595.6 94.6,591.1 95,588.1 95.4,586.9 95.8,587.4 96.2,589.8 96.6,593.8 97,599.2 97.4,606 97.8,613.7 98.2,622 98.6,630.6 99,639 99.4,647 99.8,654.1 100.2,660 100.6,664.6 101,667.5 101.4,668.7 101.8,668.1 102.2,665.7 102.6,661.7 103,656.2 103.4,649.4 103.8,641.7 104.2,633.3 104.6,624.8 105,616.3 105.4,608.4 105.8,601.3 106.2,595.4 106.6,590.9 107,588 107.4,586.8 107.8,587.5 108.2,589.9 108.6,594 109,599.5 109.4,606.3 109.8,614.1 110.2,622.4 110.6,631 111,639.4 111.4,647.3 111.8,654.4 112.2,660.3 112.6,664.8 113,667.6 113.4,668.7 113.8,668 114.2,665.6 114.6,661.5 115,655.9 115.4,649 115.8,641.3 116.2,632.9 116.6,624.4 117,616 117.4,608 117.8,601 118.2,595.1 118.6,590.7 119,587.9 119.4,586.8 119.8,587.6 120.2,590.1 120.6,594.2 121,599.8 121.4,606.7 121.8,614.5 122.2,622.8 122.6,631.4 123,639.8 123.4,647.7 123.8,654.7 124.2,660.5 124.6,664.9 125,667.7 125.4,668.7 125.8,667.9 126.2,665.4 126.6,661.2 127,655.6 127.4,648.7 127.8,640.9 128.2,632.5 128.6,624 129,615.6 129.4,607.7 129.8,600.7 130.2,594.9 130.6,590.5 131,587.8 131.4,586.8 131.8,587.6 132.2,590.2 132.6,594.4 133,600.1 133.4,607 133.8,614.8 134.2,623.2 134.6,631.8 135,640.2 135.4,648 135.8,655 136.2,660.8 136.6,665.1 137,667.8 137.4,668.7 137.8,667.9 138.2,665.2 138.6,661 139,655.3 139.4,648.3 139.8,640.5 140.2,632.1 140.6,623.6 141,615.2 141.4,607.3 141.8,600.4 142.2,594.7 142.6,590.4 143,587.7 143.4,586.8 143.8,587.7 144.2,590.4 144.6,594.7 145,600.4 145.4,607.4 145.8,615.2 146.2,623.6 146.6,632.2 147,640.6 147.4,648.4 147.8,655.3 148.2,661 148.6,665.3 149,667.9 149.4,668.7 149.8,667.8 150.2,665.1 150.6,660.7 151,655 151.4,648 151.8,640.1 152.2,631.7 152.6,623.2 153,614.8 153.4,607 153.8,600.1 154.2,594.4 154.6,590.2 155,587.6 155.4,586.8 155.8,587.8 156.2,590.6 156.6,594.9 157,600.7 157.4,607.7 157.8,615.6 158.2,624 158.6,632.6 159,641 159.4,648.7 159.8,655.6 160.2,661.3 160.6,665.4 161,668 161.4,668.7 161.8,667.7 162.2,664.9 162.6,660.5 163,654.7 163.4,647.6 163.8,639.7 164.2,631.3 164.6,622.8 165,614.4 165.4,606.6 165.8,599.8 166.2,594.2 166.6,590 167,587.6 167.4,586.8 167.8,587.9 168.2,590.7 168.6,595.2 169,601 169.4,608.1 169.8,616 170.2,624.4 170.6,633 171,641.3 171.4,649.1 171.8,655.9 172.2,661.5 172.6,665.6 173,668 173.4,668.7 173.8,667.6 174.2,664.7 174.6,660.3 175,654.3 175.4,647.3 175.8,639.3 176.2,630.9 176.6,622.3 177,614 177.4,606.3 177.8,599.5 178.2,593.9 178.6,589.9 179,587.5 179.4,586.8 179.8,588 180.2,590.9 180.6,595.4 181,601.4 181.4,608.5 181.8,616.4 182.2,624.8 182.6,633.4 183,641.7 183.4,649.4 183.8,656.2 184.2,661.7 184.6,665.7 185,668.1 185.4,668.7 185.8,667.5 186.2,664.6 186.6,660 187,654 187.4,646.9 187.8,639 188.2,630.5 188.6,621.9 189,613.6 189.4,605.9 189.8,599.2 190.2,593.7 190.6,589.7 191,587.4 191.4,586.9 191.8,588.1 192.2,591.1 192.6,595.7 193,601.7 193.4,608.8 193.8,616.8 194.2,625.2 194.6,633.8 195,642.1 195.4,649.8 195.8,656.5 196.2,661.9 196.6,665.9 197,668.2 197.4,668.7 197.8,667.4 198.2,664.4 198.6,659.7 199,653.7 199.4,646.6 199.8,638.6 200.2,630.1 200.6,621.5 201,613.2 201.4,605.6 201.8,598.9 202.2,593.5 202.6,589.6 203,587.3 203.4,586.9 203.8,588.2 204.2,591.3 204.6,595.9 205,602 205.4,609.2 205.8,617.2 206.2,625.7 206.6,634.2 207,642.5 207.4,650.1 207.8,656.8 208.2,662.2 208.6,666 209,668.2 209.4,668.7 209.8,667.3 210.2,664.2 210.6,659.5 211,653.4 211.4,646.2 211.8,638.2 212.2,629.7 212.6,621.1 213,612.9 213.4,605.3 213.8,598.6 214.2,593.3 214.6,589.4 215,587.3 215.4,586.9 215.8,588.3 216.2,591.5 216.6,596.2 217,602.3 217.4,609.5 217.8,617.6 218.2,626.1 218.6,634.6 219,642.9 219.4,650.5 219.8,657.1 220.2,662.4 220.6,666.2 221,668.3 221.4,668.6 221.8,667.2 222.2,664 222.6,659.2 223,653.1 223.4,645.8 223.8,637.8 224.2,629.3 224.6,620.7 225,612.5 225.4,604.9 225.8,598.3 226.2,593.1 226.6,589.3 227,587.2 227.4,586.9 227.8,588.4 228.2,591.6 228.6,596.4 229,602.6 229.4,609.9 229.8,618 230.2,626.5 230.6,635 231,643.3 231.4,650.8 231.8,657.4 232.2,662.6 232.6,666.3 233,668.4 233.4,668.6 233.8,667.1 234.2,663.8 234.6,659 235,652.8 235.4,645.5 235.8,637.4 236.2,628.9 236.6,620.3 237,612.1 237.4,604.6 237.8,598.1 238.2,592.8 238.6,589.2 239,587.2 239.4,587 239.8,588.5 240.2,591.8 240.6,596.7 241,603 241.4,610.3 241.8,618.4 242.2,626.9 242.6,635.4 243,643.6 243.4,651.1 243.8,657.6 244.2,662.8 244.6,666.5 245,668.4 245.4,668.6 245.8,667 246.2,663.6 246.6,658.7 247,652.4 247.4,645.1 247.8,637 248.2,628.5 248.6,619.9 249,611.7 249.4,604.2 249.8,597.8 250.2,592.6 250.6,589 251,587.1 251.4,587 251.8,588.7 252.2,592 252.6,597 253,603.3 253.4,610.6 253.8,618.8 254.2,627.3 254.6,635.8 255,644 255.4,651.5 255.8,657.9 256.2,663 256.6,666.6 257,668.5 257.4,668.5 257.8,666.8 258.2,663.4 258.6,658.4 259,652.1 259.4,644.7 259.8,636.6 260.2,628.1 260.6,619.5 261,611.4 261.4,603.9 261.8,597.5 262.2,592.4 262.6,588.9 263,587.1 263.4,587 263.8,588.8 264.2,592.2 264.6,597.3 265,603.6 265.4,611 265.8,619.2 266.2,627.7 266.6,636.2 267,644.4 267.4,651.8 267.8,658.2 268.2,663.2 268.6,666.7 269,668.5 269.4,668.5 269.8,666.7 270.2,663.2 270.6,658.2 271,651.8 271.4,644.3 271.8,636.2 272.2,627.7 272.6,619.1 273,611 273.4,603.6 273.8,597.2 274.2,592.2 274.6,588.8 275,587 275.4,587.1 275.8,588.9 276.2,592.4 276.6,597.5 277,603.9 277.4,611.4 277.8,619.6 278.2,628.1 278.6,636.6 279,644.8 279.4,652.1 279.8,658.5 280.2,663.4 280.6,666.8 281,668.5 281.4,668.5 281.8,666.6 282.2,663 282.6,657.9 283,651.4 283.4,644 283.8,635.8 284.2,627.2 284.6,618.7 285,610.6 285.4,603.2 285.8,597 286.2,592 286.6,588.6 287,587 287.4,587.1 287.8,589 288.2,592.6 288.6,597.8 289,604.3 289.4,611.8 289.8,620 290.2,628.5 290.6,637 291,645.1 291.4,652.5 291.8,658.7 292.2,663.6 292.6,667 293,668.6 293.4,668.4 293.8,666.4 294.2,662.8 294.6,657.6 295,651.1 295.4,643.6 295.8,635.4 296.2,626.8 296.6,618.3 297,610.2 297.4,602.9 297.8,596.7 298.2,591.8 298.6,588.5 299,587 299.4,587.2 299.8,589.2 300.2,592.9 300.6,598.1 301,604.6 301.4,612.1 301.8,620.4 302.2,628.9 302.6,637.4 303,645.5 303.4,652.8 303.8,659 304.2,663.8 304.6,667.1 305,668.6 305.4,668.3 305.8,666.3 306.2,662.6 306.6,657.3 307,650.8 307.4,643.2 307.8,635 308.2,626.4 308.6,617.9 309,609.9 309.4,602.6 309.8,596.4 310.2,591.6 310.6,588.4 311,586.9 311.4,587.2 311.8,589.3 312.2,593.1 312.6,598.4 313,604.9 313.4,612.5 313.8,620.8 314.2,629.3 314.6,637.8 315,645.9 315.4,653.1 315.8,659.3 316.2,664 316.6,667.2 317,668.6 317.4,668.3 317.8,666.2 318.2,662.4 318.6,657 319,650.4 319.4,642.8 319.8,634.6 320.2,626 320.6,617.5 321,609.5 321.4,602.3 321.8,596.2 322.2,591.4 322.6,588.3 323,586.9 323.4,587.3 323.8,589.5 324.2,593.3 324.6,598.6 325,605.3 325.4,612.9 325.8,621.2 326.2,629.7 326.6,638.2 327,646.2 327.4,653.4 327.8,659.5 328.2,664.2 328.6,667.3 329,668.7 329.4,668.2 329.8,666 330.2,662.1 330.6,656.8 331,650.1 331.4,642.5 331.8,634.2 332.2,625.6 332.6,617.1 333,609.1 333.4,602 333.8,595.9 334.2,591.3 334.6,588.2 335,586.9 335.4,587.4 335.8,589.6 336.2,593.5 336.6,598.9 337,605.6 337.4,613.3 337.8,621.6 338.2,630.1 338.6,638.6 339,646.6 339.4,653.7 339.8,659.8 340.2,664.4 340.6,667.4 341,668.7 341.4,668.2 341.8,665.9 342.2,661.9 342.6,656.5 343,649.8 343.4,642.1 343.8,633.8 344.2,625.2 344.6,616.8 345,608.8 345.4,601.6 345.8,595.7 346.2,591.1 346.6,588.1 347,586.9 347.4,587.4 347.8,589.7 348.2,593.7 348.6,599.2 349,606 349.4,613.7 349.8,622 350.2,630.5 350.6,639 351,646.9 351.4,654.1 351.8,660 352.2,664.6 352.6,667.5 353,668.7 353.4,668.1 353.8,665.7 354.2,661.7 354.6,656.2 355,649.4 355.4,641.7 355.8,633.4 356.2,624.8 356.6,616.4 357,608.4 357.4,601.3 357.8,595.4 358.2,590.9 358.6,588 359,586.8 359.4,587.5 359.8,589.9 360.2,594 360.6,599.5 361,606.3 361.4,614 361.8,622.4 362.2,631 362.6,639.4 363,647.3 363.4,654.4 363.8,660.3 364.2,664.7 364.6,667.6 365,668.7 365.4,668 365.8,665.6 366.2,661.5 366.6,655.9 367,649.1 367.4,641.3 367.8,633 368.2,624.4 368.6,616 369,608.1 369.4,601 369.8,595.2 370.2,590.7 370.6,587.9 371,586.8 371.4,587.6 371.8,590.1 372.2,594.2 372.6,599.8 373,606.7 373.4,614.4 373.8,622.8 374.2,631.4 374.6,639.8 375,647.7 375.4,654.7 375.8,660.5 376.2,664.9 376.6,667.7 377,668.7 377.4,667.9 377.8,665.4 378.2,661.2 378.6,655.6 379,648.7 379.4,640.9 379.8,632.6 380.2,624 380.6,615.6 381,607.7 381.4,600.7 381.8,594.9 382.2,590.5 382.6,587.8 383,586.8 383.4,587.6 383.8,590.2 384.2,594.4 384.6,600.1 385,607 385.4,614.8 385.8,623.2 386.2,631.8 386.6,640.2 387,648 387.4,655 387.8,660.8 388.2,665.1 388.6,667.8 389,668.7 389.4,667.9 389.8,665.3 390.2,661 390.6,655.3 391,648.4 391.4,640.5 391.8,632.2 392.2,623.6 392.6,615.2 393,607.4 393.4,600.4 393.8,594.7 394.2,590.4 394.6,587.7 395,586.8 395.4,587.7 395.8,590.4 396.2,594.7 396.6,600.4 397,607.4 397.4,615.2 397.8,623.6 398.2,632.2 398.6,640.6 399,648.4 399.4,655.3 399.8,661 400.2,665.3 400.6,667.9 401,668.7 401.4,667.8 401.8,665.1 402.2,660.8 402.6,655 403,648 403.4,640.2 403.8,631.8 404.2,623.2 404.6,614.8 405,607 405.4,600.1 405.8,594.4 406.2,590.2 406.6,587.6 407,586.8 407.4,587.8 407.8,590.5 408.2,594.9 408.6,600.7 409,607.7 409.4,615.6 409.8,624 410.2,632.6 410.6,640.9 411,648.7 411.4,655.6 411.8,661.2 412.2,665.4 412.6,668 413,668.7 413.4,667.7 413.8,664.9 414.2,660.5 414.6,654.7 415,647.7 415.4,639.8 415.8,631.3 416.2,622.8 416.6,614.4 417,606.7 417.4,599.8 417.8,594.2 418.2,590 418.6,587.6 419,586.8 419.4,587.9 419.8,590.7 420.2,595.2 420.6,601 421,608.1 421.4,616 421.8,624.4 422.2,633 422.6,641.3 423,649.1 423.4,655.9 423.8,661.5 424.2,665.6 424.6,668 425,668.7 425.4,667.6 425.8,664.7 426.2,660.3 426.6,654.4 427,647.3 427.4,639.4 427.8,630.9 428.2,622.4 428.6,614 429,606.3 429.4,599.5 429.8,594 430.2,589.9 430.6,587.5 431,586.8 431.4,588 431.8,590.9 432.2,595.4 432.6,601.3 433,608.4 433.4,616.4 433.8,624.8 434.2,633.4 434.6,641.7 435,649.4 435.4,656.2 435.8,661.7 436.2,665.7 436.6,668.1 437,668.7 437.4,667.5 437.8,664.6 438.2,660 438.6,654.1 439,646.9 439.4,639 439.8,630.5 440.2,622 440.6,613.6 441,606 441.4,599.2 441.8,593.7 442.2,589.7 442.6,587.4 443,586.9 443.4,588.1 443.8,591.1 444.2,595.7 444.6,601.7 445,608.8 445.4,616.8 445.8,625.2 446.2,633.8 446.6,642.1 447,649.8 447.4,656.5 447.8,661.9 448.2,665.9 448.6,668.2 449,668.7 449.4,667.4 449.8,664.4 450.2,659.8 450.6,653.7 451,646.6 451.4,638.6 451.8,630.1 452.2,621.6 452.6,613.3 453,605.6 453.4,598.9 453.8,593.5 454.2,589.6 454.6,587.3 455,586.9 455.4,588.2 455.8,591.3 456.2,595.9 456.6,602 457,609.2 457.4,617.2 457.8,625.6 458.2,634.2 458.6,642.5 459,650.1 459.4,656.8 459.8,662.2 460.2,666 460.6,668.2 461,668.7 461.4,667.3 461.8,664.2 462.2,659.5 462.6,653.4 463,646.2 463.4,638.2 463.8,629.7 464.2,621.2 464.6,612.9 465,605.3 465.4,598.6 465.8,593.3 466.2,589.4 466.6,587.3 467,586.9 467.4,588.3 467.8,591.4 468.2,596.2 468.6,602.3 469,609.5 469.4,617.6 469.8,626 470.2,634.6 470.6,642.9 471,650.5 471.4,657.1 471.8,662.4 472.2,666.2 472.6,668.3 473,668.6 473.4,667.2 473.8,664 474.2,659.2 474.6,653.1 475,645.8 475.4,637.8 475.8,629.3 476.2,620.8 476.6,612.5 477,604.9 477.4,598.4 477.8,593.1 478.2,589.3 478.6,587.2 479,586.9 479.4,588.4 479.8,591.6 480.2,596.4 480.6,602.6 481,609.9 481.4,618 481.8,626.4 482.2,635 482.6,643.2 483,650.8 483.4,657.3 483.8,662.6 484.2,666.3 484.6,668.4 485,668.6 485.4,667.1 485.8,663.8 486.2,659 486.6,652.8 487,645.5 487.4,637.4 487.8,628.9 488.2,620.4 488.6,612.1 489,604.6 489.4,598.1 489.8,592.9 490.2,589.2 490.6,587.2 491,587 491.4,588.5 491.8,591.8 492.2,596.7 492.6,602.9 493,610.3 493.4,618.3 493.8,626.9 494.2,635.4 494.6,643.6 495,651.1 495.4,657.6 495.8,662.8 496.2,666.5 496.6,668.4 497,668.6 497.4,667 497.8,663.6 498.2,658.7 498.6,652.5 499,645.1 499.4,637 499.8,628.5 500.2,620 500.6,611.8 501,604.3 501.4,597.8 501.8,592.6 502.2,589 502.6,587.1 503,587 503.4,588.7 503.8,592 504.2,597 504.6,603.3 505,610.6 505.4,618.7 505.8,627.3 506.2,635.8 506.6,644 507,651.5 507.4,657.9 507.8,663 508.2,666.6 508.6,668.5 509,668.5 509.4,666.8 509.8,663.4 510.2,658.4 510.6,652.1 511,644.7 511.4,636.6 511.8,628.1 512.2,619.6 512.6,611.4 513,603.9 513.4,597.5 513.8,592.4 514.2,588.9 514.6,587.1 515,587 515.4,588.8 515.8,592.2 516.2,597.2 516.6,603.6 517,611 517.4,619.1 517.8,627.7 518.2,636.2 518.6,644.4 519,651.8 519.4,658.2 519.8,663.2 520.2,666.7 520.6,668.5 521,668.5 521.4,666.7 521.8,663.2 522.2,658.2 522.6,651.8 523,644.4 523.4,636.2 523.8,627.7 524.2,619.2 524.6,611 525,603.6 525.4,597.2 525.8,592.2 526.2,588.8 526.6,587 527,587.1 527.4,588.9 527.8,592.4 528.2,597.5 528.6,603.9 529,611.4 529.4,619.5 529.8,628.1 530.2,636.6 530.6,644.7 531,652.1 531.4,658.4 531.8,663.4 532.2,666.8 532.6,668.5 533,668.5 533.4,666.6 533.8,663 534.2,657.9 534.6,651.5 535,644 535.4,635.8 535.8,627.3 536.2,618.8 536.6,610.6 537,603.3 537.4,597 537.8,592 538.2,588.7 538.6,587 539,587.1 539.4,589 539.8,592.6 540.2,597.8 540.6,604.3 541,611.7 541.4,619.9 541.8,628.5 542.2,637 542.6,645.1 543,652.4 543.4,658.7 543.8,663.6 544.2,667 544.6,668.6 545,668.4 545.4,666.5 545.8,662.8 546.2,657.6 546.6,651.1 547,643.6 547.4,635.4 547.8,626.9 548.2,618.4 548.6,610.3 549,602.9 549.4,596.7 549.8,591.8 550.2,588.5 550.6,587 551,587.2 551.4,589.2 551.8,592.8 552.2,598.1 552.6,604.6 553,612.1 553.4,620.3 553.8,628.9 554.2,637.4 554.6,645.5 555,652.8 555.4,659 555.8,663.8 556.2,667.1 556.6,668.6 557,668.4 557.4,666.3 557.8,662.6 558.2,657.3 558.6,650.8 559,643.2 559.4,635 559.8,626.5 560.2,618 560.6,609.9 561,602.6 561.4,596.4 561.8,591.6 562.2,588.4 562.6,586.9 563,587.2 563.4,589.3 563.8,593.1 564.2,598.3 564.6,604.9 565,612.5 565.4,620.7 565.8,629.3 566.2,637.8 566.6,645.8 567,653.1 567.4,659.2 567.8,664 568.2,667.2 568.6,668.6 569,668.3 569.4,666.2 569.8,662.4 570.2,657.1 570.6,650.5 571,642.9 571.4,634.6 571.8,626 572.2,617.6 572.6,609.5 573,602.3 573.4,596.2 573.8,591.4 574.2,588.3 574.6,586.9 575,587.3 575.4,589.4 575.8,593.3 576.2,598.6 576.6,605.3 577,612.9 577.4,621.1 577.8,629.7 578.2,638.2 578.6,646.2 579,653.4 579.4,659.5 579.8,664.2 580.2,667.3 580.6,668.7 581,668.2 581.4,666 581.8,662.2 582.2,656.8 582.6,650.1 583,642.5 583.4,634.2 583.8,625.6 584.2,617.2 584.6,609.2 585,602 585.4,595.9 585.8,591.3 586.2,588.2 586.6,586.9 587,587.3 587.4,589.6 587.8,593.5 588.2,598.9 588.6,605.6 589,613.3 589.4,621.6 589.8,630.1 590.2,638.6 590.6,646.6 591,653.7 591.4,659.8 591.8,664.4 592.2,667.4 592.6,668.7 593,668.2 593.4,665.9 593.8,661.9 594.2,656.5 594.6,649.8 595,642.1 595.4,633.8 595.8,625.2 596.2,616.8 596.6,608.8 597,601.7 597.4,595.7 597.8,591.1 598.2,588.1 598.6,586.9 599,587.4 599.4,589.7 599.8,593.7 600.2,599.2 600.6,605.9 601,613.6 601.4,622 601.8,630.5 602.2,639 602.6,646.9 603,654 603.4,660 603.8,664.6 604.2,667.5 604.6,668.7 605,668.1 605.4,665.7 605.8,661.7 606.2,656.2 606.6,649.4 607,641.7 607.4,633.4 607.8,624.8 608.2,616.4 608.6,608.4 609,601.3 609.4,595.4 609.8,590.9 610.2,588 610.6,586.8 611,587.5 611.4,589.9 611.8,594 612.2,599.5 612.6,606.3 613,614 613.4,622.4 613.8,630.9 614.2,639.4 614.6,647.3 615,654.4 615.4,660.3 615.8,664.7 616.2,667.6 616.6,668.7 617,668 617.4,665.6 617.8,661.5 618.2,655.9 618.6,649.1 619,641.3 619.4,633 619.8,624.4 620.2,616 620.6,608.1 621,601 621.4,595.2 621.8,590.7 622.2,587.9 622.6,586.8 623,587.6 623.4,590 623.8,594.2 624.2,599.8 624.6,606.6 625,614.4 625.4,622.8 625.8,631.3 626.2,639.8 626.6,647.6 627,654.7 627.4,660.5 627.8,664.9 628.2,667.7 628.6,668.7 629,668 629.4,665.4 629.8,661.2 630.2,655.6 630.6,648.7 631,640.9 631.4,632.6 631.8,624 632.2,615.6 632.6,607.7 633,600.7 633.4,594.9 633.8,590.6 634.2,587.8 634.6,586.8 635,587.6 635.4,590.2 635.8,594.4 636.2,600.1 636.6,607 637,614.8 637.4,623.2 637.8,631.7 638.2,640.1 638.6,648 639,655 639.4,660.8 639.8,665.1 640.2,667.8 640.6,668.7 641,667.9 641.4,665.3 641.8,661 642.2,655.3 642.6,648.4 643,640.6 643.4,632.2 643.8,623.6 644.2,615.2 644.6,607.4 645,600.4 645.4,594.7 645.8,590.4 646.2,587.7 646.6,586.8 647,587.7 647.4,590.4 647.8,594.7 648.2,600.4 648.6,607.3 649,615.2 649.4,623.6 649.8,632.1 650.2,640.5 650.6,648.4 651,655.3 651.4,661 651.8,665.2 652.2,667.9 652.6,668.7 653,667.8 653.4,665.1 653.8,660.8 654.2,655 654.6,648 655,640.2 655.4,631.8 655.8,623.2 656.2,614.8 656.6,607 657,600.1 657.4,594.4 657.8,590.2 658.2,587.6 658.6,586.8 659,587.8 659.4,590.5 659.8,594.9 660.2,600.7 660.6,607.7 661,615.6 661.4,624 661.8,632.6 662.2,640.9 662.6,648.7 663,655.6 663.4,661.2 663.8,665.4 664.2,667.9 664.6,668.7 665,667.7 665.4,664.9 665.8,660.5 666.2,654.7 666.6,647.7 667,639.8 667.4,631.4 667.8,622.8 668.2,614.4 668.6,606.7 669,599.8 669.4,594.2 669.8,590.1 670.2,587.6 670.6,586.8 671,587.9 671.4,590.7 671.8,595.1 672.2,601 672.6,608.1 673,616 673.4,624.4 673.8,633 674.2,641.3 674.6,649.1" stroke="#ff0000" stroke-width="2.1" fill="none" stroke-linejoin="round"/>
<path d="M77,598.8 77.4,605.4 77.8,613 78.2,621.3 78.6,629.9 79,638.4 79.4,646.4 79.8,653.6 80.2,659.6 80.6,664.3 81,667.3 81.4,668.7 81.8,668.2 82.2,666 82.6,662.1 83,656.6 83.4,650 83.8,642.3 84.2,634 84.6,625.5 85,617 85.4,609 85.8,601.8 86.2,595.8 86.6,591.2 87,588.2 87.4,586.9 87.8,587.4 88.2,589.7 88.6,593.6 89,599 89.4,605.8 89.8,613.4 90.2,621.7 90.6,630.3 91,638.8 91.4,646.7 91.8,653.9 92.2,659.9 92.6,664.5 93,667.4 93.4,668.7 93.8,668.1 94.2,665.8 94.6,661.8 95,656.4 95.4,649.6 95.8,641.9 96.2,633.6 96.6,625.1 97,616.6 97.4,608.6 97.8,601.5 98.2,595.6 98.6,591 99,588.1 99.4,586.9 99.8,587.4 100.2,589.8 100.6,593.8 101,599.3 101.4,606.1 101.8,613.8 102.2,622.1 102.6,630.7 103,639.1 103.4,647.1 103.8,654.2 104.2,660.1 104.6,664.6 105,667.5 105.4,668.7 105.8,668.1 106.2,665.7 106.6,661.6 107,656.1 107.4,649.3 107.8,641.5 108.2,633.2 108.6,624.6 109,616.2 109.4,608.3 109.8,601.2 110.2,595.3 110.6,590.8 111,588 111.4,586.8 111.8,587.5 112.2,590 112.6,594.1 113,599.6 113.4,606.4 113.8,614.2 114.2,622.5 114.6,631.1 115,639.5 115.4,647.4 115.8,654.5 116.2,660.4 116.6,664.8 117,667.6 117.4,668.7 117.8,668 118.2,665.5 118.6,661.4 119,655.8 119.4,648.9 119.8,641.2 120.2,632.8 120.6,624.2 121,615.8 121.4,607.9 121.8,600.9 122.2,595.1 122.6,590.6 123,587.9 123.4,586.8 123.8,587.6 124.2,590.1 124.6,594.3 125,599.9 125.4,606.8 125.8,614.6 126.2,622.9 126.6,631.5 127,639.9 127.4,647.8 127.8,654.8 128.2,660.6 128.6,665 129,667.7 129.4,668.7 129.8,667.9 130.2,665.4 130.6,661.1 131,655.5 131.4,648.6 131.8,640.8 132.2,632.4 132.6,623.8 133,615.4 133.4,607.6 133.8,600.6 134.2,594.8 134.6,590.5 135,587.8 135.4,586.8 135.8,587.7 136.2,590.3 136.6,594.5 137,600.2 137.4,607.1 137.8,615 138.2,623.3 138.6,631.9 139,640.3 139.4,648.2 139.8,655.1 140.2,660.9 140.6,665.2 141,667.8 141.4,668.7 141.8,667.8 142.2,665.2 142.6,660.9 143,655.2 143.4,648.2 143.8,640.4 144.2,632 144.6,623.4 145,615 145.4,607.2 145.8,600.3 146.2,594.6 146.6,590.3 147,587.7 147.4,586.8 147.8,587.8 148.2,590.4 148.6,594.8 149,600.5 149.4,607.5 149.8,615.4 150.2,623.8 150.6,632.3 151,640.7 151.4,648.5 151.8,655.4 152.2,661.1 152.6,665.3 153,667.9 153.4,668.7 153.8,667.7 154.2,665 154.6,660.7 155,654.9 155.4,647.9 155.8,640 156.2,631.6 156.6,623 157,614.7 157.4,606.9 157.8,600 158.2,594.3 158.6,590.1 159,587.6 159.4,586.8 159.8,587.8 160.2,590.6 160.6,595 161,600.8 161.4,607.9 161.8,615.7 162.2,624.2 162.6,632.7 163,641.1 163.4,648.9 163.8,655.7 164.2,661.3 164.6,665.5 165,668 165.4,668.7 165.8,667.7 166.2,664.8 166.6,660.4 167,654.6 167.4,647.5 167.8,639.6 168.2,631.2 168.6,622.6 169,614.3 169.4,606.5 169.8,599.7 170.2,594.1 170.6,590 171,587.5 171.4,586.8 171.8,587.9 172.2,590.8 172.6,595.3 173,601.2 173.4,608.2 173.8,616.1 174.2,624.6 174.6,633.1 175,641.5 175.4,649.2 175.8,656 176.2,661.6 176.6,665.6 177,668.1 177.4,668.7 177.8,667.6 178.2,664.7 178.6,660.2 179,654.2 179.4,647.2 179.8,639.2 180.2,630.8 180.6,622.2 181,613.9 181.4,606.2 181.8,599.4 182.2,593.9 182.6,589.8 183,587.5 183.4,586.9 183.8,588 184.2,591 184.6,595.5 185,601.5 185.4,608.6 185.8,616.5 186.2,625 186.6,633.5 187,641.9 187.4,649.6 187.8,656.3 188.2,661.8 188.6,665.8 189,668.1 189.4,668.7 189.8,667.5 190.2,664.5 190.6,659.9 191,653.9 191.4,646.8 191.8,638.8 192.2,630.4 192.6,621.8 193,613.5 193.4,605.8 193.8,599.1 194.2,593.6 194.6,589.7 195,587.4 195.4,586.9 195.8,588.1 196.2,591.1 196.6,595.8 197,601.8 197.4,608.9 197.8,616.9 198.2,625.4 198.6,633.9 199,642.2 199.4,649.9 199.8,656.6 200.2,662 200.6,665.9 201,668.2 201.4,668.7 201.8,667.4 202.2,664.3 202.6,659.7 203,653.6 203.4,646.4 203.8,638.4 204.2,630 204.6,621.4 205,613.1 205.4,605.5 205.8,598.8 206.2,593.4 206.6,589.5 207,587.3 207.4,586.9 207.8,588.2 208.2,591.3 208.6,596 209,602.1 209.4,609.3 209.8,617.3 210.2,625.8 210.6,634.3 211,642.6 211.4,650.2 211.8,656.9 212.2,662.2 212.6,666.1 213,668.3 213.4,668.7 213.8,667.3 214.2,664.1 214.6,659.4 215,653.3 215.4,646.1 215.8,638 216.2,629.6 216.6,621 217,612.7 217.4,605.1 217.8,598.5 218.2,593.2 218.6,589.4 219,587.3 219.4,586.9 219.8,588.3 220.2,591.5 220.6,596.3 221,602.4 221.4,609.7 221.8,617.7 222.2,626.2 222.6,634.8 223,643 223.4,650.6 223.8,657.2 224.2,662.5 224.6,666.2 225,668.3 225.4,668.6 225.8,667.1 226.2,663.9 226.6,659.1 227,653 227.4,645.7 227.8,637.6 228.2,629.2 228.6,620.6 229,612.4 229.4,604.8 229.8,598.2 230.2,593 230.6,589.3 231,587.2 231.4,586.9 231.8,588.5 232.2,591.7 232.6,596.5 233,602.7 233.4,610 233.8,618.1 234.2,626.6 234.6,635.2 235,643.4 235.4,650.9 235.8,657.4 236.2,662.7 236.6,666.4 237,668.4 237.4,668.6 237.8,667 238.2,663.7 238.6,658.9 239,652.7 239.4,645.3 239.8,637.2 240.2,628.7 240.6,620.2 241,612 241.4,604.5 241.8,598 242.2,592.8 242.6,589.1 243,587.2 243.4,587 243.8,588.6 244.2,591.9 244.6,596.8 245,603.1 245.4,610.4 245.8,618.5 246.2,627 246.6,635.6 247,643.8 247.4,651.3 247.8,657.7 248.2,662.9 248.6,666.5 249,668.4 249.4,668.6 249.8,666.9 250.2,663.5 250.6,658.6 251,652.3 251.4,645 251.8,636.8 252.2,628.3 252.6,619.8 253,611.6 253.4,604.1 253.8,597.7 254.2,592.6 254.6,589 255,587.1 255.4,587 255.8,588.7 256.2,592.1 256.6,597.1 257,603.4 257.4,610.8 257.8,618.9 258.2,627.4 258.6,636 259,644.1 259.4,651.6 259.8,658 260.2,663.1 260.6,666.6 261,668.5 261.4,668.5 261.8,666.8 262.2,663.3 262.6,658.3 263,652 263.4,644.6 263.8,636.5 264.2,627.9 264.6,619.4 265,611.2 265.4,603.8 265.8,597.4 266.2,592.4 266.6,588.9 267,587.1 267.4,587 267.8,588.8 268.2,592.3 268.6,597.3 269,603.7 269.4,611.1 269.8,619.3 270.2,627.8 270.6,636.4 271,644.5 271.4,651.9 271.8,658.3 272.2,663.3 272.6,666.8 273,668.5 273.4,668.5 273.8,666.7 274.2,663.1 274.6,658.1 275,651.7 275.4,644.2 275.8,636.1 276.2,627.5 276.6,619 277,610.9 277.4,603.5 277.8,597.1 278.2,592.2 278.6,588.7 279,587 279.4,587.1 279.8,588.9 280.2,592.5 280.6,597.6 281,604 281.4,611.5 281.8,619.7 282.2,628.2 282.6,636.8 283,644.9 283.4,652.2 283.8,658.5 284.2,663.5 284.6,666.9 285,668.6 285.4,668.4 285.8,666.5 286.2,662.9 286.6,657.8 287,651.3 287.4,643.8 287.8,635.7 288.2,627.1 288.6,618.6 289,610.5 289.4,603.1 289.8,596.9 290.2,592 290.6,588.6 291,587 291.4,587.1 291.8,589.1 292.2,592.7 292.6,597.9 293,604.4 293.4,611.9 293.8,620.1 294.2,628.6 294.6,637.1 295,645.2 295.4,652.6 295.8,658.8 296.2,663.7 296.6,667 297,668.6 297.4,668.4 297.8,666.4 298.2,662.7 298.6,657.5 299,651 299.4,643.5 299.8,635.3 300.2,626.7 300.6,618.2 301,610.1 301.4,602.8 301.8,596.6 302.2,591.8 302.6,588.5 303,586.9 303.4,587.2 303.8,589.2 304.2,592.9 304.6,598.2 305,604.7 305.4,612.3 305.8,620.5 306.2,629.1 306.6,637.5 307,645.6 307.4,652.9 307.8,659.1 308.2,663.9 308.6,667.1 309,668.6 309.4,668.3 309.8,666.3 310.2,662.5 310.6,657.2 311,650.7 311.4,643.1 311.8,634.8 312.2,626.3 312.6,617.8 313,609.8 313.4,602.5 313.8,596.3 314.2,591.6 314.6,588.4 315,586.9 315.4,587.2 315.8,589.4 316.2,593.1 316.6,598.5 317,605.1 317.4,612.6 317.8,620.9 318.2,629.5 318.6,637.9 319,646 319.4,653.2 319.8,659.3 320.2,664.1 320.6,667.2 321,668.6 321.4,668.3 321.8,666.1 322.2,662.3 322.6,656.9 323,650.3 323.4,642.7 323.8,634.4 324.2,625.9 324.6,617.4 325,609.4 325.4,602.2 325.8,596.1 326.2,591.4 326.6,588.3 327,586.9 327.4,587.3 327.8,589.5 328.2,593.4 328.6,598.7 329,605.4 329.4,613 329.8,621.3 330.2,629.9 330.6,638.3 331,646.3 331.4,653.5 331.8,659.6 332.2,664.3 332.6,667.3 333,668.7 333.4,668.2 333.8,666 334.2,662.1 334.6,656.7 335,650 335.4,642.3 335.8,634 336.2,625.5 336.6,617 337,609 337.4,601.9 337.8,595.8 338.2,591.2 338.6,588.2 339,586.9 339.4,587.4 339.8,589.6 340.2,593.6 340.6,599 341,605.7 341.4,613.4 341.8,621.7 342.2,630.3 342.6,638.7 343,646.7 343.4,653.9 343.8,659.9 344.2,664.5 344.6,667.4 345,668.7 345.4,668.1 345.8,665.8 346.2,661.8 346.6,656.4 347,649.6 347.4,642 347.8,633.6 348.2,625.1 348.6,616.6 349,608.7 349.4,601.5 349.8,595.6 350.2,591 350.6,588.1 351,586.9 351.4,587.4 351.8,589.8 352.2,593.8 352.6,599.3 353,606.1 353.4,613.8 353.8,622.1 354.2,630.7 354.6,639.1 355,647.1 355.4,654.2 355.8,660.1 356.2,664.6 356.6,667.5 357,668.7 357.4,668.1 357.8,665.7 358.2,661.6 358.6,656.1 359,649.3 359.4,641.6 359.8,633.2 360.2,624.7 360.6,616.2 361,608.3 361.4,601.2 361.8,595.3 362.2,590.8 362.6,588 363,586.8 363.4,587.5 363.8,590 364.2,594 364.6,599.6 365,606.4 365.4,614.2 365.8,622.5 366.2,631.1 366.6,639.5 367,647.4 367.4,654.5 367.8,660.4 368.2,664.8 368.6,667.6 369,668.7 369.4,668 369.8,665.5 370.2,661.4 370.6,655.8 371,648.9 371.4,641.2 371.8,632.8 372.2,624.3 372.6,615.8 373,607.9 373.4,600.9 373.8,595.1 374.2,590.7 374.6,587.9 375,586.8 375.4,587.6 375.8,590.1 376.2,594.3 376.6,599.9 377,606.8 377.4,614.6 377.8,622.9 378.2,631.5 378.6,639.9 379,647.8 379.4,654.8 379.8,660.6 380.2,665 380.6,667.7 381,668.7 381.4,667.9 381.8,665.4 382.2,661.2 382.6,655.5 383,648.6 383.4,640.8 383.8,632.4 384.2,623.9 384.6,615.5 385,607.6 385.4,600.6 385.8,594.8 386.2,590.5 386.6,587.8 387,586.8 387.4,587.7 387.8,590.3 388.2,594.5 388.6,600.2 389,607.1 389.4,614.9 389.8,623.3 390.2,631.9 390.6,640.3 391,648.1 391.4,655.1 391.8,660.8 392.2,665.1 392.6,667.8 393,668.7 393.4,667.8 393.8,665.2 394.2,660.9 394.6,655.2 395,648.2 395.4,640.4 395.8,632 396.2,623.4 396.6,615.1 397,607.2 397.4,600.3 397.8,594.6 398.2,590.3 398.6,587.7 399,586.8 399.4,587.8 399.8,590.4 400.2,594.8 400.6,600.5 401,607.5 401.4,615.3 401.8,623.7 402.2,632.3 402.6,640.7 403,648.5 403.4,655.4 403.8,661.1 404.2,665.3 404.6,667.9 405,668.7 405.4,667.8 405.8,665 406.2,660.7 406.6,654.9 407,647.9 407.4,640 407.8,631.6 408.2,623 408.6,614.7 409,606.9 409.4,600 409.8,594.3 410.2,590.2 410.6,587.6 411,586.8 411.4,587.8 411.8,590.6 412.2,595 412.6,600.8 413,607.8 413.4,615.7 413.8,624.1 414.2,632.7 414.6,641.1 415,648.8 415.4,655.7 415.8,661.3 416.2,665.5 416.6,668 417,668.7 417.4,667.7 417.8,664.9 418.2,660.4 418.6,654.6 419,647.5 419.4,639.6 419.8,631.2 420.2,622.6 420.6,614.3 421,606.5 421.4,599.7 421.8,594.1 422.2,590 422.6,587.5 423,586.8 423.4,587.9 423.8,590.8 424.2,595.2 424.6,601.1 425,608.2 425.4,616.1 425.8,624.5 426.2,633.1 426.6,641.5 427,649.2 427.4,656 427.8,661.6 428.2,665.6 428.6,668.1 429,668.7 429.4,667.6 429.8,664.7 430.2,660.2 430.6,654.3 431,647.2 431.4,639.2 431.8,630.8 432.2,622.2 432.6,613.9 433,606.2 433.4,599.4 433.8,593.9 434.2,589.8 434.6,587.5 435,586.8 435.4,588 435.8,591 436.2,595.5 436.6,601.4 437,608.6 437.4,616.5 437.8,625 438.2,633.5 438.6,641.8 439,649.5 439.4,656.3 439.8,661.8 440.2,665.8 440.6,668.1 441,668.7 441.4,667.5 441.8,664.5 442.2,659.9 442.6,653.9 443,646.8 443.4,638.8 443.8,630.4 444.2,621.8 444.6,613.5 445,605.8 445.4,599.1 445.8,593.7 446.2,589.7 446.6,587.4 447,586.9 447.4,588.1 447.8,591.1 448.2,595.7 448.6,601.8 449,608.9 449.4,616.9 449.8,625.4 450.2,633.9 450.6,642.2 451,649.9 451.4,656.6 451.8,662 452.2,665.9 452.6,668.2 453,668.7 453.4,667.4 453.8,664.3 454.2,659.7 454.6,653.6 455,646.5 455.4,638.5 455.8,630 456.2,621.4 456.6,613.1 457,605.5 457.4,598.8 457.8,593.4 458.2,589.5 458.6,587.3 459,586.9 459.4,588.2 459.8,591.3 460.2,596 460.6,602.1 461,609.3 461.4,617.3 461.8,625.8 462.2,634.3 462.6,642.6 463,650.2 463.4,656.9 463.8,662.2 464.2,666.1 464.6,668.3 465,668.7 465.4,667.3 465.8,664.1 466.2,659.4 466.6,653.3 467,646.1 467.4,638.1 467.8,629.6 468.2,621 468.6,612.8 469,605.2 469.4,598.5 469.8,593.2 470.2,589.4 470.6,587.3 471,586.9 471.4,588.3 471.8,591.5 472.2,596.3 472.6,602.4 473,609.6 473.4,617.7 473.8,626.2 474.2,634.7 474.6,643 475,650.6 475.4,657.1 475.8,662.4 476.2,666.2 476.6,668.3 477,668.6 477.4,667.2 477.8,663.9 478.2,659.2 478.6,653 479,645.7 479.4,637.7 479.8,629.2 480.2,620.6 480.6,612.4 481,604.8 481.4,598.3 481.8,593 482.2,589.3 482.6,587.2 483,586.9 483.4,588.5 483.8,591.7 484.2,596.5 484.6,602.7 485,610 485.4,618.1 485.8,626.6 486.2,635.1 486.6,643.4 487,650.9 487.4,657.4 487.8,662.7 488.2,666.4 488.6,668.4 489,668.6 489.4,667 489.8,663.8 490.2,658.9 490.6,652.7 491,645.4 491.4,637.3 491.8,628.8 492.2,620.2 492.6,612 493,604.5 493.4,598 493.8,592.8 494.2,589.1 494.6,587.2 495,587 495.4,588.6 495.8,591.9 496.2,596.8 496.6,603 497,610.4 497.4,618.5 497.8,627 498.2,635.5 498.6,643.7 499,651.2 499.4,657.7 499.8,662.9 500.2,666.5 500.6,668.4 501,668.6 501.4,666.9 501.8,663.6 502.2,658.6 502.6,652.3 503,645 503.4,636.9 503.8,628.4 504.2,619.8 504.6,611.6 505,604.1 505.4,597.7 505.8,592.6 506.2,589 506.6,587.1 507,587 507.4,588.7 507.8,592.1 508.2,597.1 508.6,603.4 509,610.8 509.4,618.9 509.8,627.4 510.2,635.9 510.6,644.1 511,651.6 511.4,658 511.8,663.1 512.2,666.6 512.6,668.5 513,668.5 513.4,666.8 513.8,663.4 514.2,658.4 514.6,652 515,644.6 515.4,636.5 515.8,627.9 516.2,619.4 516.6,611.3 517,603.8 517.4,597.4 517.8,592.4 518.2,588.9 518.6,587.1 519,587 519.4,588.8 519.8,592.3 520.2,597.3 520.6,603.7 521,611.1 521.4,619.3 521.8,627.8 522.2,636.3 522.6,644.5 523,651.9 523.4,658.3 523.8,663.3 524.2,666.8 524.6,668.5 525,668.5 525.4,666.7 525.8,663.2 526.2,658.1 526.6,651.7 527,644.2 527.4,636.1 527.8,627.5 528.2,619 528.6,610.9 529,603.5 529.4,597.2 529.8,592.2 530.2,588.7 530.6,587 531,587.1 531.4,588.9 531.8,592.5 532.2,597.6 532.6,604 533,611.5 533.4,619.7 533.8,628.2 534.2,636.7 534.6,644.9 535,652.2 535.4,658.5 535.8,663.5 536.2,666.9 536.6,668.6 537,668.4 537.4,666.5 537.8,662.9 538.2,657.8 538.6,651.4 539,643.9 539.4,635.7 539.8,627.1 540.2,618.6 540.6,610.5 541,603.2 541.4,596.9 541.8,592 542.2,588.6 542.6,587 543,587.1 543.4,589.1 543.8,592.7 544.2,597.9 544.6,604.4 545,611.9 545.4,620.1 545.8,628.6 546.2,637.1 546.6,645.2 547,652.6 547.4,658.8 547.8,663.7 548.2,667 548.6,668.6 549,668.4 549.4,666.4 549.8,662.7 550.2,657.5 550.6,651 551,643.5 551.4,635.3 551.8,626.7 552.2,618.2 552.6,610.1 553,602.8 553.4,596.6 553.8,591.8 554.2,588.5 554.6,586.9 555,587.2 555.4,589.2 555.8,592.9 556.2,598.2 556.6,604.7 557,612.2 557.4,620.5 557.8,629 558.2,637.5 558.6,645.6 559,652.9 559.4,659.1 559.8,663.9 560.2,667.1 560.6,668.6 561,668.3 561.4,666.3 561.8,662.5 562.2,657.2 562.6,650.7 563,643.1 563.4,634.9 563.8,626.3 564.2,617.8 564.6,609.8 565,602.5 565.4,596.4 565.8,591.6 566.2,588.4 566.6,586.9 567,587.2 567.4,589.3 567.8,593.1 568.2,598.4 568.6,605 569,612.6 569.4,620.9 569.8,629.4 570.2,637.9 570.6,646 571,653.2 571.4,659.3 571.8,664.1 572.2,667.2 572.6,668.6 573,668.3 573.4,666.1 573.8,662.3 574.2,657 574.6,650.3 575,642.7 575.4,634.5 575.8,625.9 576.2,617.4 576.6,609.4 577,602.2 577.4,596.1 577.8,591.4 578.2,588.3 578.6,586.9 579,587.3 579.4,589.5 579.8,593.4 580.2,598.7 580.6,605.4 581,613 581.4,621.3 581.8,629.8 582.2,638.3 582.6,646.3 583,653.5 583.4,659.6 583.8,664.3 584.2,667.3 584.6,668.7 585,668.2 585.4,666 585.8,662.1 586.2,656.7 586.6,650 587,642.4 587.4,634.1 587.8,625.5 588.2,617 588.6,609 589,601.9 589.4,595.8 589.8,591.2 590.2,588.2 590.6,586.9 591,587.4 591.4,589.6 591.8,593.6 592.2,599 592.6,605.7 593,613.4 593.4,621.7 593.8,630.3 594.2,638.7 594.6,646.7 595,653.8 595.4,659.8 595.8,664.4 596.2,667.4 596.6,668.7 597,668.1 597.4,665.8 597.8,661.9 598.2,656.4 598.6,649.7 599,642 599.4,633.7 599.8,625.1 600.2,616.6 600.6,608.7 601,601.6 601.4,595.6 601.8,591 602.2,588.1 602.6,586.9 603,587.4 603.4,589.8 603.8,593.8 604.2,599.3 604.6,606.1 605,613.8 605.4,622.1 605.8,630.7 606.2,639.1 606.6,647 607,654.1 607.4,660.1 607.8,664.6 608.2,667.5 608.6,668.7 609,668.1 609.4,665.7 609.8,661.6 610.2,656.1 610.6,649.3 611,641.6 611.4,633.3 611.8,624.7 612.2,616.3 612.6,608.3 613,601.2 613.4,595.3 613.8,590.8 614.2,588 614.6,586.8 615,587.5 615.4,589.9 615.8,594 616.2,599.6 616.6,606.4 617,614.2 617.4,622.5 617.8,631.1 618.2,639.5 618.6,647.4 619,654.5 619.4,660.3 619.8,664.8 620.2,667.6 620.6,668.7 621,668 621.4,665.5 621.8,661.4 622.2,655.8 622.6,649 623,641.2 623.4,632.9 623.8,624.3 624.2,615.9 624.6,608 625,600.9 625.4,595.1 625.8,590.7 626.2,587.9 626.6,586.8 627,587.6 627.4,590.1 627.8,594.3 628.2,599.9 628.6,606.8 629,614.5 629.4,622.9 629.8,631.5 630.2,639.9 630.6,647.8 631,654.8 631.4,660.6 631.8,665 632.2,667.7 632.6,668.7 633,667.9 633.4,665.4 633.8,661.2 634.2,655.5 634.6,648.6 635,640.8 635.4,632.4 635.8,623.9 636.2,615.5 636.6,607.6 637,600.6 637.4,594.8 637.8,590.5 638.2,587.8 638.6,586.8 639,587.7 639.4,590.3 639.8,594.5 640.2,600.2 640.6,607.1 641,614.9 641.4,623.3 641.8,631.9 642.2,640.3 642.6,648.1 643,655.1 643.4,660.8 643.8,665.1 644.2,667.8 644.6,668.7 645,667.8 645.4,665.2 645.8,660.9 646.2,655.2 646.6,648.3 647,640.4 647.4,632 647.8,623.5 648.2,615.1 648.6,607.3 649,600.3 649.4,594.6 649.8,590.3 650.2,587.7 650.6,586.8 651,587.7 651.4,590.4 651.8,594.7 652.2,600.5 652.6,607.5 653,615.3 653.4,623.7 653.8,632.3 654.2,640.7 654.6,648.5 655,655.4 655.4,661.1 655.8,665.3 656.2,667.9 656.6,668.7 657,667.8 657.4,665 657.8,660.7 658.2,654.9 658.6,647.9 659,640 659.4,631.6 659.8,623.1 660.2,614.7 660.6,606.9 661,600 661.4,594.4 661.8,590.2 662.2,587.6 662.6,586.8 663,587.8 663.4,590.6 663.8,595 664.2,600.8 664.6,607.8 665,615.7 665.4,624.1 665.8,632.7 666.2,641 666.6,648.8 667,655.7 667.4,661.3 667.8,665.5 668.2,668 668.6,668.7 669,667.7 669.4,664.9 669.8,660.4 670.2,654.6 670.6,647.6 671,639.7 671.4,631.2 671.8,622.7 672.2,614.3 672.6,606.6 673,599.7 673.4,594.1 673.8,590 674.2,587.5 674.6,586.8" stroke="#ff00ff" stroke-width="2.1" fill="none" stroke-linejoin="round"/>
</svg>
</svg></body></html>
